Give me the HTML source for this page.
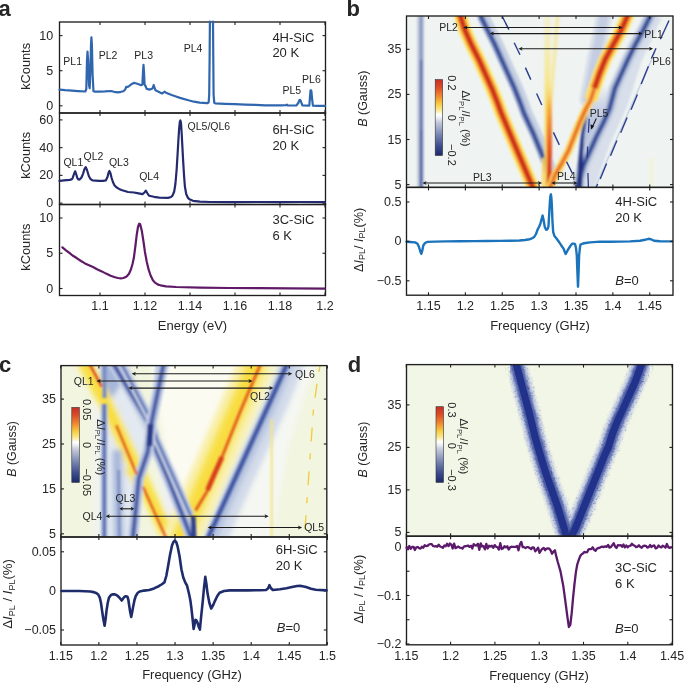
<!DOCTYPE html>
<html><head><meta charset="utf-8"><style>
html,body{margin:0;padding:0;background:#fff;width:685px;height:683px;overflow:hidden}
svg{display:block;will-change:transform}
text{font-family:"Liberation Sans", sans-serif}
</style></head><body>
<svg width="685" height="683" viewBox="0 0 685 683" shape-rendering="auto">
<rect width="685" height="683" fill="#fff"/>
<g id="pa">
<rect x="59.50" y="22.00" width="266.00" height="91.00" fill="none" stroke="#1f1f1f" stroke-width="1.35" />
<line x1="100.00" y1="22.00" x2="100.00" y2="25.00" stroke="#1f1f1f" stroke-width="1.1" />
<line x1="100.00" y1="113.00" x2="100.00" y2="110.00" stroke="#1f1f1f" stroke-width="1.1" />
<line x1="145.00" y1="22.00" x2="145.00" y2="25.00" stroke="#1f1f1f" stroke-width="1.1" />
<line x1="145.00" y1="113.00" x2="145.00" y2="110.00" stroke="#1f1f1f" stroke-width="1.1" />
<line x1="190.00" y1="22.00" x2="190.00" y2="25.00" stroke="#1f1f1f" stroke-width="1.1" />
<line x1="190.00" y1="113.00" x2="190.00" y2="110.00" stroke="#1f1f1f" stroke-width="1.1" />
<line x1="235.00" y1="22.00" x2="235.00" y2="25.00" stroke="#1f1f1f" stroke-width="1.1" />
<line x1="235.00" y1="113.00" x2="235.00" y2="110.00" stroke="#1f1f1f" stroke-width="1.1" />
<line x1="280.00" y1="22.00" x2="280.00" y2="25.00" stroke="#1f1f1f" stroke-width="1.1" />
<line x1="280.00" y1="113.00" x2="280.00" y2="110.00" stroke="#1f1f1f" stroke-width="1.1" />
<line x1="325.00" y1="22.00" x2="325.00" y2="25.00" stroke="#1f1f1f" stroke-width="1.1" />
<line x1="325.00" y1="113.00" x2="325.00" y2="110.00" stroke="#1f1f1f" stroke-width="1.1" />
<line x1="59.50" y1="105.80" x2="62.50" y2="105.80" stroke="#1f1f1f" stroke-width="1.1" />
<line x1="325.50" y1="105.80" x2="322.50" y2="105.80" stroke="#1f1f1f" stroke-width="1.1" />
<line x1="59.50" y1="70.70" x2="62.50" y2="70.70" stroke="#1f1f1f" stroke-width="1.1" />
<line x1="325.50" y1="70.70" x2="322.50" y2="70.70" stroke="#1f1f1f" stroke-width="1.1" />
<line x1="59.50" y1="35.60" x2="62.50" y2="35.60" stroke="#1f1f1f" stroke-width="1.1" />
<line x1="325.50" y1="35.60" x2="322.50" y2="35.60" stroke="#1f1f1f" stroke-width="1.1" />
<text x="53.20" y="109.80" font-size="12.5" text-anchor="end" fill="#262626" >0</text>
<text x="53.20" y="74.70" font-size="12.5" text-anchor="end" fill="#262626" >5</text>
<text x="53.20" y="39.60" font-size="12.5" text-anchor="end" fill="#262626" >10</text>
<text x="0.00" y="0.00" font-size="12.8" text-anchor="middle" fill="#262626" transform="translate(30.4,66.4) rotate(-90)">kCounts</text>
<rect x="59.50" y="113.00" width="266.00" height="91.50" fill="none" stroke="#1f1f1f" stroke-width="1.35" />
<line x1="100.00" y1="113.00" x2="100.00" y2="116.00" stroke="#1f1f1f" stroke-width="1.1" />
<line x1="100.00" y1="204.50" x2="100.00" y2="201.50" stroke="#1f1f1f" stroke-width="1.1" />
<line x1="145.00" y1="113.00" x2="145.00" y2="116.00" stroke="#1f1f1f" stroke-width="1.1" />
<line x1="145.00" y1="204.50" x2="145.00" y2="201.50" stroke="#1f1f1f" stroke-width="1.1" />
<line x1="190.00" y1="113.00" x2="190.00" y2="116.00" stroke="#1f1f1f" stroke-width="1.1" />
<line x1="190.00" y1="204.50" x2="190.00" y2="201.50" stroke="#1f1f1f" stroke-width="1.1" />
<line x1="235.00" y1="113.00" x2="235.00" y2="116.00" stroke="#1f1f1f" stroke-width="1.1" />
<line x1="235.00" y1="204.50" x2="235.00" y2="201.50" stroke="#1f1f1f" stroke-width="1.1" />
<line x1="280.00" y1="113.00" x2="280.00" y2="116.00" stroke="#1f1f1f" stroke-width="1.1" />
<line x1="280.00" y1="204.50" x2="280.00" y2="201.50" stroke="#1f1f1f" stroke-width="1.1" />
<line x1="325.00" y1="113.00" x2="325.00" y2="116.00" stroke="#1f1f1f" stroke-width="1.1" />
<line x1="325.00" y1="204.50" x2="325.00" y2="201.50" stroke="#1f1f1f" stroke-width="1.1" />
<line x1="59.50" y1="203.10" x2="62.50" y2="203.10" stroke="#1f1f1f" stroke-width="1.1" />
<line x1="325.50" y1="203.10" x2="322.50" y2="203.10" stroke="#1f1f1f" stroke-width="1.1" />
<line x1="59.50" y1="175.37" x2="62.50" y2="175.37" stroke="#1f1f1f" stroke-width="1.1" />
<line x1="325.50" y1="175.37" x2="322.50" y2="175.37" stroke="#1f1f1f" stroke-width="1.1" />
<line x1="59.50" y1="147.63" x2="62.50" y2="147.63" stroke="#1f1f1f" stroke-width="1.1" />
<line x1="325.50" y1="147.63" x2="322.50" y2="147.63" stroke="#1f1f1f" stroke-width="1.1" />
<line x1="59.50" y1="119.90" x2="62.50" y2="119.90" stroke="#1f1f1f" stroke-width="1.1" />
<line x1="325.50" y1="119.90" x2="322.50" y2="119.90" stroke="#1f1f1f" stroke-width="1.1" />
<text x="53.20" y="207.10" font-size="12.5" text-anchor="end" fill="#262626" >0</text>
<text x="53.20" y="179.37" font-size="12.5" text-anchor="end" fill="#262626" >20</text>
<text x="53.20" y="151.63" font-size="12.5" text-anchor="end" fill="#262626" >40</text>
<text x="53.20" y="123.90" font-size="12.5" text-anchor="end" fill="#262626" >60</text>
<text x="0.00" y="0.00" font-size="12.8" text-anchor="middle" fill="#262626" transform="translate(30.4,155.4) rotate(-90)">kCounts</text>
<rect x="59.50" y="204.50" width="266.00" height="91.00" fill="none" stroke="#1f1f1f" stroke-width="1.35" />
<line x1="100.00" y1="204.50" x2="100.00" y2="207.50" stroke="#1f1f1f" stroke-width="1.1" />
<line x1="100.00" y1="295.50" x2="100.00" y2="292.50" stroke="#1f1f1f" stroke-width="1.1" />
<line x1="145.00" y1="204.50" x2="145.00" y2="207.50" stroke="#1f1f1f" stroke-width="1.1" />
<line x1="145.00" y1="295.50" x2="145.00" y2="292.50" stroke="#1f1f1f" stroke-width="1.1" />
<line x1="190.00" y1="204.50" x2="190.00" y2="207.50" stroke="#1f1f1f" stroke-width="1.1" />
<line x1="190.00" y1="295.50" x2="190.00" y2="292.50" stroke="#1f1f1f" stroke-width="1.1" />
<line x1="235.00" y1="204.50" x2="235.00" y2="207.50" stroke="#1f1f1f" stroke-width="1.1" />
<line x1="235.00" y1="295.50" x2="235.00" y2="292.50" stroke="#1f1f1f" stroke-width="1.1" />
<line x1="280.00" y1="204.50" x2="280.00" y2="207.50" stroke="#1f1f1f" stroke-width="1.1" />
<line x1="280.00" y1="295.50" x2="280.00" y2="292.50" stroke="#1f1f1f" stroke-width="1.1" />
<line x1="325.00" y1="204.50" x2="325.00" y2="207.50" stroke="#1f1f1f" stroke-width="1.1" />
<line x1="325.00" y1="295.50" x2="325.00" y2="292.50" stroke="#1f1f1f" stroke-width="1.1" />
<line x1="59.50" y1="288.50" x2="62.50" y2="288.50" stroke="#1f1f1f" stroke-width="1.1" />
<line x1="325.50" y1="288.50" x2="322.50" y2="288.50" stroke="#1f1f1f" stroke-width="1.1" />
<line x1="59.50" y1="253.25" x2="62.50" y2="253.25" stroke="#1f1f1f" stroke-width="1.1" />
<line x1="325.50" y1="253.25" x2="322.50" y2="253.25" stroke="#1f1f1f" stroke-width="1.1" />
<line x1="59.50" y1="218.00" x2="62.50" y2="218.00" stroke="#1f1f1f" stroke-width="1.1" />
<line x1="325.50" y1="218.00" x2="322.50" y2="218.00" stroke="#1f1f1f" stroke-width="1.1" />
<text x="53.20" y="292.50" font-size="12.5" text-anchor="end" fill="#262626" >0</text>
<text x="53.20" y="257.25" font-size="12.5" text-anchor="end" fill="#262626" >5</text>
<text x="53.20" y="222.00" font-size="12.5" text-anchor="end" fill="#262626" >10</text>
<text x="0.00" y="0.00" font-size="12.8" text-anchor="middle" fill="#262626" transform="translate(30.4,247.2) rotate(-90)">kCounts</text>
<text x="100.00" y="310.20" font-size="12.5" text-anchor="middle" fill="#262626" >1.1</text>
<text x="145.00" y="310.20" font-size="12.5" text-anchor="middle" fill="#262626" >1.12</text>
<text x="190.00" y="310.20" font-size="12.5" text-anchor="middle" fill="#262626" >1.14</text>
<text x="235.00" y="310.20" font-size="12.5" text-anchor="middle" fill="#262626" >1.16</text>
<text x="280.00" y="310.20" font-size="12.5" text-anchor="middle" fill="#262626" >1.18</text>
<text x="325.00" y="310.20" font-size="12.5" text-anchor="middle" fill="#262626" >1.2</text>
<text x="192.50" y="330.20" font-size="13" text-anchor="middle" fill="#262626" >Energy (eV)</text>
<polyline points="59.5,89.6 65.0,90.2 71.9,90.7 78.0,91.1 85.3,91.5 86.3,89.0 87.0,60.0 87.5,51.7 88.1,60.0 89.0,85.0 89.7,88.2 90.4,70.0 91.0,45.0 91.4,37.4 91.9,45.0 92.6,75.0 93.5,91.2 95.0,91.6 99.7,91.6 105.0,91.4 110.9,91.0 114.0,91.8 117.8,92.3 121.0,91.8 123.4,91.2 125.2,89.5 126.2,86.8 127.5,87.0 129.0,86.1 131.0,84.5 133.8,82.9 135.6,83.3 138.0,84.0 141.1,85.2 142.4,84.5 143.0,72.0 143.5,64.8 144.0,72.0 144.6,84.7 145.5,86.0 146.7,88.9 150.0,89.6 152.5,88.5 153.7,85.1 154.5,87.5 155.5,90.3 158.0,91.5 162.0,93.5 164.0,92.2 164.8,91.7 166.0,92.8 171.7,95.0 176.0,96.5 180.0,97.9 188.4,100.3 194.0,101.7 199.6,102.7 207.2,103.2 208.6,102.5 209.2,95.0 209.6,60.0 209.9,21.5" fill="none" stroke="#2f66ae" stroke-width="2.2" stroke-linejoin="round" stroke-linecap="round" />
<polyline points="213.0,21.5 213.3,60.0 213.6,95.0 214.3,102.8 215.3,103.4 225.0,103.9 234.8,104.2 245.0,104.6 255.7,104.9 265.0,105.3 280.0,105.4 286.0,105.1 286.8,104.6 287.6,105.3 296.3,105.5 298.3,103.0 299.3,100.3 299.9,99.8 300.6,100.5 301.6,103.5 302.5,105.5 309.3,105.6 310.0,97.0 310.5,90.6 310.9,90.2 311.4,91.0 312.0,98.0 312.9,105.6 318.0,105.8 325.0,105.9" fill="none" stroke="#2f66ae" stroke-width="2.2" stroke-linejoin="round" stroke-linecap="round" />
<polyline points="59.5,180.9 64.0,180.4 69.7,179.9 71.5,179.4 72.6,178.2 74.0,174.0 75.2,171.3 76.3,174.5 77.3,178.0 78.5,179.5 79.6,179.6 81.5,177.5 83.1,173.6 84.5,169.0 85.7,167.1 87.0,170.0 88.9,176.2 90.5,179.0 92.5,180.3 98.9,180.9 103.0,180.9 105.9,180.3 107.5,177.0 108.6,172.5 109.4,171.0 110.4,173.0 111.5,177.5 112.9,182.0 114.6,185.5 116.4,187.3 119.0,188.9 122.2,190.2 128.1,192.0 134.0,192.5 137.3,193.2 142.5,194.2 144.5,192.5 145.8,190.6 147.2,193.0 149.0,195.7 154.0,196.8 159.3,197.6 168.1,197.9 171.0,197.0 172.5,195.7 174.2,191.5 175.4,184.0 176.6,170.0 177.6,154.0 178.4,140.0 179.1,129.0 179.8,122.0 180.4,120.5 181.0,123.0 181.6,132.0 182.3,145.0 183.0,158.4 184.0,175.0 184.9,186.5 186.2,194.0 187.9,197.8 190.0,199.6 193.0,200.8 200.0,201.6 210.0,202.0 230.0,202.1 260.0,202.0 280.0,202.1 300.0,202.0 325.0,202.2" fill="none" stroke="#232a6e" stroke-width="2.2" stroke-linejoin="round" stroke-linecap="round" />
<polyline points="62.4,247.3 66.0,250.3 69.7,253.2 73.0,255.8 77.0,258.3 81.0,261.0 85.0,263.4 89.0,265.2 93.0,267.0 97.0,269.2 101.8,271.4 106.0,273.6 110.6,275.8 115.0,277.2 118.0,278.0 120.8,278.3 123.5,278.0 126.6,276.5 129.0,273.8 131.0,269.2 132.5,264.0 133.9,257.6 135.4,246.0 136.8,234.2 138.0,227.0 139.2,223.7 140.2,224.3 141.9,231.3 143.4,241.0 144.9,251.7 146.7,261.5 148.5,269.2 150.6,275.5 152.9,280.2 155.0,282.6 158.0,284.6 160.5,285.3 166.0,286.3 176.3,287.0 200.0,287.6 228.8,288.0 260.0,288.2 290.0,288.4 325.0,288.6" fill="none" stroke="#5e1a66" stroke-width="2.2" stroke-linejoin="round" stroke-linecap="round" />
<text x="63.30" y="65.10" font-size="10.5" text-anchor="start" fill="#262626" >PL1</text>
<text x="98.70" y="59.00" font-size="10.5" text-anchor="start" fill="#262626" >PL2</text>
<text x="134.30" y="58.50" font-size="10.5" text-anchor="start" fill="#262626" >PL3</text>
<text x="183.70" y="52.00" font-size="10.5" text-anchor="start" fill="#262626" >PL4</text>
<text x="282.50" y="94.10" font-size="10.5" text-anchor="start" fill="#262626" >PL5</text>
<text x="302.10" y="83.20" font-size="10.5" text-anchor="start" fill="#262626" >PL6</text>
<text x="63.40" y="166.20" font-size="10.5" text-anchor="start" fill="#262626" >QL1</text>
<text x="83.60" y="159.70" font-size="10.5" text-anchor="start" fill="#262626" >QL2</text>
<text x="108.90" y="166.20" font-size="10.5" text-anchor="start" fill="#262626" >QL3</text>
<text x="139.20" y="179.60" font-size="10.5" text-anchor="start" fill="#262626" >QL4</text>
<text x="187.60" y="129.70" font-size="10.5" text-anchor="start" fill="#262626" >QL5/QL6</text>
<text x="272.40" y="41.70" font-size="13" text-anchor="start" fill="#262626" >4H-SiC</text>
<text x="272.40" y="57.00" font-size="13" text-anchor="start" fill="#262626" >20 K</text>
<text x="272.40" y="133.70" font-size="13" text-anchor="start" fill="#262626" >6H-SiC</text>
<text x="272.40" y="149.80" font-size="13" text-anchor="start" fill="#262626" >20 K</text>
<text x="272.50" y="223.90" font-size="13" text-anchor="start" fill="#262626" >3C-SiC</text>
<text x="272.50" y="239.70" font-size="13" text-anchor="start" fill="#262626" >6 K</text>
</g>
<text x="-1.40" y="16.10" font-size="22" text-anchor="start" fill="#262626" font-weight="bold" fill="#000">a</text>
<g id="pb">
<clipPath id="clipb"><rect x="406.5" y="16" width="266.5" height="171.4"/></clipPath><filter id="blb" x="-5%" y="-5%" width="110%" height="110%"><feGaussianBlur stdDeviation="0.9"/></filter><g clip-path="url(#clipb)"><rect x="406.5" y="16" width="266.5" height="171.4" fill="#eff3f2"/><g filter="url(#blb)"><line x1="420.6" y1="16.0" x2="420.6" y2="187.4" stroke="#c6cede" stroke-width="7" stroke-opacity="1" stroke-linecap="butt" /><line x1="421.1" y1="16.0" x2="421.1" y2="187.4" stroke="#8e9cc6" stroke-width="3.6" stroke-opacity="1" stroke-linecap="butt" /><line x1="421.1" y1="60.0" x2="421.1" y2="187.4" stroke="#6474ae" stroke-width="2.6" stroke-opacity="1" stroke-linecap="butt" /><line x1="421.1" y1="130.0" x2="421.1" y2="187.4" stroke="#5263a6" stroke-width="2.4" stroke-opacity="1" stroke-linecap="butt" /><polyline points="605.0,12.0 596.0,55.0 587.5,99.5" fill="none" stroke="#d8dfea" stroke-width="16" stroke-opacity="1" stroke-linejoin="round" stroke-linecap="round"/><polyline points="605.0,12.0 596.0,55.0 587.5,99.5" fill="none" stroke="#c4cde1" stroke-width="9" stroke-opacity="1" stroke-linejoin="round" stroke-linecap="round"/><polyline points="480.0,10.0 481.5,17.9 487.4,29.7 494.7,44.3 501.3,59.0 507.9,73.6 514.5,88.3 520.3,103.0 524.0,113.2 534.0,135.0 546.2,165.0 550.0,178.0" fill="none" stroke="#c6d0e2" stroke-width="12" stroke-opacity="1" stroke-linejoin="round" transform="translate(2.5,0)"/><polyline points="480.0,10.0 481.5,17.9 487.4,29.7 494.7,44.3 501.3,59.0 507.9,73.6 514.5,88.3 520.3,103.0 524.0,113.2 534.0,135.0 546.2,165.0 550.0,178.0" fill="none" stroke="#8d9ec8" stroke-width="7" stroke-opacity="1" stroke-linejoin="round" /><polyline points="480.0,10.0 481.5,17.9 487.4,29.7 494.7,44.3 501.3,59.0 507.9,73.6 514.5,88.3 520.3,103.0 524.0,113.2 534.0,135.0 546.2,165.0 550.0,178.0" fill="none" stroke="#3d559e" stroke-width="3.5" stroke-opacity="1" stroke-linejoin="round" /><polyline points="480.0,10.0 481.5,17.9 487.4,29.7 494.7,44.3 501.3,59.0 507.9,73.6 514.5,88.3 520.3,103.0 524.0,113.2 534.0,135.0 546.2,165.0 550.0,178.0" fill="none" stroke="#2a3f8c" stroke-width="1.8" stroke-opacity="1" stroke-linejoin="round" /><linearGradient id="fbb" x1="0" y1="0" x2="0" y2="1"><stop offset="0" stop-color="#b8c3de" stop-opacity="0"/><stop offset="0.3" stop-color="#c0cae1"/><stop offset="1" stop-color="#aab7d8"/></linearGradient><polygon points="590,85 616,85 603.3,122.8 590.1,150.7 579.6,178.5 578.5,187 577,187 579.6,164.6 582.4,136.8 586.6,108.9" fill="url(#fbb)"/><polyline points="656.0,16.0 636.0,59.0 622.0,103.0 604.0,143.0 588.0,187.4" fill="none" stroke="#d8dfea" stroke-width="12" stroke-opacity="1" stroke-linejoin="round" /><polyline points="652.0,10.0 649.3,17.9 643.5,29.7 635.4,44.3 628.1,59.0 621.5,73.6 614.9,88.3 609.5,108.9 603.3,122.8 596.3,136.8 590.1,150.7 583.8,164.6 579.6,178.5 578.2,190.0" fill="none" stroke="#c6d0e2" stroke-width="12" stroke-opacity="1" stroke-linejoin="round" /><polyline points="652.0,10.0 649.3,17.9 643.5,29.7 635.4,44.3 628.1,59.0 621.5,73.6 614.9,88.3 609.5,108.9 603.3,122.8 596.3,136.8 590.1,150.7 583.8,164.6 579.6,178.5 578.2,190.0" fill="none" stroke="#8d9ec8" stroke-width="7" stroke-opacity="1" stroke-linejoin="round" /><polyline points="652.0,10.0 649.3,17.9 643.5,29.7 635.4,44.3 628.1,59.0 621.5,73.6 614.9,88.3 609.5,108.9 603.3,122.8 596.3,136.8 590.1,150.7 583.8,164.6 579.6,178.5 578.2,190.0" fill="none" stroke="#3d559e" stroke-width="3.5" stroke-opacity="1" stroke-linejoin="round" /><polyline points="652.0,10.0 649.3,17.9 643.5,29.7 635.4,44.3 628.1,59.0 621.5,73.6 614.9,88.3 609.5,108.9 603.3,122.8 596.3,136.8 590.1,150.7 583.8,164.6 579.6,178.5 578.2,190.0" fill="none" stroke="#2a3f8c" stroke-width="1.8" stroke-opacity="1" stroke-linejoin="round" /><polyline points="590.0,90.0 586.6,108.9 584.5,122.8 582.4,136.8 581.0,150.7 579.6,164.6 578.9,178.5 578.6,190.0" fill="none" stroke="#5a6eb0" stroke-width="4" stroke-opacity="1" stroke-linejoin="round" /><polyline points="590.0,90.0 586.6,108.9 584.5,122.8 582.4,136.8 581.0,150.7 579.6,164.6 578.9,178.5 578.6,190.0" fill="none" stroke="#24368a" stroke-width="2.2" stroke-opacity="1" stroke-linejoin="round" /><polygon points="582.6,136 583.8,136 582.2,188 576,188 578.6,165" fill="#22327f"/><linearGradient id="ygb" x1="0" y1="0" x2="0" y2="1"><stop offset="0" stop-color="#f3f0d0"/><stop offset="0.3" stop-color="#f6eaa0"/><stop offset="0.55" stop-color="#f8e070"/><stop offset="1" stop-color="#f8d050"/></linearGradient><rect x="544.5" y="16" width="6" height="171.4" fill="url(#ygb)"/><line x1="557.5" y1="16.0" x2="549.5" y2="120.0" stroke="#f3eec8" stroke-width="4.5" stroke-opacity="1" stroke-linecap="butt" /><line x1="557.5" y1="16.0" x2="549.5" y2="120.0" stroke="#f5e8a0" stroke-width="2.2" stroke-opacity="1" stroke-linecap="butt" /><linearGradient id="ocb" x1="0" y1="0" x2="0" y2="1"><stop offset="0" stop-color="#f8e070" stop-opacity="0"/><stop offset="0.25" stop-color="#f6b040"/><stop offset="0.6" stop-color="#e8602a"/><stop offset="1" stop-color="#d0301a"/></linearGradient><rect x="546.8" y="80" width="5.2" height="107.4" fill="url(#ocb)"/><line x1="543.0" y1="158.0" x2="543.0" y2="187.4" stroke="#f8d860" stroke-width="2" stroke-opacity="1" stroke-linecap="butt" /><polyline points="459.5,10.0 461.0,17.9 464.7,29.7 471.2,44.3 478.6,59.0 485.2,73.6 491.8,88.3 497.6,103.0 501.3,113.2 533.5,189.0" fill="none" stroke="#fde86a" stroke-width="13" stroke-opacity="1" stroke-linejoin="round" /><polyline points="459.5,10.0 461.0,17.9 464.7,29.7 471.2,44.3 478.6,59.0 485.2,73.6 491.8,88.3 497.6,103.0 501.3,113.2 533.5,189.0" fill="none" stroke="#f7a93a" stroke-width="9" stroke-opacity="1" stroke-linejoin="round" /><polyline points="459.5,10.0 461.0,17.9 464.7,29.7 471.2,44.3 478.6,59.0 485.2,73.6 491.8,88.3 497.6,103.0 501.3,113.2 533.5,189.0" fill="none" stroke="#e0501f" stroke-width="5.5" stroke-opacity="1" stroke-linejoin="round" /><polyline points="459.5,10.0 461.0,17.9 464.7,29.7 471.2,44.3 478.6,59.0 485.2,73.6 491.8,88.3 497.6,103.0 501.3,113.2 533.5,189.0" fill="none" stroke="#c8281a" stroke-width="3" stroke-opacity="1" stroke-linejoin="round" /><polyline points="630.0,10.0 626.6,17.9 621.5,29.7 613.4,44.3 605.4,59.0 599.5,73.6 594.4,88.3 590.7,100.0" fill="none" stroke="#fde86a" stroke-width="13" stroke-opacity="1" stroke-linejoin="round" /><polyline points="630.0,10.0 626.6,17.9 621.5,29.7 613.4,44.3 605.4,59.0 599.5,73.6 594.4,88.3 590.7,100.0" fill="none" stroke="#f7a93a" stroke-width="9" stroke-opacity="1" stroke-linejoin="round" /><polyline points="630.0,10.0 626.6,17.9 621.5,29.7 613.4,44.3 605.4,59.0 599.5,73.6 594.4,88.3 590.7,100.0" fill="none" stroke="#e0501f" stroke-width="5.5" stroke-opacity="1" stroke-linejoin="round" /><polyline points="630.0,10.0 626.6,17.9 621.5,29.7 613.4,44.3 605.4,59.0 599.5,73.6 594.4,88.3 590.7,100.0" fill="none" stroke="#c8281a" stroke-width="3" stroke-opacity="1" stroke-linejoin="round" /><polyline points="594.4,88.3 590.7,100.0 585.9,108.9 579.6,122.8 574.0,136.8 568.5,150.7 562.0,163.0 555.5,174.0 549.5,189.4" fill="none" stroke="#fbe070" stroke-width="8" stroke-opacity="1" stroke-linejoin="round" /><polyline points="594.4,88.3 590.7,100.0 585.9,108.9 579.6,122.8 574.0,136.8 568.5,150.7 562.0,163.0 555.5,174.0 549.5,189.4" fill="none" stroke="#f6a83a" stroke-width="5" stroke-opacity="1" stroke-linejoin="round" /><polyline points="594.4,88.3 590.7,100.0 585.9,108.9 579.6,122.8 574.0,136.8 568.5,150.7 562.0,163.0 555.5,174.0 549.5,189.4" fill="none" stroke="#e8682a" stroke-width="2.6" stroke-opacity="1" stroke-linejoin="round" /></g><line x1="655" y1="52" x2="594" y2="190" stroke="#c9d3e4" stroke-width="1.6"/><line x1="502.3" y1="16.5" x2="508.9" y2="29.6" stroke="#2b3c8c" stroke-width="1.4"/><line x1="514.2" y1="42.7" x2="520" y2="54.7" stroke="#2b3c8c" stroke-width="1.4"/><line x1="525.4" y1="67.6" x2="530.8" y2="79.6" stroke="#2b3c8c" stroke-width="1.4"/><line x1="536.6" y1="93.5" x2="541.8" y2="105" stroke="#2b3c8c" stroke-width="1.4"/><line x1="553.4" y1="132.4" x2="559.3" y2="144.9" stroke="#2b3c8c" stroke-width="1.4"/><line x1="566.6" y1="161.7" x2="572.4" y2="173.4" stroke="#2b3c8c" stroke-width="1.4"/><line x1="577.5" y1="183" x2="579" y2="187" stroke="#2b3c8c" stroke-width="1.4"/><line x1="669" y1="20.5" x2="660.4" y2="39.3" stroke="#2b3c8c" stroke-width="1.4"/><line x1="656" y1="48.3" x2="651.4" y2="58.5" stroke="#2b3c8c" stroke-width="1.4"/><line x1="648.4" y1="66.2" x2="641.2" y2="84.1" stroke="#2b3c8c" stroke-width="1.4"/><line x1="637.4" y1="94.4" x2="631" y2="109.7" stroke="#2b3c8c" stroke-width="1.4"/><line x1="627.1" y1="117.4" x2="620.7" y2="132.8" stroke="#2b3c8c" stroke-width="1.4"/><line x1="616.9" y1="140.4" x2="610.5" y2="155.8" stroke="#2b3c8c" stroke-width="1.4"/><line x1="606.6" y1="163.5" x2="600.2" y2="178.9" stroke="#2b3c8c" stroke-width="1.4"/><line x1="597.7" y1="184" x2="596.3" y2="187" stroke="#2b3c8c" stroke-width="1.4"/><line x1="589.2" y1="118.7" x2="588.4" y2="132.6" stroke="#2b3c8c" stroke-width="1.3"/><line x1="587.6" y1="146.5" x2="587.4" y2="157.6" stroke="#2b3c8c" stroke-width="1.3"/><line x1="587.9" y1="173" x2="588.4" y2="187" stroke="#2b3c8c" stroke-width="1.3"/><line x1="651.5" y1="158.0" x2="651.5" y2="187.4" stroke="#f2f3de" stroke-width="4" stroke-opacity="1" stroke-linecap="butt" /></g>
<linearGradient id="cbb" x1="0" y1="0" x2="0" y2="1"><stop offset="0" stop-color="#c3302a"/><stop offset="0.1" stop-color="#dc4a26"/><stop offset="0.22" stop-color="#f08a30"/><stop offset="0.32" stop-color="#f8cc40"/><stop offset="0.4" stop-color="#fbe890"/><stop offset="0.465" stop-color="#ffffff"/><stop offset="0.5" stop-color="#eef0f4"/><stop offset="0.56" stop-color="#c6cadc"/><stop offset="0.72" stop-color="#7a88b4"/><stop offset="0.88" stop-color="#3a4a8c"/><stop offset="1" stop-color="#1c2a6a"/></linearGradient><rect x="435.2" y="79.6" width="7.4" height="75.9" fill="url(#cbb)" stroke="#333" stroke-width="0.6"/>
<text x="0" y="0" font-size="11" text-anchor="middle" fill="#262626" transform="translate(447.60,82.90) rotate(90)">0.2</text>
<text x="0" y="0" font-size="11" text-anchor="middle" fill="#262626" transform="translate(447.60,117.90) rotate(90)">0</text>
<text x="0" y="0" font-size="11" text-anchor="middle" fill="#262626" transform="translate(447.60,154.90) rotate(90)">&#8722;0.2</text>
<text x="0" y="0" font-size="11.2" text-anchor="start" fill="#262626" transform="translate(461.60,90.50) rotate(90)">Δ<tspan font-style="italic">I</tspan><tspan font-size="7.6" dy="2.2">PL</tspan><tspan dy="-2.2">/</tspan><tspan font-style="italic">I</tspan><tspan font-size="7.6" dy="2.2">PL</tspan><tspan dy="-2.2"> (%)</tspan></text>
<text x="644.20" y="37.80" font-size="10.5" text-anchor="start" fill="#262626" >PL1</text>
<text x="439.20" y="31.30" font-size="10.5" text-anchor="start" fill="#262626" >PL2</text>
<text x="473.00" y="180.70" font-size="10.5" text-anchor="start" fill="#262626" >PL3</text>
<text x="557.00" y="180.10" font-size="10.5" text-anchor="start" fill="#262626" >PL4</text>
<text x="589.70" y="116.80" font-size="10.5" text-anchor="start" fill="#262626" >PL5</text>
<text x="652.20" y="64.80" font-size="10.5" text-anchor="start" fill="#262626" >PL6</text>
<polyline points="406.5,241.8 410.0,242.0 415.2,242.4 417.5,243.8 419.0,247.0 420.5,252.0 421.3,253.8 422.2,251.0 423.3,245.5 425.0,243.0 427.5,241.9 435.0,241.6 445.9,241.4 460.0,241.3 475.0,241.1 486.7,241.0 500.0,240.9 510.0,240.7 519.4,240.5 525.0,240.0 529.7,239.2 532.0,238.3 534.2,237.0 536.0,234.0 537.6,229.6 539.2,226.5 540.4,223.7 541.6,219.0 542.6,215.6 543.6,220.0 544.8,227.1 546.0,229.6 546.8,229.8 547.8,228.5 548.5,226.2 549.3,212.0 549.9,201.8 550.4,196.0 550.9,194.3 551.4,198.0 551.9,206.9 552.5,222.0 553.2,232.1 554.5,236.0 556.1,238.0 558.0,240.5 560.3,243.9 562.0,246.5 563.7,248.9 564.8,252.0 565.7,254.0 566.8,252.0 567.9,249.8 570.0,246.5 572.1,243.6 574.0,243.6 575.1,244.2 576.0,248.0 576.8,255.7 577.4,272.0 578.0,286.8 578.6,272.0 579.1,255.7 580.0,247.0 580.5,244.7 583.0,243.5 585.5,243.0 590.0,242.4 600.0,241.6 610.0,241.8 620.0,241.6 630.0,241.4 640.0,240.8 645.0,239.8 648.4,238.8 651.0,239.2 654.0,240.8 660.0,241.3 672.0,241.4" fill="none" stroke="#1b74bb" stroke-width="2.4" stroke-linejoin="round" stroke-linecap="round" />
<text x="615.30" y="205.80" font-size="13" text-anchor="start" fill="#262626" >4H-SiC</text>
<text x="615.30" y="221.50" font-size="13" text-anchor="start" fill="#262626" >20 K</text>
<text x="615.30" y="284.90" font-size="13" text-anchor="start" fill="#262626" ><tspan font-style="italic">B</tspan>=0</text>
<line x1="465.7" y1="27.5" x2="620.1" y2="27.5" stroke="#1a1a1a" stroke-width="1.1"/><path d="M463.2,27.5 L467.4,25.5 L466.3,27.5 L467.4,29.5 Z" fill="#1a1a1a"/><path d="M622.6,27.5 L618.4,25.5 L619.5,27.5 L618.4,29.5 Z" fill="#1a1a1a"/>
<line x1="492.3" y1="33.6" x2="640.1" y2="33.6" stroke="#1a1a1a" stroke-width="1.1"/><path d="M489.8,33.6 L494.0,31.6 L492.9,33.6 L494.0,35.6 Z" fill="#1a1a1a"/><path d="M642.6,33.6 L638.4,31.6 L639.5,33.6 L638.4,35.6 Z" fill="#1a1a1a"/>
<line x1="520.9" y1="48.7" x2="650.6" y2="48.7" stroke="#1a1a1a" stroke-width="1.1"/><path d="M518.4,48.7 L522.6,46.7 L521.5,48.7 L522.6,50.7 Z" fill="#1a1a1a"/><path d="M653.1,48.7 L648.9,46.7 L650.0,48.7 L648.9,50.7 Z" fill="#1a1a1a"/>
<line x1="424.9" y1="183.0" x2="539.6" y2="183.0" stroke="#1a1a1a" stroke-width="1.1"/><path d="M422.4,183.0 L426.6,181.0 L425.5,183.0 L426.6,185.0 Z" fill="#1a1a1a"/><path d="M542.1,183.0 L537.9,181.0 L539.0,183.0 L537.9,185.0 Z" fill="#1a1a1a"/>
<line x1="553.8" y1="183.0" x2="575.1" y2="183.0" stroke="#1a1a1a" stroke-width="1.1"/><path d="M551.3,183.0 L555.5,181.0 L554.4,183.0 L555.5,185.0 Z" fill="#1a1a1a"/><path d="M577.6,183.0 L573.4,181.0 L574.5,183.0 L573.4,185.0 Z" fill="#1a1a1a"/>
<path d="M596.3,118.4 L591.6,128.4" stroke="#1a1a1a" stroke-width="1.1"/><path d="M590.9,129.8 L590.5,124.2 L594.3,126.0 Z" fill="#1a1a1a"/>
<rect x="406.50" y="16.00" width="266.50" height="171.40" fill="none" stroke="#1f1f1f" stroke-width="1.35" />
<line x1="428.50" y1="16.00" x2="428.50" y2="19.00" stroke="#1f1f1f" stroke-width="1.1" />
<line x1="428.50" y1="187.40" x2="428.50" y2="184.40" stroke="#1f1f1f" stroke-width="1.1" />
<line x1="465.38" y1="16.00" x2="465.38" y2="19.00" stroke="#1f1f1f" stroke-width="1.1" />
<line x1="465.38" y1="187.40" x2="465.38" y2="184.40" stroke="#1f1f1f" stroke-width="1.1" />
<line x1="502.25" y1="16.00" x2="502.25" y2="19.00" stroke="#1f1f1f" stroke-width="1.1" />
<line x1="502.25" y1="187.40" x2="502.25" y2="184.40" stroke="#1f1f1f" stroke-width="1.1" />
<line x1="539.12" y1="16.00" x2="539.12" y2="19.00" stroke="#1f1f1f" stroke-width="1.1" />
<line x1="539.12" y1="187.40" x2="539.12" y2="184.40" stroke="#1f1f1f" stroke-width="1.1" />
<line x1="576.00" y1="16.00" x2="576.00" y2="19.00" stroke="#1f1f1f" stroke-width="1.1" />
<line x1="576.00" y1="187.40" x2="576.00" y2="184.40" stroke="#1f1f1f" stroke-width="1.1" />
<line x1="612.88" y1="16.00" x2="612.88" y2="19.00" stroke="#1f1f1f" stroke-width="1.1" />
<line x1="612.88" y1="187.40" x2="612.88" y2="184.40" stroke="#1f1f1f" stroke-width="1.1" />
<line x1="649.75" y1="16.00" x2="649.75" y2="19.00" stroke="#1f1f1f" stroke-width="1.1" />
<line x1="649.75" y1="187.40" x2="649.75" y2="184.40" stroke="#1f1f1f" stroke-width="1.1" />
<line x1="406.50" y1="184.60" x2="409.50" y2="184.60" stroke="#1f1f1f" stroke-width="1.1" />
<line x1="673.00" y1="184.60" x2="670.00" y2="184.60" stroke="#1f1f1f" stroke-width="1.1" />
<line x1="406.50" y1="139.50" x2="409.50" y2="139.50" stroke="#1f1f1f" stroke-width="1.1" />
<line x1="673.00" y1="139.50" x2="670.00" y2="139.50" stroke="#1f1f1f" stroke-width="1.1" />
<line x1="406.50" y1="94.40" x2="409.50" y2="94.40" stroke="#1f1f1f" stroke-width="1.1" />
<line x1="673.00" y1="94.40" x2="670.00" y2="94.40" stroke="#1f1f1f" stroke-width="1.1" />
<line x1="406.50" y1="49.30" x2="409.50" y2="49.30" stroke="#1f1f1f" stroke-width="1.1" />
<line x1="673.00" y1="49.30" x2="670.00" y2="49.30" stroke="#1f1f1f" stroke-width="1.1" />
<rect x="406.50" y="187.40" width="266.50" height="107.80" fill="none" stroke="#1f1f1f" stroke-width="1.35" />
<line x1="428.50" y1="187.40" x2="428.50" y2="190.40" stroke="#1f1f1f" stroke-width="1.1" />
<line x1="428.50" y1="295.20" x2="428.50" y2="292.20" stroke="#1f1f1f" stroke-width="1.1" />
<line x1="465.38" y1="187.40" x2="465.38" y2="190.40" stroke="#1f1f1f" stroke-width="1.1" />
<line x1="465.38" y1="295.20" x2="465.38" y2="292.20" stroke="#1f1f1f" stroke-width="1.1" />
<line x1="502.25" y1="187.40" x2="502.25" y2="190.40" stroke="#1f1f1f" stroke-width="1.1" />
<line x1="502.25" y1="295.20" x2="502.25" y2="292.20" stroke="#1f1f1f" stroke-width="1.1" />
<line x1="539.12" y1="187.40" x2="539.12" y2="190.40" stroke="#1f1f1f" stroke-width="1.1" />
<line x1="539.12" y1="295.20" x2="539.12" y2="292.20" stroke="#1f1f1f" stroke-width="1.1" />
<line x1="576.00" y1="187.40" x2="576.00" y2="190.40" stroke="#1f1f1f" stroke-width="1.1" />
<line x1="576.00" y1="295.20" x2="576.00" y2="292.20" stroke="#1f1f1f" stroke-width="1.1" />
<line x1="612.88" y1="187.40" x2="612.88" y2="190.40" stroke="#1f1f1f" stroke-width="1.1" />
<line x1="612.88" y1="295.20" x2="612.88" y2="292.20" stroke="#1f1f1f" stroke-width="1.1" />
<line x1="649.75" y1="187.40" x2="649.75" y2="190.40" stroke="#1f1f1f" stroke-width="1.1" />
<line x1="649.75" y1="295.20" x2="649.75" y2="292.20" stroke="#1f1f1f" stroke-width="1.1" />
<line x1="406.50" y1="280.80" x2="409.50" y2="280.80" stroke="#1f1f1f" stroke-width="1.1" />
<line x1="673.00" y1="280.80" x2="670.00" y2="280.80" stroke="#1f1f1f" stroke-width="1.1" />
<line x1="406.50" y1="241.40" x2="409.50" y2="241.40" stroke="#1f1f1f" stroke-width="1.1" />
<line x1="673.00" y1="241.40" x2="670.00" y2="241.40" stroke="#1f1f1f" stroke-width="1.1" />
<line x1="406.50" y1="202.00" x2="409.50" y2="202.00" stroke="#1f1f1f" stroke-width="1.1" />
<line x1="673.00" y1="202.00" x2="670.00" y2="202.00" stroke="#1f1f1f" stroke-width="1.1" />
<text x="401.50" y="188.60" font-size="12.5" text-anchor="end" fill="#262626" >5</text>
<text x="401.50" y="143.50" font-size="12.5" text-anchor="end" fill="#262626" >15</text>
<text x="401.50" y="98.40" font-size="12.5" text-anchor="end" fill="#262626" >25</text>
<text x="401.50" y="53.30" font-size="12.5" text-anchor="end" fill="#262626" >35</text>
<text x="401.50" y="206.00" font-size="12.5" text-anchor="end" fill="#262626" >0.5</text>
<text x="401.50" y="245.40" font-size="12.5" text-anchor="end" fill="#262626" >0</text>
<text x="401.50" y="284.80" font-size="12.5" text-anchor="end" fill="#262626" >&#8722;0.5</text>
<text x="428.50" y="310.20" font-size="12.5" text-anchor="middle" fill="#262626" >1.15</text>
<text x="465.38" y="310.20" font-size="12.5" text-anchor="middle" fill="#262626" >1.2</text>
<text x="502.25" y="310.20" font-size="12.5" text-anchor="middle" fill="#262626" >1.25</text>
<text x="539.12" y="310.20" font-size="12.5" text-anchor="middle" fill="#262626" >1.3</text>
<text x="576.00" y="310.20" font-size="12.5" text-anchor="middle" fill="#262626" >1.35</text>
<text x="612.88" y="310.20" font-size="12.5" text-anchor="middle" fill="#262626" >1.4</text>
<text x="649.75" y="310.20" font-size="12.5" text-anchor="middle" fill="#262626" >1.45</text>
<text x="540.00" y="330.20" font-size="13" text-anchor="middle" fill="#262626" >Frequency (GHz)</text>
</g>
<text x="346.60" y="15.60" font-size="22" text-anchor="start" fill="#262626" font-weight="bold" fill="#000">b</text>
<text x="0.00" y="0.00" font-size="12.5" text-anchor="middle" fill="#262626" transform="translate(367.4,98.7) rotate(-90)"><tspan font-style="italic">B</tspan> (Gauss)</text>
<g id="pc">
<clipPath id="clipc"><rect x="61.0" y="365.6" width="265.8" height="171.39999999999998"/></clipPath><filter id="blc" x="-20%" y="-20%" width="140%" height="140%"><feGaussianBlur stdDeviation="2.5"/></filter><filter id="blc2" x="-20%" y="-20%" width="140%" height="140%"><feGaussianBlur stdDeviation="1.0"/></filter><g clip-path="url(#clipc)"><rect x="61.0" y="365.6" width="265.8" height="171.39999999999998" fill="#f2f5df"/><g filter="url(#blc)"><polygon points="150.0,362.0 245.0,362.0 205.0,470.0 190.0,515.0 178.0,515.0" fill="#fbfbf2"/><polygon points="100.0,362.0 112.0,362.0 152.0,438.0 140.0,478.0 132.0,540.0 100.0,540.0" fill="#e2e9f0"/><polyline points="97.0,405.0 97.0,540.0" fill="none" stroke="#f1f4ee" stroke-width="9" stroke-opacity="1" stroke-linejoin="round" stroke-linecap="butt"/><polygon points="295.0,362.0 316.0,362.0 288.0,450.0 272.0,540.0 222.0,540.0 252.0,450.0" fill="#f5f7f2"/><polygon points="113.0,362.0 126.0,362.0 153.0,425.0 150.0,440.0" fill="#c3cee5"/><polygon points="101.0,362.0 116.0,362.0 124.0,380.0 112.0,398.0 101.0,398.0" fill="#a6b6da"/><polygon points="155.0,445.0 175.0,470.0 190.0,520.0 185.0,540.0 170.0,540.0" fill="#eef0f2"/><polyline points="294.0,362.0 278.0,402.0 242.0,480.0 216.0,540.0" fill="none" stroke="#d3dbea" stroke-width="22" stroke-opacity="1" stroke-linejoin="round" stroke-linecap="butt"/><polyline points="288.0,362.0 272.0,402.0 236.0,480.0 210.0,540.0" fill="none" stroke="#b3c1de" stroke-width="12" stroke-opacity="1" stroke-linejoin="round" stroke-linecap="butt"/><polyline points="84.0,362.0 106.0,404.0 140.0,476.0 170.0,540.0" fill="none" stroke="#f9e864" stroke-width="15" stroke-opacity="1" stroke-linejoin="round" stroke-linecap="butt"/><polyline points="84.0,362.0 106.0,404.0 140.0,476.0 170.0,540.0" fill="none" stroke="#f8dc40" stroke-width="8" stroke-opacity="1" stroke-linejoin="round" stroke-linecap="butt"/><polyline points="178.0,545.0 206.0,480.0 257.0,362.0" fill="none" stroke="#f9f0aa" stroke-width="36" stroke-opacity="1" stroke-linejoin="round" stroke-linecap="butt"/><polyline points="178.0,545.0 206.0,480.0 257.0,362.0" fill="none" stroke="#f8e458" stroke-width="20" stroke-opacity="1" stroke-linejoin="round" stroke-linecap="butt"/><polyline points="178.0,545.0 206.0,480.0 257.0,362.0" fill="none" stroke="#f8dc40" stroke-width="10" stroke-opacity="1" stroke-linejoin="round" stroke-linecap="butt"/><polyline points="134.0,478.0 146.0,484.0" fill="none" stroke="#f8e050" stroke-width="12" stroke-opacity="1" stroke-linejoin="round" stroke-linecap="butt"/><polyline points="117.0,450.0 119.0,540.0" fill="none" stroke="#c0cce4" stroke-width="11" stroke-opacity="1" stroke-linejoin="round" stroke-linecap="butt"/><polyline points="117.0,450.0 119.0,540.0" fill="none" stroke="#a4b4d8" stroke-width="6" stroke-opacity="1" stroke-linejoin="round" stroke-linecap="butt"/><polyline points="128.0,468.0 144.0,486.0" fill="none" stroke="#f8e258" stroke-width="10" stroke-opacity="1" stroke-linejoin="round" stroke-linecap="butt"/></g><g filter="url(#blc2)"><polyline points="104.3,404.0 104.3,540.0" fill="none" stroke="#b6c3df" stroke-width="7" stroke-opacity="1" stroke-linejoin="round" stroke-linecap="butt"/><polyline points="104.3,404.0 104.3,540.0" fill="none" stroke="#5a70b0" stroke-width="3.4" stroke-opacity="1" stroke-linejoin="round" stroke-linecap="butt"/><polyline points="104.5,362.0 104.5,398.0" fill="none" stroke="#7a8ec4" stroke-width="4" stroke-opacity="1" stroke-linejoin="round" stroke-linecap="butt"/><polyline points="118.5,470.0 119.5,540.0" fill="none" stroke="#7a8cc0" stroke-width="2.2" stroke-opacity="1" stroke-linejoin="round" stroke-linecap="butt"/><polyline points="112.5,362.0 114.8,366.0 136.0,401.5 149.5,424.0 152.0,440.0 168.0,478.0 185.8,523.5 192.0,540.0" fill="none" stroke="#c8d2e6" stroke-width="11" stroke-opacity="1" stroke-linejoin="round" stroke-linecap="butt"/><polyline points="112.5,362.0 114.8,366.0 136.0,401.5 149.5,424.0 152.0,440.0 168.0,478.0 185.8,523.5 192.0,540.0" fill="none" stroke="#8c9ccb" stroke-width="6.5" stroke-opacity="1" stroke-linejoin="round" stroke-linecap="butt"/><polyline points="112.5,362.0 114.8,366.0 136.0,401.5 149.5,424.0 152.0,440.0 168.0,478.0 185.8,523.5 192.0,540.0" fill="none" stroke="#3a4d9c" stroke-width="2.6" stroke-opacity="1" stroke-linejoin="round" stroke-linecap="butt"/><polyline points="120.5,362.0 122.7,366.0 151.7,421.3 157.0,440.0 190.7,515.5" fill="none" stroke="#ccd5e8" stroke-width="8" stroke-opacity="1" stroke-linejoin="round" stroke-linecap="butt"/><polyline points="120.5,362.0 122.7,366.0 151.7,421.3 157.0,440.0 190.7,515.5" fill="none" stroke="#9fb0d6" stroke-width="4.5" stroke-opacity="1" stroke-linejoin="round" stroke-linecap="butt"/><polyline points="120.5,362.0 122.7,366.0 151.7,421.3 157.0,440.0 190.7,515.5" fill="none" stroke="#6275b4" stroke-width="2.2" stroke-opacity="1" stroke-linejoin="round" stroke-linecap="butt"/><polyline points="158.8,362.0 153.0,414.7" fill="none" stroke="#c3cee5" stroke-width="6" stroke-opacity="1" stroke-linejoin="round" stroke-linecap="butt"/><polyline points="164.0,362.0 151.7,421.3 147.7,452.0 138.8,478.6 132.7,540.0" fill="none" stroke="#c8d2e6" stroke-width="11" stroke-opacity="1" stroke-linejoin="round" stroke-linecap="butt"/><polyline points="164.0,362.0 151.7,421.3 147.7,452.0 138.8,478.6 132.7,540.0" fill="none" stroke="#8c9ccb" stroke-width="6.5" stroke-opacity="1" stroke-linejoin="round" stroke-linecap="butt"/><polyline points="164.0,362.0 151.7,421.3 147.7,452.0 138.8,478.6 132.7,540.0" fill="none" stroke="#3a4d9c" stroke-width="2.6" stroke-opacity="1" stroke-linejoin="round" stroke-linecap="butt"/><polyline points="150.5,424.0 149.5,446.0" fill="none" stroke="#2a3c8c" stroke-width="6" stroke-opacity="1" stroke-linejoin="round" stroke-linecap="butt"/><polyline points="288.0,362.0 270.0,402.0 234.5,480.0 208.5,537.0 207.0,541.0" fill="none" stroke="#7c90c4" stroke-width="6" stroke-opacity="1" stroke-linejoin="round" stroke-linecap="butt"/><polyline points="288.0,362.0 270.0,402.0 234.5,480.0 208.5,537.0 207.0,541.0" fill="none" stroke="#3a50a0" stroke-width="3.2" stroke-opacity="1" stroke-linejoin="round" stroke-linecap="butt"/><polyline points="193.0,516.0 194.0,540.0" fill="none" stroke="#2d3f8f" stroke-width="5" stroke-opacity="1" stroke-linejoin="round" stroke-linecap="butt"/><polyline points="88.5,362.0 101.7,386.8" fill="none" stroke="#d9401c" stroke-width="2.4" stroke-opacity="1" stroke-linejoin="round" stroke-linecap="butt"/><polyline points="116.3,425.4 136.8,474.5" fill="none" stroke="#e0541e" stroke-width="2.2" stroke-opacity="1" stroke-linejoin="round" stroke-linecap="butt"/><polyline points="142.9,486.7 167.0,540.0" fill="none" stroke="#e0541e" stroke-width="2.2" stroke-opacity="1" stroke-linejoin="round" stroke-linecap="butt"/><polyline points="195.5,510.5 206.7,492.0 222.0,457.0 240.0,412.0 261.5,362.0" fill="none" stroke="#e2561e" stroke-width="2.8" stroke-opacity="1" stroke-linejoin="round" stroke-linecap="butt"/><polyline points="207.5,490.0 214.0,475.0 222.0,457.0" fill="none" stroke="#d83c1a" stroke-width="4.8" stroke-opacity="1" stroke-linejoin="round" stroke-linecap="butt"/><polyline points="271.7,419.0 271.7,540.0" fill="none" stroke="#f2e48a" stroke-width="2.2" stroke-opacity="1" stroke-linejoin="round" stroke-linecap="butt"/></g><polyline points="320,366 316.7,385.5 313.3,411.2 304.5,536" fill="none" stroke="#f2cc40" stroke-width="1.35" stroke-dasharray="6,12,14,12"/></g>
<rect x="61.00" y="365.60" width="265.80" height="171.40" fill="none" stroke="#1f1f1f" stroke-width="1.35" />
<line x1="60.80" y1="365.60" x2="60.80" y2="368.60" stroke="#1f1f1f" stroke-width="1.1" />
<line x1="60.80" y1="537.00" x2="60.80" y2="534.00" stroke="#1f1f1f" stroke-width="1.1" />
<line x1="98.88" y1="365.60" x2="98.88" y2="368.60" stroke="#1f1f1f" stroke-width="1.1" />
<line x1="98.88" y1="537.00" x2="98.88" y2="534.00" stroke="#1f1f1f" stroke-width="1.1" />
<line x1="136.96" y1="365.60" x2="136.96" y2="368.60" stroke="#1f1f1f" stroke-width="1.1" />
<line x1="136.96" y1="537.00" x2="136.96" y2="534.00" stroke="#1f1f1f" stroke-width="1.1" />
<line x1="175.04" y1="365.60" x2="175.04" y2="368.60" stroke="#1f1f1f" stroke-width="1.1" />
<line x1="175.04" y1="537.00" x2="175.04" y2="534.00" stroke="#1f1f1f" stroke-width="1.1" />
<line x1="213.12" y1="365.60" x2="213.12" y2="368.60" stroke="#1f1f1f" stroke-width="1.1" />
<line x1="213.12" y1="537.00" x2="213.12" y2="534.00" stroke="#1f1f1f" stroke-width="1.1" />
<line x1="251.20" y1="365.60" x2="251.20" y2="368.60" stroke="#1f1f1f" stroke-width="1.1" />
<line x1="251.20" y1="537.00" x2="251.20" y2="534.00" stroke="#1f1f1f" stroke-width="1.1" />
<line x1="289.28" y1="365.60" x2="289.28" y2="368.60" stroke="#1f1f1f" stroke-width="1.1" />
<line x1="289.28" y1="537.00" x2="289.28" y2="534.00" stroke="#1f1f1f" stroke-width="1.1" />
<line x1="327.36" y1="365.60" x2="327.36" y2="368.60" stroke="#1f1f1f" stroke-width="1.1" />
<line x1="327.36" y1="537.00" x2="327.36" y2="534.00" stroke="#1f1f1f" stroke-width="1.1" />
<line x1="61.00" y1="533.80" x2="64.00" y2="533.80" stroke="#1f1f1f" stroke-width="1.1" />
<line x1="326.80" y1="533.80" x2="323.80" y2="533.80" stroke="#1f1f1f" stroke-width="1.1" />
<line x1="61.00" y1="488.90" x2="64.00" y2="488.90" stroke="#1f1f1f" stroke-width="1.1" />
<line x1="326.80" y1="488.90" x2="323.80" y2="488.90" stroke="#1f1f1f" stroke-width="1.1" />
<line x1="61.00" y1="444.00" x2="64.00" y2="444.00" stroke="#1f1f1f" stroke-width="1.1" />
<line x1="326.80" y1="444.00" x2="323.80" y2="444.00" stroke="#1f1f1f" stroke-width="1.1" />
<line x1="61.00" y1="399.10" x2="64.00" y2="399.10" stroke="#1f1f1f" stroke-width="1.1" />
<line x1="326.80" y1="399.10" x2="323.80" y2="399.10" stroke="#1f1f1f" stroke-width="1.1" />
<rect x="61.00" y="537.00" width="265.80" height="108.00" fill="none" stroke="#1f1f1f" stroke-width="1.35" />
<line x1="60.80" y1="537.00" x2="60.80" y2="540.00" stroke="#1f1f1f" stroke-width="1.1" />
<line x1="60.80" y1="645.00" x2="60.80" y2="642.00" stroke="#1f1f1f" stroke-width="1.1" />
<line x1="98.88" y1="537.00" x2="98.88" y2="540.00" stroke="#1f1f1f" stroke-width="1.1" />
<line x1="98.88" y1="645.00" x2="98.88" y2="642.00" stroke="#1f1f1f" stroke-width="1.1" />
<line x1="136.96" y1="537.00" x2="136.96" y2="540.00" stroke="#1f1f1f" stroke-width="1.1" />
<line x1="136.96" y1="645.00" x2="136.96" y2="642.00" stroke="#1f1f1f" stroke-width="1.1" />
<line x1="175.04" y1="537.00" x2="175.04" y2="540.00" stroke="#1f1f1f" stroke-width="1.1" />
<line x1="175.04" y1="645.00" x2="175.04" y2="642.00" stroke="#1f1f1f" stroke-width="1.1" />
<line x1="213.12" y1="537.00" x2="213.12" y2="540.00" stroke="#1f1f1f" stroke-width="1.1" />
<line x1="213.12" y1="645.00" x2="213.12" y2="642.00" stroke="#1f1f1f" stroke-width="1.1" />
<line x1="251.20" y1="537.00" x2="251.20" y2="540.00" stroke="#1f1f1f" stroke-width="1.1" />
<line x1="251.20" y1="645.00" x2="251.20" y2="642.00" stroke="#1f1f1f" stroke-width="1.1" />
<line x1="289.28" y1="537.00" x2="289.28" y2="540.00" stroke="#1f1f1f" stroke-width="1.1" />
<line x1="289.28" y1="645.00" x2="289.28" y2="642.00" stroke="#1f1f1f" stroke-width="1.1" />
<line x1="327.36" y1="537.00" x2="327.36" y2="540.00" stroke="#1f1f1f" stroke-width="1.1" />
<line x1="327.36" y1="645.00" x2="327.36" y2="642.00" stroke="#1f1f1f" stroke-width="1.1" />
<line x1="61.00" y1="630.00" x2="64.00" y2="630.00" stroke="#1f1f1f" stroke-width="1.1" />
<line x1="326.80" y1="630.00" x2="323.80" y2="630.00" stroke="#1f1f1f" stroke-width="1.1" />
<line x1="61.00" y1="590.90" x2="64.00" y2="590.90" stroke="#1f1f1f" stroke-width="1.1" />
<line x1="326.80" y1="590.90" x2="323.80" y2="590.90" stroke="#1f1f1f" stroke-width="1.1" />
<line x1="61.00" y1="551.80" x2="64.00" y2="551.80" stroke="#1f1f1f" stroke-width="1.1" />
<line x1="326.80" y1="551.80" x2="323.80" y2="551.80" stroke="#1f1f1f" stroke-width="1.1" />
<text x="56.00" y="537.80" font-size="12.5" text-anchor="end" fill="#262626" >5</text>
<text x="56.00" y="492.90" font-size="12.5" text-anchor="end" fill="#262626" >15</text>
<text x="56.00" y="448.00" font-size="12.5" text-anchor="end" fill="#262626" >25</text>
<text x="56.00" y="403.10" font-size="12.5" text-anchor="end" fill="#262626" >35</text>
<text x="56.00" y="555.80" font-size="12.5" text-anchor="end" fill="#262626" >0.05</text>
<text x="56.00" y="594.90" font-size="12.5" text-anchor="end" fill="#262626" >0</text>
<text x="56.00" y="634.00" font-size="12.5" text-anchor="end" fill="#262626" >&#8722;0.05</text>
<text x="60.80" y="660.00" font-size="12.5" text-anchor="middle" fill="#262626" >1.15</text>
<text x="98.88" y="660.00" font-size="12.5" text-anchor="middle" fill="#262626" >1.2</text>
<text x="136.96" y="660.00" font-size="12.5" text-anchor="middle" fill="#262626" >1.25</text>
<text x="175.04" y="660.00" font-size="12.5" text-anchor="middle" fill="#262626" >1.3</text>
<text x="213.12" y="660.00" font-size="12.5" text-anchor="middle" fill="#262626" >1.35</text>
<text x="251.20" y="660.00" font-size="12.5" text-anchor="middle" fill="#262626" >1.4</text>
<text x="289.28" y="660.00" font-size="12.5" text-anchor="middle" fill="#262626" >1.45</text>
<text x="327.36" y="660.00" font-size="12.5" text-anchor="middle" fill="#262626" >1.5</text>
<text x="192.00" y="679.00" font-size="13" text-anchor="middle" fill="#262626" >Frequency (GHz)</text>
<polyline points="61.5,591.0 70.0,591.0 79.0,591.0 85.0,591.2 90.4,591.5 93.5,592.1 96.0,592.9 98.2,594.5 99.8,597.6 101.0,603.0 102.1,610.9 103.3,619.0 104.6,625.7 105.6,619.0 106.5,610.9 107.7,603.0 109.0,597.6 111.0,595.0 113.1,594.2 115.0,594.4 116.9,595.3 119.3,597.5 121.7,600.5 123.1,598.5 124.5,596.7 126.0,596.2 127.4,596.7 128.4,600.0 129.3,606.2 130.2,612.0 131.2,617.0 132.2,612.0 133.1,607.1 134.5,600.0 135.9,595.7 137.8,592.8 139.7,591.5 144.0,590.6 149.2,590.0 154.0,588.4 158.7,586.2 161.5,584.5 164.4,582.4 166.3,576.0 168.2,565.4 170.0,555.0 172.0,545.4 173.4,542.0 174.8,540.7 176.2,542.0 177.6,546.4 179.5,556.0 181.4,569.2 183.3,577.5 185.2,582.4 187.0,585.5 189.0,593.8 190.3,600.0 191.3,607.4 192.5,618.0 193.6,628.9 194.5,625.0 195.4,619.9 196.5,620.5 197.7,623.3 198.8,627.0 199.9,629.6 201.2,616.0 202.6,602.9 204.0,588.0 205.3,576.9 206.4,584.0 207.6,593.8 209.4,603.0 211.2,608.5 213.2,605.0 215.1,600.6 217.3,596.0 219.6,592.7 224.0,591.0 229.8,590.4 247.9,590.4 260.0,590.2 266.0,590.0 268.0,588.5 269.4,585.2 270.8,588.0 272.8,590.0 280.0,589.2 286.4,588.2 292.0,587.0 297.0,586.0 301.1,585.9 306.0,587.0 311.0,588.8 315.8,589.8 326.5,590.4" fill="none" stroke="#1f2c6c" stroke-width="2.6" stroke-linejoin="round" stroke-linecap="round" />
<text x="275.70" y="554.20" font-size="13" text-anchor="start" fill="#262626" >6H-SiC</text>
<text x="275.70" y="570.10" font-size="13" text-anchor="start" fill="#262626" >20 K</text>
<text x="276.80" y="632.30" font-size="13" text-anchor="start" fill="#262626" ><tspan font-style="italic">B</tspan>=0</text>
<linearGradient id="cbc" x1="0" y1="0" x2="0" y2="1"><stop offset="0" stop-color="#c3302a"/><stop offset="0.1" stop-color="#dc4a26"/><stop offset="0.22" stop-color="#f08a30"/><stop offset="0.32" stop-color="#f8cc40"/><stop offset="0.4" stop-color="#fbe890"/><stop offset="0.465" stop-color="#ffffff"/><stop offset="0.5" stop-color="#eef0f4"/><stop offset="0.56" stop-color="#c6cadc"/><stop offset="0.72" stop-color="#7a88b4"/><stop offset="0.88" stop-color="#3a4a8c"/><stop offset="1" stop-color="#1c2a6a"/></linearGradient><rect x="71.8" y="407.4" width="7.5" height="75.0" fill="url(#cbc)" stroke="#333" stroke-width="0.6"/>
<text x="0" y="0" font-size="11" text-anchor="middle" fill="#262626" transform="translate(82.60,409.60) rotate(90)">0.05</text>
<text x="0" y="0" font-size="11" text-anchor="middle" fill="#262626" transform="translate(82.60,445.10) rotate(90)">0</text>
<text x="0" y="0" font-size="11" text-anchor="middle" fill="#262626" transform="translate(82.60,482.30) rotate(90)">&#8722;0.05</text>
<text x="0" y="0" font-size="11.2" text-anchor="start" fill="#262626" transform="translate(97.00,419.20) rotate(90)">Δ<tspan font-style="italic">I</tspan><tspan font-size="7.6" dy="2.2">PL</tspan><tspan dy="-2.2">/</tspan><tspan font-style="italic">I</tspan><tspan font-size="7.6" dy="2.2">PL</tspan><tspan dy="-2.2"> (%)</tspan></text>
<text x="73.80" y="385.00" font-size="10.5" text-anchor="start" fill="#262626" >QL1</text>
<text x="250.00" y="399.80" font-size="10.5" text-anchor="start" fill="#262626" >QL2</text>
<text x="115.50" y="502.00" font-size="10.5" text-anchor="start" fill="#262626" >QL3</text>
<text x="82.50" y="520.40" font-size="10.5" text-anchor="start" fill="#262626" >QL4</text>
<text x="304.20" y="531.40" font-size="10.5" text-anchor="start" fill="#262626" >QL5</text>
<text x="295.10" y="377.60" font-size="10.5" text-anchor="start" fill="#262626" >QL6</text>
<line x1="99.0" y1="381.0" x2="250.1" y2="381.0" stroke="#1a1a1a" stroke-width="1.1"/><path d="M96.5,381.0 L100.7,379.0 L99.7,381.0 L100.7,383.0 Z" fill="#1a1a1a"/><path d="M252.6,381.0 L248.4,379.0 L249.4,381.0 L248.4,383.0 Z" fill="#1a1a1a"/>
<line x1="130.8" y1="388.1" x2="270.9" y2="388.1" stroke="#1a1a1a" stroke-width="1.1"/><path d="M128.3,388.1 L132.5,386.1 L131.5,388.1 L132.5,390.1 Z" fill="#1a1a1a"/><path d="M273.4,388.1 L269.2,386.1 L270.2,388.1 L269.2,390.1 Z" fill="#1a1a1a"/>
<line x1="134.2" y1="373.7" x2="289.7" y2="373.7" stroke="#1a1a1a" stroke-width="1.1"/><path d="M131.7,373.7 L135.9,371.7 L134.8,373.7 L135.9,375.7 Z" fill="#1a1a1a"/><path d="M292.2,373.7 L288.0,371.7 L289.1,373.7 L288.0,375.7 Z" fill="#1a1a1a"/>
<line x1="121.5" y1="508.8" x2="132.2" y2="508.8" stroke="#1a1a1a" stroke-width="1.1"/><path d="M119.4,508.8 L122.9,506.8 L122.0,508.8 L122.9,510.8 Z" fill="#1a1a1a"/><path d="M134.3,508.8 L130.8,506.8 L131.7,508.8 L130.8,510.8 Z" fill="#1a1a1a"/>
<line x1="108.1" y1="516.3" x2="266.2" y2="516.3" stroke="#1a1a1a" stroke-width="1.1"/><path d="M105.6,516.3 L109.8,514.3 L108.8,516.3 L109.8,518.3 Z" fill="#1a1a1a"/><path d="M268.7,516.3 L264.5,514.3 L265.6,516.3 L264.5,518.3 Z" fill="#1a1a1a"/>
<line x1="210.2" y1="527.5" x2="299.6" y2="527.5" stroke="#1a1a1a" stroke-width="1.1"/><path d="M207.7,527.5 L211.9,525.5 L210.8,527.5 L211.9,529.5 Z" fill="#1a1a1a"/><path d="M302.1,527.5 L297.9,525.5 L299.0,527.5 L297.9,529.5 Z" fill="#1a1a1a"/>
</g>
<text x="-1.00" y="371.60" font-size="22" text-anchor="start" fill="#262626" font-weight="bold" fill="#000">c</text>
<g id="pd">
<clipPath id="clipd"><rect x="406.5" y="364.6" width="266.0" height="171.60000000000002"/></clipPath><filter id="bld" x="-10%" y="-10%" width="120%" height="120%"><feGaussianBlur stdDeviation="1.2"/></filter><filter id="bld2" x="-10%" y="-10%" width="120%" height="120%"><feGaussianBlur stdDeviation="0.6"/></filter><g clip-path="url(#clipd)"><rect x="406.5" y="364.6" width="266.0" height="171.60000000000002" fill="#f1f6e6"/><polyline points="515.7,362.0 517.0,367.3 522.7,388.4 529.7,414.7 535.2,437.6 540.4,455.2 545.7,472.7 551.9,490.3 558.0,507.9 563.3,525.5 566.0,534.3 568.0,540.0" fill="none" stroke="#ccd3e6" stroke-width="20" filter="url(#bld)"/><polyline points="642.5,362.0 640.5,367.3 635.2,381.8 629.3,394.9 623.4,408.1 617.4,421.3 612.2,434.5 608.2,447.6 604.8,454.7 599.0,469.3 593.1,484.0 587.2,498.6 581.4,513.3 575.5,527.9 571.8,535.2 570.0,540.0" fill="none" stroke="#ccd3e6" stroke-width="20" filter="url(#bld)"/><polyline points="515.7,362.0 517.0,367.3 522.7,388.4 529.7,414.7 535.2,437.6 540.4,455.2 545.7,472.7 551.9,490.3 558.0,507.9 563.3,525.5 566.0,534.3 568.0,540.0" fill="none" stroke="#5063a8" stroke-width="12.5" filter="url(#bld)"/><polyline points="642.5,362.0 640.5,367.3 635.2,381.8 629.3,394.9 623.4,408.1 617.4,421.3 612.2,434.5 608.2,447.6 604.8,454.7 599.0,469.3 593.1,484.0 587.2,498.6 581.4,513.3 575.5,527.9 571.8,535.2 570.0,540.0" fill="none" stroke="#5063a8" stroke-width="12.5" filter="url(#bld)"/><polyline points="515.7,362.0 517.0,367.3 522.7,388.4 529.7,414.7 535.2,437.6 540.4,455.2 545.7,472.7 551.9,490.3 558.0,507.9 563.3,525.5 566.0,534.3 568.0,540.0" fill="none" stroke="#23338b" stroke-width="7.2" filter="url(#bld2)"/><polyline points="642.5,362.0 640.5,367.3 635.2,381.8 629.3,394.9 623.4,408.1 617.4,421.3 612.2,434.5 608.2,447.6 604.8,454.7 599.0,469.3 593.1,484.0 587.2,498.6 581.4,513.3 575.5,527.9 571.8,535.2 570.0,540.0" fill="none" stroke="#23338b" stroke-width="7.2" filter="url(#bld2)"/><rect x="510.8" y="365.0" width="1" height="1" fill="#3a4a98" fill-opacity="0.40"/><rect x="508.4" y="364.2" width="1" height="1" fill="#3a4a98" fill-opacity="0.29"/><rect x="508.7" y="367.2" width="1" height="1" fill="#3a4a98" fill-opacity="0.27"/><rect x="505.0" y="370.1" width="1" height="1" fill="#3a4a98" fill-opacity="0.06"/><rect x="523.8" y="361.0" width="1" height="1" fill="#3a4a98" fill-opacity="0.27"/><rect x="520.6" y="362.9" width="1" height="1" fill="#3a4a98" fill-opacity="0.45"/><rect x="521.5" y="364.4" width="1" height="1" fill="#3a4a98" fill-opacity="0.42"/><rect x="505.9" y="368.3" width="1" height="1" fill="#3a4a98" fill-opacity="0.12"/><rect x="522.9" y="361.6" width="1" height="1" fill="#3a4a98" fill-opacity="0.32"/><rect x="498.7" y="366.8" width="1" height="1" fill="#3a4a98" fill-opacity="0.00"/><rect x="521.0" y="360.9" width="1" height="1" fill="#3a4a98" fill-opacity="0.40"/><rect x="525.8" y="362.7" width="1" height="1" fill="#3a4a98" fill-opacity="0.19"/><rect x="507.5" y="367.3" width="1" height="1" fill="#3a4a98" fill-opacity="0.21"/><rect x="528.1" y="362.2" width="1" height="1" fill="#3a4a98" fill-opacity="0.08"/><rect x="504.8" y="368.3" width="1" height="1" fill="#3a4a98" fill-opacity="0.07"/><rect x="510.5" y="368.2" width="1" height="1" fill="#3a4a98" fill-opacity="0.35"/><rect x="523.4" y="360.6" width="1" height="1" fill="#3a4a98" fill-opacity="0.29"/><rect x="504.3" y="366.8" width="1" height="1" fill="#3a4a98" fill-opacity="0.06"/><rect x="528.4" y="367.6" width="1" height="1" fill="#3a4a98" fill-opacity="0.13"/><rect x="515.2" y="378.8" width="1" height="1" fill="#3a4a98" fill-opacity="0.44"/><rect x="533.3" y="371.3" width="1" height="1" fill="#3a4a98" fill-opacity="0.00"/><rect x="527.2" y="380.2" width="1" height="1" fill="#3a4a98" fill-opacity="0.35"/><rect x="526.9" y="376.3" width="1" height="1" fill="#3a4a98" fill-opacity="0.31"/><rect x="523.7" y="366.7" width="1" height="1" fill="#3a4a98" fill-opacity="0.35"/><rect x="534.1" y="380.7" width="1" height="1" fill="#3a4a98" fill-opacity="0.02"/><rect x="510.3" y="377.3" width="1" height="1" fill="#3a4a98" fill-opacity="0.22"/><rect x="514.2" y="390.6" width="1" height="1" fill="#3a4a98" fill-opacity="0.23"/><rect x="506.2" y="373.9" width="1" height="1" fill="#3a4a98" fill-opacity="0.07"/><rect x="509.8" y="369.8" width="1" height="1" fill="#3a4a98" fill-opacity="0.30"/><rect x="512.5" y="380.8" width="1" height="1" fill="#3a4a98" fill-opacity="0.28"/><rect x="523.7" y="373.8" width="1" height="1" fill="#3a4a98" fill-opacity="0.44"/><rect x="529.1" y="381.7" width="1" height="1" fill="#3a4a98" fill-opacity="0.28"/><rect x="511.3" y="391.1" width="1" height="1" fill="#3a4a98" fill-opacity="0.09"/><rect x="532.1" y="380.0" width="1" height="1" fill="#3a4a98" fill-opacity="0.11"/><rect x="524.1" y="370.5" width="1" height="1" fill="#3a4a98" fill-opacity="0.37"/><rect x="516.2" y="383.2" width="1" height="1" fill="#3a4a98" fill-opacity="0.43"/><rect x="536.4" y="383.7" width="1" height="1" fill="#3a4a98" fill-opacity="0.00"/><rect x="517.8" y="389.4" width="1" height="1" fill="#3a4a98" fill-opacity="0.43"/><rect x="513.7" y="388.6" width="1" height="1" fill="#3a4a98" fill-opacity="0.24"/><rect x="530.8" y="382.6" width="1" height="1" fill="#3a4a98" fill-opacity="0.21"/><rect x="524.8" y="367.1" width="1" height="1" fill="#3a4a98" fill-opacity="0.30"/><rect x="533.1" y="380.7" width="1" height="1" fill="#3a4a98" fill-opacity="0.07"/><rect x="513.6" y="375.7" width="1" height="1" fill="#3a4a98" fill-opacity="0.40"/><rect x="535.2" y="371.4" width="1" height="1" fill="#3a4a98" fill-opacity="0.00"/><rect x="509.8" y="378.3" width="1" height="1" fill="#3a4a98" fill-opacity="0.18"/><rect x="509.8" y="372.1" width="1" height="1" fill="#3a4a98" fill-opacity="0.26"/><rect x="510.5" y="387.3" width="1" height="1" fill="#3a4a98" fill-opacity="0.10"/><rect x="509.7" y="372.6" width="1" height="1" fill="#3a4a98" fill-opacity="0.25"/><rect x="536.3" y="377.0" width="1" height="1" fill="#3a4a98" fill-opacity="0.00"/><rect x="527.1" y="386.6" width="1" height="1" fill="#3a4a98" fill-opacity="0.44"/><rect x="528.5" y="385.3" width="1" height="1" fill="#3a4a98" fill-opacity="0.35"/><rect x="511.3" y="378.6" width="1" height="1" fill="#3a4a98" fill-opacity="0.25"/><rect x="526.7" y="369.5" width="1" height="1" fill="#3a4a98" fill-opacity="0.24"/><rect x="515.9" y="380.9" width="1" height="1" fill="#3a4a98" fill-opacity="0.44"/><rect x="527.0" y="372.6" width="1" height="1" fill="#3a4a98" fill-opacity="0.26"/><rect x="513.0" y="377.9" width="1" height="1" fill="#3a4a98" fill-opacity="0.34"/><rect x="513.3" y="380.2" width="1" height="1" fill="#3a4a98" fill-opacity="0.33"/><rect x="526.4" y="381.2" width="1" height="1" fill="#3a4a98" fill-opacity="0.40"/><rect x="509.3" y="380.9" width="1" height="1" fill="#3a4a98" fill-opacity="0.12"/><rect x="533.3" y="372.9" width="1" height="1" fill="#3a4a98" fill-opacity="0.00"/><rect x="528.0" y="378.2" width="1" height="1" fill="#3a4a98" fill-opacity="0.29"/><rect x="526.6" y="375.0" width="1" height="1" fill="#3a4a98" fill-opacity="0.31"/><rect x="510.3" y="384.9" width="1" height="1" fill="#3a4a98" fill-opacity="0.12"/><rect x="529.0" y="369.9" width="1" height="1" fill="#3a4a98" fill-opacity="0.13"/><rect x="508.9" y="382.1" width="1" height="1" fill="#3a4a98" fill-opacity="0.09"/><rect x="522.7" y="367.4" width="1" height="1" fill="#3a4a98" fill-opacity="0.40"/><rect x="531.7" y="383.6" width="1" height="1" fill="#3a4a98" fill-opacity="0.18"/><rect x="526.8" y="367.9" width="1" height="1" fill="#3a4a98" fill-opacity="0.21"/><rect x="538.2" y="370.6" width="1" height="1" fill="#3a4a98" fill-opacity="0.00"/><rect x="524.8" y="368.9" width="1" height="1" fill="#3a4a98" fill-opacity="0.32"/><rect x="508.0" y="370.2" width="1" height="1" fill="#3a4a98" fill-opacity="0.20"/><rect x="522.6" y="368.7" width="1" height="1" fill="#3a4a98" fill-opacity="0.42"/><rect x="509.6" y="378.9" width="1" height="1" fill="#3a4a98" fill-opacity="0.16"/><rect x="524.6" y="371.1" width="1" height="1" fill="#3a4a98" fill-opacity="0.36"/><rect x="510.7" y="372.4" width="1" height="1" fill="#3a4a98" fill-opacity="0.31"/><rect x="508.5" y="371.6" width="1" height="1" fill="#3a4a98" fill-opacity="0.21"/><rect x="509.2" y="371.1" width="1" height="1" fill="#3a4a98" fill-opacity="0.25"/><rect x="515.5" y="388.7" width="1" height="1" fill="#3a4a98" fill-opacity="0.33"/><rect x="513.2" y="374.4" width="1" height="1" fill="#3a4a98" fill-opacity="0.40"/><rect x="512.8" y="373.8" width="1" height="1" fill="#3a4a98" fill-opacity="0.39"/><rect x="508.7" y="376.1" width="1" height="1" fill="#3a4a98" fill-opacity="0.16"/><rect x="511.9" y="369.1" width="1" height="1" fill="#3a4a98" fill-opacity="0.41"/><rect x="508.3" y="375.3" width="1" height="1" fill="#3a4a98" fill-opacity="0.15"/><rect x="532.6" y="367.4" width="1" height="1" fill="#3a4a98" fill-opacity="0.00"/><rect x="528.3" y="382.8" width="1" height="1" fill="#3a4a98" fill-opacity="0.33"/><rect x="528.8" y="373.0" width="1" height="1" fill="#3a4a98" fill-opacity="0.18"/><rect x="514.1" y="375.8" width="1" height="1" fill="#3a4a98" fill-opacity="0.42"/><rect x="529.2" y="378.4" width="1" height="1" fill="#3a4a98" fill-opacity="0.23"/><rect x="522.7" y="369.4" width="1" height="1" fill="#3a4a98" fill-opacity="0.43"/><rect x="510.6" y="370.9" width="1" height="1" fill="#3a4a98" fill-opacity="0.32"/><rect x="531.5" y="378.6" width="1" height="1" fill="#3a4a98" fill-opacity="0.12"/><rect x="514.4" y="378.4" width="1" height="1" fill="#3a4a98" fill-opacity="0.40"/><rect x="522.5" y="369.4" width="1" height="1" fill="#3a4a98" fill-opacity="0.44"/><rect x="527.0" y="386.6" width="1" height="1" fill="#3a4a98" fill-opacity="0.44"/><rect x="511.9" y="369.6" width="1" height="1" fill="#3a4a98" fill-opacity="0.40"/><rect x="530.6" y="376.9" width="1" height="1" fill="#3a4a98" fill-opacity="0.14"/><rect x="516.6" y="383.6" width="1" height="1" fill="#3a4a98" fill-opacity="0.44"/><rect x="516.7" y="389.7" width="1" height="1" fill="#3a4a98" fill-opacity="0.37"/><rect x="512.5" y="383.1" width="1" height="1" fill="#3a4a98" fill-opacity="0.25"/><rect x="510.5" y="370.0" width="1" height="1" fill="#3a4a98" fill-opacity="0.32"/><rect x="532.0" y="377.5" width="1" height="1" fill="#3a4a98" fill-opacity="0.09"/><rect x="514.1" y="379.5" width="1" height="1" fill="#3a4a98" fill-opacity="0.38"/><rect x="531.5" y="382.1" width="1" height="1" fill="#3a4a98" fill-opacity="0.17"/><rect x="512.9" y="381.6" width="1" height="1" fill="#3a4a98" fill-opacity="0.29"/><rect x="526.9" y="380.3" width="1" height="1" fill="#3a4a98" fill-opacity="0.37"/><rect x="527.5" y="378.7" width="1" height="1" fill="#3a4a98" fill-opacity="0.32"/><rect x="523.6" y="365.6" width="1" height="1" fill="#3a4a98" fill-opacity="0.33"/><rect x="527.5" y="376.6" width="1" height="1" fill="#3a4a98" fill-opacity="0.29"/><rect x="511.4" y="383.7" width="1" height="1" fill="#3a4a98" fill-opacity="0.19"/><rect x="508.1" y="374.4" width="1" height="1" fill="#3a4a98" fill-opacity="0.15"/><rect x="514.0" y="384.9" width="1" height="1" fill="#3a4a98" fill-opacity="0.30"/><rect x="536.8" y="402.0" width="1" height="1" fill="#3a4a98" fill-opacity="0.17"/><rect x="515.1" y="390.8" width="1" height="1" fill="#3a4a98" fill-opacity="0.28"/><rect x="518.2" y="409.1" width="1" height="1" fill="#3a4a98" fill-opacity="0.19"/><rect x="518.6" y="402.6" width="1" height="1" fill="#3a4a98" fill-opacity="0.30"/><rect x="516.2" y="403.3" width="1" height="1" fill="#3a4a98" fill-opacity="0.17"/><rect x="515.1" y="396.0" width="1" height="1" fill="#3a4a98" fill-opacity="0.21"/><rect x="521.7" y="411.8" width="1" height="1" fill="#3a4a98" fill-opacity="0.33"/><rect x="539.0" y="388.0" width="1" height="1" fill="#3a4a98" fill-opacity="0.00"/><rect x="541.5" y="406.5" width="1" height="1" fill="#3a4a98" fill-opacity="0.00"/><rect x="518.5" y="396.0" width="1" height="1" fill="#3a4a98" fill-opacity="0.37"/><rect x="529.6" y="386.7" width="1" height="1" fill="#3a4a98" fill-opacity="0.32"/><rect x="524.0" y="411.7" width="1" height="1" fill="#3a4a98" fill-opacity="0.44"/><rect x="535.5" y="388.4" width="1" height="1" fill="#3a4a98" fill-opacity="0.05"/><rect x="537.9" y="392.5" width="1" height="1" fill="#3a4a98" fill-opacity="0.00"/><rect x="543.3" y="393.4" width="1" height="1" fill="#3a4a98" fill-opacity="0.00"/><rect x="512.5" y="407.7" width="1" height="1" fill="#3a4a98" fill-opacity="0.00"/><rect x="529.8" y="396.7" width="1" height="1" fill="#3a4a98" fill-opacity="0.44"/><rect x="533.7" y="411.8" width="1" height="1" fill="#3a4a98" fill-opacity="0.45"/><rect x="516.6" y="395.4" width="1" height="1" fill="#3a4a98" fill-opacity="0.29"/><rect x="512.8" y="401.6" width="1" height="1" fill="#3a4a98" fill-opacity="0.03"/><rect x="514.3" y="408.4" width="1" height="1" fill="#3a4a98" fill-opacity="0.01"/><rect x="534.3" y="400.8" width="1" height="1" fill="#3a4a98" fill-opacity="0.28"/><rect x="518.0" y="409.9" width="1" height="1" fill="#3a4a98" fill-opacity="0.17"/><rect x="524.2" y="414.1" width="1" height="1" fill="#3a4a98" fill-opacity="0.42"/><rect x="520.0" y="398.8" width="1" height="1" fill="#3a4a98" fill-opacity="0.41"/><rect x="541.7" y="390.7" width="1" height="1" fill="#3a4a98" fill-opacity="0.00"/><rect x="517.8" y="400.8" width="1" height="1" fill="#3a4a98" fill-opacity="0.28"/><rect x="516.2" y="418.2" width="1" height="1" fill="#3a4a98" fill-opacity="0.00"/><rect x="518.7" y="405.5" width="1" height="1" fill="#3a4a98" fill-opacity="0.26"/><rect x="532.4" y="397.4" width="1" height="1" fill="#3a4a98" fill-opacity="0.32"/><rect x="531.6" y="397.7" width="1" height="1" fill="#3a4a98" fill-opacity="0.36"/><rect x="507.4" y="396.0" width="1" height="1" fill="#3a4a98" fill-opacity="0.00"/><rect x="534.8" y="399.4" width="1" height="1" fill="#3a4a98" fill-opacity="0.23"/><rect x="533.3" y="391.7" width="1" height="1" fill="#3a4a98" fill-opacity="0.20"/><rect x="519.5" y="401.8" width="1" height="1" fill="#3a4a98" fill-opacity="0.35"/><rect x="522.0" y="415.5" width="1" height="1" fill="#3a4a98" fill-opacity="0.29"/><rect x="533.2" y="386.2" width="1" height="1" fill="#3a4a98" fill-opacity="0.14"/><rect x="538.9" y="397.4" width="1" height="1" fill="#3a4a98" fill-opacity="0.01"/><rect x="520.5" y="405.5" width="1" height="1" fill="#3a4a98" fill-opacity="0.35"/><rect x="518.1" y="412.9" width="1" height="1" fill="#3a4a98" fill-opacity="0.14"/><rect x="537.7" y="391.4" width="1" height="1" fill="#3a4a98" fill-opacity="0.00"/><rect x="521.2" y="408.0" width="1" height="1" fill="#3a4a98" fill-opacity="0.35"/><rect x="537.0" y="406.1" width="1" height="1" fill="#3a4a98" fill-opacity="0.21"/><rect x="516.4" y="396.6" width="1" height="1" fill="#3a4a98" fill-opacity="0.26"/><rect x="529.2" y="395.2" width="1" height="1" fill="#3a4a98" fill-opacity="0.45"/><rect x="518.7" y="409.2" width="1" height="1" fill="#3a4a98" fill-opacity="0.21"/><rect x="516.6" y="393.2" width="1" height="1" fill="#3a4a98" fill-opacity="0.32"/><rect x="514.4" y="390.9" width="1" height="1" fill="#3a4a98" fill-opacity="0.24"/><rect x="540.2" y="392.2" width="1" height="1" fill="#3a4a98" fill-opacity="0.00"/><rect x="533.4" y="410.4" width="1" height="1" fill="#3a4a98" fill-opacity="0.44"/><rect x="528.0" y="387.6" width="1" height="1" fill="#3a4a98" fill-opacity="0.41"/><rect x="530.3" y="393.6" width="1" height="1" fill="#3a4a98" fill-opacity="0.37"/><rect x="533.4" y="395.1" width="1" height="1" fill="#3a4a98" fill-opacity="0.24"/><rect x="519.5" y="394.8" width="1" height="1" fill="#3a4a98" fill-opacity="0.44"/><rect x="531.6" y="391.8" width="1" height="1" fill="#3a4a98" fill-opacity="0.29"/><rect x="533.9" y="412.7" width="1" height="1" fill="#3a4a98" fill-opacity="0.45"/><rect x="513.5" y="397.3" width="1" height="1" fill="#3a4a98" fill-opacity="0.12"/><rect x="534.6" y="412.0" width="1" height="1" fill="#3a4a98" fill-opacity="0.40"/><rect x="533.6" y="387.2" width="1" height="1" fill="#3a4a98" fill-opacity="0.13"/><rect x="520.5" y="413.9" width="1" height="1" fill="#3a4a98" fill-opacity="0.24"/><rect x="513.3" y="411.5" width="1" height="1" fill="#3a4a98" fill-opacity="0.00"/><rect x="514.4" y="395.8" width="1" height="1" fill="#3a4a98" fill-opacity="0.18"/><rect x="531.7" y="404.7" width="1" height="1" fill="#3a4a98" fill-opacity="0.45"/><rect x="518.8" y="394.2" width="1" height="1" fill="#3a4a98" fill-opacity="0.41"/><rect x="517.8" y="416.6" width="1" height="1" fill="#3a4a98" fill-opacity="0.08"/><rect x="512.8" y="396.9" width="1" height="1" fill="#3a4a98" fill-opacity="0.09"/><rect x="520.1" y="399.1" width="1" height="1" fill="#3a4a98" fill-opacity="0.41"/><rect x="536.2" y="397.0" width="1" height="1" fill="#3a4a98" fill-opacity="0.13"/><rect x="529.0" y="388.1" width="1" height="1" fill="#3a4a98" fill-opacity="0.37"/><rect x="532.9" y="391.1" width="1" height="1" fill="#3a4a98" fill-opacity="0.22"/><rect x="512.8" y="391.9" width="1" height="1" fill="#3a4a98" fill-opacity="0.15"/><rect x="532.9" y="386.8" width="1" height="1" fill="#3a4a98" fill-opacity="0.16"/><rect x="509.9" y="392.8" width="1" height="1" fill="#3a4a98" fill-opacity="0.00"/><rect x="519.1" y="396.6" width="1" height="1" fill="#3a4a98" fill-opacity="0.40"/><rect x="523.3" y="409.3" width="1" height="1" fill="#3a4a98" fill-opacity="0.44"/><rect x="539.1" y="409.8" width="1" height="1" fill="#3a4a98" fill-opacity="0.16"/><rect x="534.1" y="386.1" width="1" height="1" fill="#3a4a98" fill-opacity="0.09"/><rect x="539.9" y="390.4" width="1" height="1" fill="#3a4a98" fill-opacity="0.00"/><rect x="519.5" y="403.2" width="1" height="1" fill="#3a4a98" fill-opacity="0.33"/><rect x="524.6" y="414.0" width="1" height="1" fill="#3a4a98" fill-opacity="0.44"/><rect x="517.5" y="410.6" width="1" height="1" fill="#3a4a98" fill-opacity="0.14"/><rect x="533.5" y="394.8" width="1" height="1" fill="#3a4a98" fill-opacity="0.24"/><rect x="532.0" y="394.9" width="1" height="1" fill="#3a4a98" fill-opacity="0.31"/><rect x="514.9" y="392.7" width="1" height="1" fill="#3a4a98" fill-opacity="0.24"/><rect x="527.9" y="388.8" width="1" height="1" fill="#3a4a98" fill-opacity="0.43"/><rect x="528.2" y="387.9" width="1" height="1" fill="#3a4a98" fill-opacity="0.40"/><rect x="524.0" y="412.9" width="1" height="1" fill="#3a4a98" fill-opacity="0.42"/><rect x="533.3" y="388.3" width="1" height="1" fill="#3a4a98" fill-opacity="0.16"/><rect x="531.9" y="392.5" width="1" height="1" fill="#3a4a98" fill-opacity="0.28"/><rect x="523.1" y="407.3" width="1" height="1" fill="#3a4a98" fill-opacity="0.45"/><rect x="522.6" y="409.5" width="1" height="1" fill="#3a4a98" fill-opacity="0.40"/><rect x="531.2" y="389.6" width="1" height="1" fill="#3a4a98" fill-opacity="0.28"/><rect x="517.5" y="400.3" width="1" height="1" fill="#3a4a98" fill-opacity="0.27"/><rect x="519.9" y="396.0" width="1" height="1" fill="#3a4a98" fill-opacity="0.44"/><rect x="517.6" y="394.1" width="1" height="1" fill="#3a4a98" fill-opacity="0.36"/><rect x="530.5" y="395.5" width="1" height="1" fill="#3a4a98" fill-opacity="0.39"/><rect x="518.0" y="400.8" width="1" height="1" fill="#3a4a98" fill-opacity="0.29"/><rect x="539.4" y="406.7" width="1" height="1" fill="#3a4a98" fill-opacity="0.11"/><rect x="539.2" y="386.9" width="1" height="1" fill="#3a4a98" fill-opacity="0.00"/><rect x="521.0" y="402.2" width="1" height="1" fill="#3a4a98" fill-opacity="0.41"/><rect x="540.0" y="409.5" width="1" height="1" fill="#3a4a98" fill-opacity="0.11"/><rect x="542.1" y="410.6" width="1" height="1" fill="#3a4a98" fill-opacity="0.03"/><rect x="532.5" y="396.3" width="1" height="1" fill="#3a4a98" fill-opacity="0.30"/><rect x="533.4" y="409.9" width="1" height="1" fill="#3a4a98" fill-opacity="0.44"/><rect x="522.7" y="415.0" width="1" height="1" fill="#3a4a98" fill-opacity="0.33"/><rect x="521.8" y="406.1" width="1" height="1" fill="#3a4a98" fill-opacity="0.41"/><rect x="531.9" y="393.1" width="1" height="1" fill="#3a4a98" fill-opacity="0.29"/><rect x="529.5" y="392.3" width="1" height="1" fill="#3a4a98" fill-opacity="0.40"/><rect x="527.2" y="387.5" width="1" height="1" fill="#3a4a98" fill-opacity="0.45"/><rect x="515.6" y="395.5" width="1" height="1" fill="#3a4a98" fill-opacity="0.24"/><rect x="515.8" y="405.7" width="1" height="1" fill="#3a4a98" fill-opacity="0.12"/><rect x="518.1" y="391.4" width="1" height="1" fill="#3a4a98" fill-opacity="0.41"/><rect x="524.1" y="414.9" width="1" height="1" fill="#3a4a98" fill-opacity="0.40"/><rect x="530.3" y="395.2" width="1" height="1" fill="#3a4a98" fill-opacity="0.40"/><rect x="522.8" y="412.7" width="1" height="1" fill="#3a4a98" fill-opacity="0.37"/><rect x="534.7" y="410.1" width="1" height="1" fill="#3a4a98" fill-opacity="0.38"/><rect x="522.2" y="415.1" width="1" height="1" fill="#3a4a98" fill-opacity="0.31"/><rect x="539.6" y="410.0" width="1" height="1" fill="#3a4a98" fill-opacity="0.14"/><rect x="518.2" y="407.1" width="1" height="1" fill="#3a4a98" fill-opacity="0.22"/><rect x="522.6" y="411.7" width="1" height="1" fill="#3a4a98" fill-opacity="0.37"/><rect x="514.9" y="396.7" width="1" height="1" fill="#3a4a98" fill-opacity="0.19"/><rect x="518.8" y="400.8" width="1" height="1" fill="#3a4a98" fill-opacity="0.33"/><rect x="533.7" y="390.6" width="1" height="1" fill="#3a4a98" fill-opacity="0.17"/><rect x="530.4" y="392.5" width="1" height="1" fill="#3a4a98" fill-opacity="0.36"/><rect x="520.9" y="399.7" width="1" height="1" fill="#3a4a98" fill-opacity="0.44"/><rect x="518.9" y="414.7" width="1" height="1" fill="#3a4a98" fill-opacity="0.15"/><rect x="532.8" y="386.9" width="1" height="1" fill="#3a4a98" fill-opacity="0.17"/><rect x="522.3" y="412.1" width="1" height="1" fill="#3a4a98" fill-opacity="0.35"/><rect x="520.8" y="404.4" width="1" height="1" fill="#3a4a98" fill-opacity="0.38"/><rect x="520.6" y="405.4" width="1" height="1" fill="#3a4a98" fill-opacity="0.36"/><rect x="531.5" y="398.4" width="1" height="1" fill="#3a4a98" fill-opacity="0.38"/><rect x="528.2" y="387.6" width="1" height="1" fill="#3a4a98" fill-opacity="0.40"/><rect x="536.0" y="418.9" width="1" height="1" fill="#3a4a98" fill-opacity="0.42"/><rect x="537.6" y="417.2" width="1" height="1" fill="#3a4a98" fill-opacity="0.32"/><rect x="537.3" y="415.1" width="1" height="1" fill="#3a4a98" fill-opacity="0.31"/><rect x="524.3" y="431.4" width="1" height="1" fill="#3a4a98" fill-opacity="0.22"/><rect x="528.9" y="433.7" width="1" height="1" fill="#3a4a98" fill-opacity="0.41"/><rect x="525.5" y="428.1" width="1" height="1" fill="#3a4a98" fill-opacity="0.31"/><rect x="526.8" y="438.4" width="1" height="1" fill="#3a4a98" fill-opacity="0.25"/><rect x="525.8" y="439.8" width="1" height="1" fill="#3a4a98" fill-opacity="0.19"/><rect x="518.9" y="429.2" width="1" height="1" fill="#3a4a98" fill-opacity="0.00"/><rect x="526.6" y="433.8" width="1" height="1" fill="#3a4a98" fill-opacity="0.30"/><rect x="519.9" y="423.7" width="1" height="1" fill="#3a4a98" fill-opacity="0.09"/><rect x="529.6" y="434.5" width="1" height="1" fill="#3a4a98" fill-opacity="0.44"/><rect x="528.9" y="437.2" width="1" height="1" fill="#3a4a98" fill-opacity="0.37"/><rect x="524.0" y="423.8" width="1" height="1" fill="#3a4a98" fill-opacity="0.29"/><rect x="539.2" y="415.2" width="1" height="1" fill="#3a4a98" fill-opacity="0.22"/><rect x="542.3" y="432.8" width="1" height="1" fill="#3a4a98" fill-opacity="0.27"/><rect x="521.4" y="419.2" width="1" height="1" fill="#3a4a98" fill-opacity="0.22"/><rect x="513.7" y="432.5" width="1" height="1" fill="#3a4a98" fill-opacity="0.00"/><rect x="537.5" y="417.1" width="1" height="1" fill="#3a4a98" fill-opacity="0.33"/><rect x="522.6" y="434.4" width="1" height="1" fill="#3a4a98" fill-opacity="0.10"/><rect x="524.9" y="431.3" width="1" height="1" fill="#3a4a98" fill-opacity="0.25"/><rect x="540.0" y="427.2" width="1" height="1" fill="#3a4a98" fill-opacity="0.32"/><rect x="520.7" y="417.4" width="1" height="1" fill="#3a4a98" fill-opacity="0.21"/><rect x="538.2" y="418.1" width="1" height="1" fill="#3a4a98" fill-opacity="0.30"/><rect x="537.4" y="419.2" width="1" height="1" fill="#3a4a98" fill-opacity="0.35"/><rect x="534.7" y="413.8" width="1" height="1" fill="#3a4a98" fill-opacity="0.42"/><rect x="538.0" y="421.2" width="1" height="1" fill="#3a4a98" fill-opacity="0.34"/><rect x="547.2" y="426.1" width="1" height="1" fill="#3a4a98" fill-opacity="0.00"/><rect x="528.6" y="432.7" width="1" height="1" fill="#3a4a98" fill-opacity="0.41"/><rect x="544.0" y="411.6" width="1" height="1" fill="#3a4a98" fill-opacity="0.00"/><rect x="535.2" y="416.8" width="1" height="1" fill="#3a4a98" fill-opacity="0.43"/><rect x="536.6" y="417.9" width="1" height="1" fill="#3a4a98" fill-opacity="0.37"/><rect x="537.9" y="428.3" width="1" height="1" fill="#3a4a98" fill-opacity="0.43"/><rect x="526.5" y="422.7" width="1" height="1" fill="#3a4a98" fill-opacity="0.43"/><rect x="521.5" y="417.8" width="1" height="1" fill="#3a4a98" fill-opacity="0.24"/><rect x="540.7" y="429.4" width="1" height="1" fill="#3a4a98" fill-opacity="0.31"/><rect x="523.9" y="416.2" width="1" height="1" fill="#3a4a98" fill-opacity="0.37"/><rect x="540.9" y="423.3" width="1" height="1" fill="#3a4a98" fill-opacity="0.23"/><rect x="525.4" y="421.4" width="1" height="1" fill="#3a4a98" fill-opacity="0.39"/><rect x="527.9" y="432.0" width="1" height="1" fill="#3a4a98" fill-opacity="0.39"/><rect x="539.4" y="418.8" width="1" height="1" fill="#3a4a98" fill-opacity="0.25"/><rect x="543.0" y="424.9" width="1" height="1" fill="#3a4a98" fill-opacity="0.15"/><rect x="541.4" y="418.3" width="1" height="1" fill="#3a4a98" fill-opacity="0.15"/><rect x="543.6" y="416.6" width="1" height="1" fill="#3a4a98" fill-opacity="0.02"/><rect x="529.7" y="436.0" width="1" height="1" fill="#3a4a98" fill-opacity="0.42"/><rect x="524.0" y="434.1" width="1" height="1" fill="#3a4a98" fill-opacity="0.17"/><rect x="543.8" y="435.0" width="1" height="1" fill="#3a4a98" fill-opacity="0.22"/><rect x="527.1" y="426.7" width="1" height="1" fill="#3a4a98" fill-opacity="0.41"/><rect x="542.7" y="432.4" width="1" height="1" fill="#3a4a98" fill-opacity="0.25"/><rect x="539.5" y="419.8" width="1" height="1" fill="#3a4a98" fill-opacity="0.26"/><rect x="540.0" y="429.0" width="1" height="1" fill="#3a4a98" fill-opacity="0.34"/><rect x="541.0" y="429.8" width="1" height="1" fill="#3a4a98" fill-opacity="0.30"/><rect x="535.1" y="415.0" width="1" height="1" fill="#3a4a98" fill-opacity="0.41"/><rect x="518.3" y="420.1" width="1" height="1" fill="#3a4a98" fill-opacity="0.06"/><rect x="539.2" y="419.4" width="1" height="1" fill="#3a4a98" fill-opacity="0.27"/><rect x="521.6" y="419.1" width="1" height="1" fill="#3a4a98" fill-opacity="0.23"/><rect x="524.7" y="420.9" width="1" height="1" fill="#3a4a98" fill-opacity="0.36"/><rect x="537.4" y="420.6" width="1" height="1" fill="#3a4a98" fill-opacity="0.37"/><rect x="547.3" y="433.8" width="1" height="1" fill="#3a4a98" fill-opacity="0.04"/><rect x="535.7" y="414.0" width="1" height="1" fill="#3a4a98" fill-opacity="0.38"/><rect x="538.4" y="417.8" width="1" height="1" fill="#3a4a98" fill-opacity="0.29"/><rect x="524.6" y="436.8" width="1" height="1" fill="#3a4a98" fill-opacity="0.17"/><rect x="524.3" y="420.1" width="1" height="1" fill="#3a4a98" fill-opacity="0.35"/><rect x="524.8" y="439.5" width="1" height="1" fill="#3a4a98" fill-opacity="0.15"/><rect x="537.1" y="413.0" width="1" height="1" fill="#3a4a98" fill-opacity="0.30"/><rect x="536.5" y="417.5" width="1" height="1" fill="#3a4a98" fill-opacity="0.38"/><rect x="526.3" y="421.8" width="1" height="1" fill="#3a4a98" fill-opacity="0.43"/><rect x="543.5" y="430.4" width="1" height="1" fill="#3a4a98" fill-opacity="0.19"/><rect x="526.8" y="424.9" width="1" height="1" fill="#3a4a98" fill-opacity="0.42"/><rect x="523.3" y="437.8" width="1" height="1" fill="#3a4a98" fill-opacity="0.09"/><rect x="523.0" y="416.9" width="1" height="1" fill="#3a4a98" fill-opacity="0.32"/><rect x="518.9" y="429.4" width="1" height="1" fill="#3a4a98" fill-opacity="0.00"/><rect x="543.8" y="427.0" width="1" height="1" fill="#3a4a98" fill-opacity="0.13"/><rect x="523.8" y="420.0" width="1" height="1" fill="#3a4a98" fill-opacity="0.32"/><rect x="525.1" y="423.7" width="1" height="1" fill="#3a4a98" fill-opacity="0.35"/><rect x="517.8" y="435.2" width="1" height="1" fill="#3a4a98" fill-opacity="0.00"/><rect x="542.0" y="422.3" width="1" height="1" fill="#3a4a98" fill-opacity="0.17"/><rect x="525.6" y="425.1" width="1" height="1" fill="#3a4a98" fill-opacity="0.35"/><rect x="542.5" y="428.4" width="1" height="1" fill="#3a4a98" fill-opacity="0.22"/><rect x="535.6" y="416.7" width="1" height="1" fill="#3a4a98" fill-opacity="0.41"/><rect x="542.2" y="433.7" width="1" height="1" fill="#3a4a98" fill-opacity="0.29"/><rect x="524.5" y="437.3" width="1" height="1" fill="#3a4a98" fill-opacity="0.16"/><rect x="545.2" y="427.4" width="1" height="1" fill="#3a4a98" fill-opacity="0.07"/><rect x="538.5" y="428.1" width="1" height="1" fill="#3a4a98" fill-opacity="0.41"/><rect x="539.9" y="414.6" width="1" height="1" fill="#3a4a98" fill-opacity="0.18"/><rect x="528.3" y="432.3" width="1" height="1" fill="#3a4a98" fill-opacity="0.40"/><rect x="525.6" y="426.7" width="1" height="1" fill="#3a4a98" fill-opacity="0.33"/><rect x="541.1" y="427.0" width="1" height="1" fill="#3a4a98" fill-opacity="0.26"/><rect x="529.7" y="437.2" width="1" height="1" fill="#3a4a98" fill-opacity="0.41"/><rect x="536.9" y="417.4" width="1" height="1" fill="#3a4a98" fill-opacity="0.36"/><rect x="540.9" y="421.4" width="1" height="1" fill="#3a4a98" fill-opacity="0.21"/><rect x="547.3" y="423.1" width="1" height="1" fill="#3a4a98" fill-opacity="0.00"/><rect x="537.3" y="415.3" width="1" height="1" fill="#3a4a98" fill-opacity="0.31"/><rect x="540.1" y="424.6" width="1" height="1" fill="#3a4a98" fill-opacity="0.28"/><rect x="541.7" y="424.5" width="1" height="1" fill="#3a4a98" fill-opacity="0.21"/><rect x="526.9" y="424.0" width="1" height="1" fill="#3a4a98" fill-opacity="0.43"/><rect x="535.5" y="413.6" width="1" height="1" fill="#3a4a98" fill-opacity="0.38"/><rect x="534.6" y="452.0" width="1" height="1" fill="#3a4a98" fill-opacity="0.44"/><rect x="544.4" y="452.9" width="1" height="1" fill="#3a4a98" fill-opacity="0.45"/><rect x="544.1" y="450.5" width="1" height="1" fill="#3a4a98" fill-opacity="0.43"/><rect x="543.4" y="445.9" width="1" height="1" fill="#3a4a98" fill-opacity="0.40"/><rect x="530.7" y="443.3" width="1" height="1" fill="#3a4a98" fill-opacity="0.38"/><rect x="543.1" y="440.9" width="1" height="1" fill="#3a4a98" fill-opacity="0.34"/><rect x="529.7" y="449.7" width="1" height="1" fill="#3a4a98" fill-opacity="0.24"/><rect x="528.7" y="446.3" width="1" height="1" fill="#3a4a98" fill-opacity="0.24"/><rect x="530.5" y="443.8" width="1" height="1" fill="#3a4a98" fill-opacity="0.36"/><rect x="532.4" y="447.6" width="1" height="1" fill="#3a4a98" fill-opacity="0.40"/><rect x="543.4" y="443.4" width="1" height="1" fill="#3a4a98" fill-opacity="0.36"/><rect x="544.0" y="441.9" width="1" height="1" fill="#3a4a98" fill-opacity="0.31"/><rect x="541.7" y="438.6" width="1" height="1" fill="#3a4a98" fill-opacity="0.38"/><rect x="548.9" y="450.6" width="1" height="1" fill="#3a4a98" fill-opacity="0.20"/><rect x="546.5" y="451.2" width="1" height="1" fill="#3a4a98" fill-opacity="0.33"/><rect x="531.4" y="441.4" width="1" height="1" fill="#3a4a98" fill-opacity="0.44"/><rect x="531.2" y="448.2" width="1" height="1" fill="#3a4a98" fill-opacity="0.33"/><rect x="545.5" y="444.0" width="1" height="1" fill="#3a4a98" fill-opacity="0.27"/><rect x="544.0" y="445.8" width="1" height="1" fill="#3a4a98" fill-opacity="0.37"/><rect x="542.5" y="443.5" width="1" height="1" fill="#3a4a98" fill-opacity="0.41"/><rect x="532.3" y="456.8" width="1" height="1" fill="#3a4a98" fill-opacity="0.26"/><rect x="542.6" y="435.9" width="1" height="1" fill="#3a4a98" fill-opacity="0.29"/><rect x="546.0" y="452.2" width="1" height="1" fill="#3a4a98" fill-opacity="0.36"/><rect x="529.5" y="445.6" width="1" height="1" fill="#3a4a98" fill-opacity="0.29"/><rect x="530.2" y="456.3" width="1" height="1" fill="#3a4a98" fill-opacity="0.17"/><rect x="542.2" y="444.6" width="1" height="1" fill="#3a4a98" fill-opacity="0.44"/><rect x="548.4" y="441.8" width="1" height="1" fill="#3a4a98" fill-opacity="0.10"/><rect x="545.6" y="450.4" width="1" height="1" fill="#3a4a98" fill-opacity="0.36"/><rect x="528.9" y="449.2" width="1" height="1" fill="#3a4a98" fill-opacity="0.21"/><rect x="533.5" y="449.3" width="1" height="1" fill="#3a4a98" fill-opacity="0.42"/><rect x="530.1" y="439.2" width="1" height="1" fill="#3a4a98" fill-opacity="0.40"/><rect x="525.3" y="452.2" width="1" height="1" fill="#3a4a98" fill-opacity="0.00"/><rect x="551.6" y="444.4" width="1" height="1" fill="#3a4a98" fill-opacity="0.00"/><rect x="545.1" y="446.5" width="1" height="1" fill="#3a4a98" fill-opacity="0.32"/><rect x="545.2" y="446.1" width="1" height="1" fill="#3a4a98" fill-opacity="0.32"/><rect x="528.6" y="448.3" width="1" height="1" fill="#3a4a98" fill-opacity="0.21"/><rect x="531.4" y="453.5" width="1" height="1" fill="#3a4a98" fill-opacity="0.27"/><rect x="541.8" y="442.7" width="1" height="1" fill="#3a4a98" fill-opacity="0.43"/><rect x="544.3" y="439.8" width="1" height="1" fill="#3a4a98" fill-opacity="0.27"/><rect x="541.6" y="441.5" width="1" height="1" fill="#3a4a98" fill-opacity="0.42"/><rect x="527.1" y="440.8" width="1" height="1" fill="#3a4a98" fill-opacity="0.24"/><rect x="530.5" y="450.0" width="1" height="1" fill="#3a4a98" fill-opacity="0.27"/><rect x="522.1" y="452.8" width="1" height="1" fill="#3a4a98" fill-opacity="0.00"/><rect x="544.4" y="444.0" width="1" height="1" fill="#3a4a98" fill-opacity="0.33"/><rect x="530.2" y="447.0" width="1" height="1" fill="#3a4a98" fill-opacity="0.30"/><rect x="530.9" y="442.9" width="1" height="1" fill="#3a4a98" fill-opacity="0.40"/><rect x="526.0" y="442.8" width="1" height="1" fill="#3a4a98" fill-opacity="0.16"/><rect x="532.7" y="452.0" width="1" height="1" fill="#3a4a98" fill-opacity="0.35"/><rect x="543.6" y="436.7" width="1" height="1" fill="#3a4a98" fill-opacity="0.26"/><rect x="546.7" y="452.0" width="1" height="1" fill="#3a4a98" fill-opacity="0.33"/><rect x="526.9" y="444.9" width="1" height="1" fill="#3a4a98" fill-opacity="0.17"/><rect x="542.0" y="435.9" width="1" height="1" fill="#3a4a98" fill-opacity="0.32"/><rect x="544.9" y="436.2" width="1" height="1" fill="#3a4a98" fill-opacity="0.19"/><rect x="532.2" y="447.8" width="1" height="1" fill="#3a4a98" fill-opacity="0.39"/><rect x="542.5" y="442.4" width="1" height="1" fill="#3a4a98" fill-opacity="0.39"/><rect x="544.3" y="442.9" width="1" height="1" fill="#3a4a98" fill-opacity="0.31"/><rect x="553.9" y="447.1" width="1" height="1" fill="#3a4a98" fill-opacity="0.00"/><rect x="543.3" y="446.8" width="1" height="1" fill="#3a4a98" fill-opacity="0.42"/><rect x="544.2" y="440.9" width="1" height="1" fill="#3a4a98" fill-opacity="0.29"/><rect x="532.8" y="446.5" width="1" height="1" fill="#3a4a98" fill-opacity="0.43"/><rect x="529.3" y="450.8" width="1" height="1" fill="#3a4a98" fill-opacity="0.21"/><rect x="543.5" y="440.6" width="1" height="1" fill="#3a4a98" fill-opacity="0.32"/><rect x="531.7" y="449.8" width="1" height="1" fill="#3a4a98" fill-opacity="0.34"/><rect x="534.0" y="453.5" width="1" height="1" fill="#3a4a98" fill-opacity="0.39"/><rect x="542.6" y="440.6" width="1" height="1" fill="#3a4a98" fill-opacity="0.36"/><rect x="548.8" y="451.1" width="1" height="1" fill="#3a4a98" fill-opacity="0.21"/><rect x="530.2" y="445.7" width="1" height="1" fill="#3a4a98" fill-opacity="0.32"/><rect x="550.9" y="437.5" width="1" height="1" fill="#3a4a98" fill-opacity="0.00"/><rect x="542.5" y="439.4" width="1" height="1" fill="#3a4a98" fill-opacity="0.35"/><rect x="548.6" y="442.4" width="1" height="1" fill="#3a4a98" fill-opacity="0.10"/><rect x="546.5" y="438.7" width="1" height="1" fill="#3a4a98" fill-opacity="0.15"/><rect x="527.9" y="450.9" width="1" height="1" fill="#3a4a98" fill-opacity="0.14"/><rect x="545.7" y="444.5" width="1" height="1" fill="#3a4a98" fill-opacity="0.27"/><rect x="543.8" y="445.9" width="1" height="1" fill="#3a4a98" fill-opacity="0.38"/><rect x="534.6" y="452.8" width="1" height="1" fill="#3a4a98" fill-opacity="0.43"/><rect x="535.3" y="463.3" width="1" height="1" fill="#3a4a98" fill-opacity="0.31"/><rect x="553.0" y="467.9" width="1" height="1" fill="#3a4a98" fill-opacity="0.26"/><rect x="558.0" y="464.8" width="1" height="1" fill="#3a4a98" fill-opacity="0.00"/><rect x="537.7" y="470.7" width="1" height="1" fill="#3a4a98" fill-opacity="0.32"/><rect x="540.1" y="470.9" width="1" height="1" fill="#3a4a98" fill-opacity="0.43"/><rect x="538.6" y="466.4" width="1" height="1" fill="#3a4a98" fill-opacity="0.43"/><rect x="550.4" y="470.3" width="1" height="1" fill="#3a4a98" fill-opacity="0.41"/><rect x="537.5" y="473.5" width="1" height="1" fill="#3a4a98" fill-opacity="0.27"/><rect x="536.4" y="458.7" width="1" height="1" fill="#3a4a98" fill-opacity="0.43"/><rect x="534.9" y="469.1" width="1" height="1" fill="#3a4a98" fill-opacity="0.21"/><rect x="534.1" y="465.7" width="1" height="1" fill="#3a4a98" fill-opacity="0.22"/><rect x="532.0" y="476.7" width="1" height="1" fill="#3a4a98" fill-opacity="0.00"/><rect x="536.9" y="460.5" width="1" height="1" fill="#3a4a98" fill-opacity="0.43"/><rect x="535.4" y="474.0" width="1" height="1" fill="#3a4a98" fill-opacity="0.16"/><rect x="547.3" y="454.0" width="1" height="1" fill="#3a4a98" fill-opacity="0.33"/><rect x="554.3" y="469.8" width="1" height="1" fill="#3a4a98" fill-opacity="0.22"/><rect x="534.3" y="458.1" width="1" height="1" fill="#3a4a98" fill-opacity="0.34"/><rect x="537.1" y="474.1" width="1" height="1" fill="#3a4a98" fill-opacity="0.24"/><rect x="536.5" y="470.9" width="1" height="1" fill="#3a4a98" fill-opacity="0.26"/><rect x="534.1" y="470.0" width="1" height="1" fill="#3a4a98" fill-opacity="0.16"/><rect x="530.1" y="460.2" width="1" height="1" fill="#3a4a98" fill-opacity="0.11"/><rect x="548.9" y="464.6" width="1" height="1" fill="#3a4a98" fill-opacity="0.40"/><rect x="549.0" y="461.2" width="1" height="1" fill="#3a4a98" fill-opacity="0.35"/><rect x="533.1" y="466.5" width="1" height="1" fill="#3a4a98" fill-opacity="0.16"/><rect x="533.4" y="458.4" width="1" height="1" fill="#3a4a98" fill-opacity="0.29"/><rect x="547.2" y="457.2" width="1" height="1" fill="#3a4a98" fill-opacity="0.38"/><rect x="536.8" y="460.1" width="1" height="1" fill="#3a4a98" fill-opacity="0.43"/><rect x="520.4" y="468.2" width="1" height="1" fill="#3a4a98" fill-opacity="0.00"/><rect x="527.9" y="460.1" width="1" height="1" fill="#3a4a98" fill-opacity="0.00"/><rect x="548.9" y="466.5" width="1" height="1" fill="#3a4a98" fill-opacity="0.43"/><rect x="523.9" y="460.5" width="1" height="1" fill="#3a4a98" fill-opacity="0.00"/><rect x="533.2" y="460.0" width="1" height="1" fill="#3a4a98" fill-opacity="0.26"/><rect x="551.2" y="455.7" width="1" height="1" fill="#3a4a98" fill-opacity="0.17"/><rect x="533.6" y="458.8" width="1" height="1" fill="#3a4a98" fill-opacity="0.30"/><rect x="538.6" y="465.2" width="1" height="1" fill="#3a4a98" fill-opacity="0.44"/><rect x="535.9" y="470.1" width="1" height="1" fill="#3a4a98" fill-opacity="0.24"/><rect x="552.6" y="465.5" width="1" height="1" fill="#3a4a98" fill-opacity="0.24"/><rect x="535.3" y="457.8" width="1" height="1" fill="#3a4a98" fill-opacity="0.39"/><rect x="550.8" y="467.5" width="1" height="1" fill="#3a4a98" fill-opacity="0.36"/><rect x="534.7" y="473.4" width="1" height="1" fill="#3a4a98" fill-opacity="0.14"/><rect x="529.4" y="467.9" width="1" height="1" fill="#3a4a98" fill-opacity="0.00"/><rect x="538.4" y="467.2" width="1" height="1" fill="#3a4a98" fill-opacity="0.41"/><rect x="547.1" y="453.3" width="1" height="1" fill="#3a4a98" fill-opacity="0.32"/><rect x="556.2" y="467.0" width="1" height="1" fill="#3a4a98" fill-opacity="0.09"/><rect x="550.3" y="466.6" width="1" height="1" fill="#3a4a98" fill-opacity="0.37"/><rect x="530.0" y="459.5" width="1" height="1" fill="#3a4a98" fill-opacity="0.11"/><rect x="554.1" y="460.5" width="1" height="1" fill="#3a4a98" fill-opacity="0.10"/><rect x="550.7" y="461.9" width="1" height="1" fill="#3a4a98" fill-opacity="0.28"/><rect x="553.0" y="462.4" width="1" height="1" fill="#3a4a98" fill-opacity="0.17"/><rect x="548.1" y="462.3" width="1" height="1" fill="#3a4a98" fill-opacity="0.41"/><rect x="537.1" y="463.9" width="1" height="1" fill="#3a4a98" fill-opacity="0.39"/><rect x="538.6" y="472.2" width="1" height="1" fill="#3a4a98" fill-opacity="0.35"/><rect x="550.4" y="455.0" width="1" height="1" fill="#3a4a98" fill-opacity="0.19"/><rect x="545.8" y="456.7" width="1" height="1" fill="#3a4a98" fill-opacity="0.44"/><rect x="539.1" y="471.4" width="1" height="1" fill="#3a4a98" fill-opacity="0.38"/><rect x="551.0" y="468.0" width="1" height="1" fill="#3a4a98" fill-opacity="0.35"/><rect x="531.5" y="466.2" width="1" height="1" fill="#3a4a98" fill-opacity="0.09"/><rect x="541.2" y="473.3" width="1" height="1" fill="#3a4a98" fill-opacity="0.45"/><rect x="548.8" y="464.7" width="1" height="1" fill="#3a4a98" fill-opacity="0.41"/><rect x="535.0" y="458.2" width="1" height="1" fill="#3a4a98" fill-opacity="0.37"/><rect x="558.2" y="461.9" width="1" height="1" fill="#3a4a98" fill-opacity="0.00"/><rect x="535.0" y="472.3" width="1" height="1" fill="#3a4a98" fill-opacity="0.17"/><rect x="549.2" y="453.2" width="1" height="1" fill="#3a4a98" fill-opacity="0.23"/><rect x="532.5" y="462.8" width="1" height="1" fill="#3a4a98" fill-opacity="0.19"/><rect x="535.6" y="467.0" width="1" height="1" fill="#3a4a98" fill-opacity="0.27"/><rect x="557.1" y="460.1" width="1" height="1" fill="#3a4a98" fill-opacity="0.00"/><rect x="535.7" y="462.1" width="1" height="1" fill="#3a4a98" fill-opacity="0.35"/><rect x="550.4" y="470.4" width="1" height="1" fill="#3a4a98" fill-opacity="0.42"/><rect x="552.3" y="453.3" width="1" height="1" fill="#3a4a98" fill-opacity="0.08"/><rect x="551.0" y="460.8" width="1" height="1" fill="#3a4a98" fill-opacity="0.25"/><rect x="538.7" y="465.5" width="1" height="1" fill="#3a4a98" fill-opacity="0.45"/><rect x="535.1" y="466.2" width="1" height="1" fill="#3a4a98" fill-opacity="0.26"/><rect x="536.7" y="461.8" width="1" height="1" fill="#3a4a98" fill-opacity="0.40"/><rect x="529.7" y="461.5" width="1" height="1" fill="#3a4a98" fill-opacity="0.07"/><rect x="543.4" y="482.2" width="1" height="1" fill="#3a4a98" fill-opacity="0.41"/><rect x="551.1" y="472.0" width="1" height="1" fill="#3a4a98" fill-opacity="0.41"/><rect x="546.0" y="487.1" width="1" height="1" fill="#3a4a98" fill-opacity="0.45"/><rect x="535.0" y="491.1" width="1" height="1" fill="#3a4a98" fill-opacity="0.00"/><rect x="545.0" y="486.3" width="1" height="1" fill="#3a4a98" fill-opacity="0.42"/><rect x="542.8" y="485.9" width="1" height="1" fill="#3a4a98" fill-opacity="0.32"/><rect x="558.1" y="478.6" width="1" height="1" fill="#3a4a98" fill-opacity="0.19"/><rect x="559.0" y="477.4" width="1" height="1" fill="#3a4a98" fill-opacity="0.13"/><rect x="559.6" y="470.3" width="1" height="1" fill="#3a4a98" fill-opacity="0.00"/><rect x="540.7" y="491.7" width="1" height="1" fill="#3a4a98" fill-opacity="0.12"/><rect x="541.0" y="484.2" width="1" height="1" fill="#3a4a98" fill-opacity="0.26"/><rect x="544.7" y="488.6" width="1" height="1" fill="#3a4a98" fill-opacity="0.37"/><rect x="554.1" y="477.3" width="1" height="1" fill="#3a4a98" fill-opacity="0.36"/><rect x="558.0" y="477.3" width="1" height="1" fill="#3a4a98" fill-opacity="0.17"/><rect x="553.8" y="477.6" width="1" height="1" fill="#3a4a98" fill-opacity="0.37"/><rect x="554.3" y="478.5" width="1" height="1" fill="#3a4a98" fill-opacity="0.37"/><rect x="537.6" y="487.1" width="1" height="1" fill="#3a4a98" fill-opacity="0.05"/><rect x="540.5" y="480.9" width="1" height="1" fill="#3a4a98" fill-opacity="0.29"/><rect x="542.8" y="490.4" width="1" height="1" fill="#3a4a98" fill-opacity="0.24"/><rect x="560.1" y="471.7" width="1" height="1" fill="#3a4a98" fill-opacity="0.00"/><rect x="563.0" y="477.8" width="1" height="1" fill="#3a4a98" fill-opacity="0.00"/><rect x="541.6" y="484.8" width="1" height="1" fill="#3a4a98" fill-opacity="0.28"/><rect x="554.4" y="483.2" width="1" height="1" fill="#3a4a98" fill-opacity="0.44"/><rect x="539.2" y="482.0" width="1" height="1" fill="#3a4a98" fill-opacity="0.21"/><rect x="550.7" y="472.9" width="1" height="1" fill="#3a4a98" fill-opacity="0.44"/><rect x="544.8" y="484.1" width="1" height="1" fill="#3a4a98" fill-opacity="0.44"/><rect x="537.7" y="486.9" width="1" height="1" fill="#3a4a98" fill-opacity="0.06"/><rect x="559.6" y="477.4" width="1" height="1" fill="#3a4a98" fill-opacity="0.10"/><rect x="562.9" y="475.3" width="1" height="1" fill="#3a4a98" fill-opacity="0.00"/><rect x="562.2" y="473.7" width="1" height="1" fill="#3a4a98" fill-opacity="0.00"/><rect x="552.9" y="472.3" width="1" height="1" fill="#3a4a98" fill-opacity="0.33"/><rect x="562.4" y="486.4" width="1" height="1" fill="#3a4a98" fill-opacity="0.12"/><rect x="554.2" y="482.2" width="1" height="1" fill="#3a4a98" fill-opacity="0.43"/><rect x="543.6" y="486.0" width="1" height="1" fill="#3a4a98" fill-opacity="0.35"/><rect x="558.7" y="484.8" width="1" height="1" fill="#3a4a98" fill-opacity="0.26"/><rect x="551.6" y="474.5" width="1" height="1" fill="#3a4a98" fill-opacity="0.43"/><rect x="553.3" y="479.9" width="1" height="1" fill="#3a4a98" fill-opacity="0.43"/><rect x="541.0" y="484.9" width="1" height="1" fill="#3a4a98" fill-opacity="0.25"/><rect x="540.7" y="476.9" width="1" height="1" fill="#3a4a98" fill-opacity="0.37"/><rect x="537.7" y="477.6" width="1" height="1" fill="#3a4a98" fill-opacity="0.22"/><rect x="544.3" y="489.5" width="1" height="1" fill="#3a4a98" fill-opacity="0.33"/><rect x="554.8" y="484.7" width="1" height="1" fill="#3a4a98" fill-opacity="0.45"/><rect x="539.2" y="482.0" width="1" height="1" fill="#3a4a98" fill-opacity="0.21"/><rect x="542.6" y="481.4" width="1" height="1" fill="#3a4a98" fill-opacity="0.39"/><rect x="539.8" y="475.9" width="1" height="1" fill="#3a4a98" fill-opacity="0.34"/><rect x="556.8" y="487.8" width="1" height="1" fill="#3a4a98" fill-opacity="0.40"/><rect x="543.8" y="492.4" width="1" height="1" fill="#3a4a98" fill-opacity="0.26"/><rect x="544.4" y="483.0" width="1" height="1" fill="#3a4a98" fill-opacity="0.44"/><rect x="545.9" y="489.9" width="1" height="1" fill="#3a4a98" fill-opacity="0.40"/><rect x="551.2" y="474.2" width="1" height="1" fill="#3a4a98" fill-opacity="0.44"/><rect x="541.6" y="481.2" width="1" height="1" fill="#3a4a98" fill-opacity="0.34"/><rect x="532.4" y="483.1" width="1" height="1" fill="#3a4a98" fill-opacity="0.00"/><rect x="543.5" y="484.6" width="1" height="1" fill="#3a4a98" fill-opacity="0.37"/><rect x="543.1" y="481.2" width="1" height="1" fill="#3a4a98" fill-opacity="0.41"/><rect x="538.3" y="480.0" width="1" height="1" fill="#3a4a98" fill-opacity="0.21"/><rect x="546.3" y="489.0" width="1" height="1" fill="#3a4a98" fill-opacity="0.43"/><rect x="546.1" y="489.1" width="1" height="1" fill="#3a4a98" fill-opacity="0.42"/><rect x="545.4" y="487.1" width="1" height="1" fill="#3a4a98" fill-opacity="0.42"/><rect x="539.8" y="477.4" width="1" height="1" fill="#3a4a98" fill-opacity="0.32"/><rect x="536.2" y="487.7" width="1" height="1" fill="#3a4a98" fill-opacity="0.00"/><rect x="538.6" y="479.4" width="1" height="1" fill="#3a4a98" fill-opacity="0.23"/><rect x="545.8" y="489.9" width="1" height="1" fill="#3a4a98" fill-opacity="0.40"/><rect x="543.9" y="484.1" width="1" height="1" fill="#3a4a98" fill-opacity="0.40"/><rect x="555.8" y="482.2" width="1" height="1" fill="#3a4a98" fill-opacity="0.36"/><rect x="540.6" y="476.2" width="1" height="1" fill="#3a4a98" fill-opacity="0.38"/><rect x="554.2" y="482.8" width="1" height="1" fill="#3a4a98" fill-opacity="0.44"/><rect x="551.7" y="472.7" width="1" height="1" fill="#3a4a98" fill-opacity="0.39"/><rect x="542.7" y="479.6" width="1" height="1" fill="#3a4a98" fill-opacity="0.42"/><rect x="553.1" y="478.1" width="1" height="1" fill="#3a4a98" fill-opacity="0.42"/><rect x="563.6" y="483.4" width="1" height="1" fill="#3a4a98" fill-opacity="0.01"/><rect x="544.7" y="486.1" width="1" height="1" fill="#3a4a98" fill-opacity="0.41"/><rect x="536.0" y="483.1" width="1" height="1" fill="#3a4a98" fill-opacity="0.05"/><rect x="543.1" y="481.1" width="1" height="1" fill="#3a4a98" fill-opacity="0.41"/><rect x="538.7" y="478.7" width="1" height="1" fill="#3a4a98" fill-opacity="0.25"/><rect x="559.7" y="484.4" width="1" height="1" fill="#3a4a98" fill-opacity="0.21"/><rect x="550.9" y="470.9" width="1" height="1" fill="#3a4a98" fill-opacity="0.40"/><rect x="550.9" y="471.7" width="1" height="1" fill="#3a4a98" fill-opacity="0.41"/><rect x="542.3" y="488.7" width="1" height="1" fill="#3a4a98" fill-opacity="0.25"/><rect x="543.3" y="481.3" width="1" height="1" fill="#3a4a98" fill-opacity="0.42"/><rect x="550.6" y="472.7" width="1" height="1" fill="#3a4a98" fill-opacity="0.44"/><rect x="564.1" y="484.9" width="1" height="1" fill="#3a4a98" fill-opacity="0.01"/><rect x="543.5" y="487.2" width="1" height="1" fill="#3a4a98" fill-opacity="0.33"/><rect x="556.1" y="478.0" width="1" height="1" fill="#3a4a98" fill-opacity="0.27"/><rect x="561.2" y="497.2" width="1" height="1" fill="#3a4a98" fill-opacity="0.35"/><rect x="550.3" y="509.1" width="1" height="1" fill="#3a4a98" fill-opacity="0.29"/><rect x="544.7" y="493.7" width="1" height="1" fill="#3a4a98" fill-opacity="0.28"/><rect x="559.7" y="498.4" width="1" height="1" fill="#3a4a98" fill-opacity="0.44"/><rect x="562.8" y="505.6" width="1" height="1" fill="#3a4a98" fill-opacity="0.41"/><rect x="559.3" y="492.7" width="1" height="1" fill="#3a4a98" fill-opacity="0.37"/><rect x="548.2" y="495.6" width="1" height="1" fill="#3a4a98" fill-opacity="0.41"/><rect x="547.5" y="497.9" width="1" height="1" fill="#3a4a98" fill-opacity="0.34"/><rect x="548.7" y="504.6" width="1" height="1" fill="#3a4a98" fill-opacity="0.29"/><rect x="547.2" y="500.7" width="1" height="1" fill="#3a4a98" fill-opacity="0.28"/><rect x="557.9" y="491.0" width="1" height="1" fill="#3a4a98" fill-opacity="0.41"/><rect x="565.7" y="497.3" width="1" height="1" fill="#3a4a98" fill-opacity="0.14"/><rect x="547.5" y="495.9" width="1" height="1" fill="#3a4a98" fill-opacity="0.38"/><rect x="544.8" y="492.9" width="1" height="1" fill="#3a4a98" fill-opacity="0.30"/><rect x="562.8" y="504.6" width="1" height="1" fill="#3a4a98" fill-opacity="0.39"/><rect x="564.4" y="504.4" width="1" height="1" fill="#3a4a98" fill-opacity="0.31"/><rect x="548.1" y="494.3" width="1" height="1" fill="#3a4a98" fill-opacity="0.43"/><rect x="565.3" y="491.5" width="1" height="1" fill="#3a4a98" fill-opacity="0.06"/><rect x="560.7" y="490.9" width="1" height="1" fill="#3a4a98" fill-opacity="0.27"/><rect x="566.6" y="503.5" width="1" height="1" fill="#3a4a98" fill-opacity="0.20"/><rect x="567.7" y="499.4" width="1" height="1" fill="#3a4a98" fill-opacity="0.08"/><rect x="549.3" y="497.6" width="1" height="1" fill="#3a4a98" fill-opacity="0.43"/><rect x="543.3" y="499.6" width="1" height="1" fill="#3a4a98" fill-opacity="0.12"/><rect x="559.7" y="494.8" width="1" height="1" fill="#3a4a98" fill-opacity="0.38"/><rect x="545.7" y="497.2" width="1" height="1" fill="#3a4a98" fill-opacity="0.27"/><rect x="570.5" y="502.5" width="1" height="1" fill="#3a4a98" fill-opacity="0.00"/><rect x="547.2" y="503.4" width="1" height="1" fill="#3a4a98" fill-opacity="0.24"/><rect x="548.4" y="494.7" width="1" height="1" fill="#3a4a98" fill-opacity="0.44"/><rect x="542.7" y="493.5" width="1" height="1" fill="#3a4a98" fill-opacity="0.19"/><rect x="550.4" y="507.4" width="1" height="1" fill="#3a4a98" fill-opacity="0.32"/><rect x="563.0" y="494.8" width="1" height="1" fill="#3a4a98" fill-opacity="0.22"/><rect x="560.7" y="495.5" width="1" height="1" fill="#3a4a98" fill-opacity="0.34"/><rect x="562.4" y="493.3" width="1" height="1" fill="#3a4a98" fill-opacity="0.23"/><rect x="550.2" y="499.6" width="1" height="1" fill="#3a4a98" fill-opacity="0.44"/><rect x="569.7" y="490.5" width="1" height="1" fill="#3a4a98" fill-opacity="0.00"/><rect x="541.7" y="510.9" width="1" height="1" fill="#3a4a98" fill-opacity="0.00"/><rect x="548.3" y="507.5" width="1" height="1" fill="#3a4a98" fill-opacity="0.22"/><rect x="567.4" y="490.8" width="1" height="1" fill="#3a4a98" fill-opacity="0.00"/><rect x="561.4" y="496.5" width="1" height="1" fill="#3a4a98" fill-opacity="0.33"/><rect x="551.9" y="507.7" width="1" height="1" fill="#3a4a98" fill-opacity="0.39"/><rect x="546.0" y="501.1" width="1" height="1" fill="#3a4a98" fill-opacity="0.22"/><rect x="560.5" y="498.8" width="1" height="1" fill="#3a4a98" fill-opacity="0.41"/><rect x="562.2" y="494.9" width="1" height="1" fill="#3a4a98" fill-opacity="0.26"/><rect x="547.1" y="494.2" width="1" height="1" fill="#3a4a98" fill-opacity="0.39"/><rect x="543.6" y="504.0" width="1" height="1" fill="#3a4a98" fill-opacity="0.06"/><rect x="548.2" y="502.5" width="1" height="1" fill="#3a4a98" fill-opacity="0.30"/><rect x="550.0" y="502.6" width="1" height="1" fill="#3a4a98" fill-opacity="0.38"/><rect x="549.5" y="499.8" width="1" height="1" fill="#3a4a98" fill-opacity="0.41"/><rect x="562.1" y="500.8" width="1" height="1" fill="#3a4a98" fill-opacity="0.36"/><rect x="542.4" y="508.5" width="1" height="1" fill="#3a4a98" fill-opacity="0.00"/><rect x="543.9" y="507.3" width="1" height="1" fill="#3a4a98" fill-opacity="0.02"/><rect x="558.3" y="491.5" width="1" height="1" fill="#3a4a98" fill-opacity="0.39"/><rect x="567.5" y="503.8" width="1" height="1" fill="#3a4a98" fill-opacity="0.16"/><rect x="567.7" y="498.8" width="1" height="1" fill="#3a4a98" fill-opacity="0.07"/><rect x="549.9" y="503.2" width="1" height="1" fill="#3a4a98" fill-opacity="0.37"/><rect x="569.9" y="501.3" width="1" height="1" fill="#3a4a98" fill-opacity="0.01"/><rect x="562.5" y="503.8" width="1" height="1" fill="#3a4a98" fill-opacity="0.40"/><rect x="562.2" y="501.8" width="1" height="1" fill="#3a4a98" fill-opacity="0.38"/><rect x="547.1" y="506.5" width="1" height="1" fill="#3a4a98" fill-opacity="0.18"/><rect x="549.3" y="503.1" width="1" height="1" fill="#3a4a98" fill-opacity="0.34"/><rect x="552.3" y="506.0" width="1" height="1" fill="#3a4a98" fill-opacity="0.43"/><rect x="544.4" y="495.1" width="1" height="1" fill="#3a4a98" fill-opacity="0.24"/><rect x="564.1" y="489.9" width="1" height="1" fill="#3a4a98" fill-opacity="0.09"/><rect x="557.8" y="491.9" width="1" height="1" fill="#3a4a98" fill-opacity="0.42"/><rect x="546.5" y="499.7" width="1" height="1" fill="#3a4a98" fill-opacity="0.27"/><rect x="545.3" y="503.2" width="1" height="1" fill="#3a4a98" fill-opacity="0.15"/><rect x="550.8" y="504.3" width="1" height="1" fill="#3a4a98" fill-opacity="0.39"/><rect x="566.0" y="485.7" width="1" height="1" fill="#3a4a98" fill-opacity="0.00"/><rect x="551.3" y="507.7" width="1" height="1" fill="#3a4a98" fill-opacity="0.36"/><rect x="561.5" y="500.4" width="1" height="1" fill="#3a4a98" fill-opacity="0.39"/><rect x="548.5" y="494.6" width="1" height="1" fill="#3a4a98" fill-opacity="0.44"/><rect x="566.8" y="501.8" width="1" height="1" fill="#3a4a98" fill-opacity="0.16"/><rect x="547.9" y="503.7" width="1" height="1" fill="#3a4a98" fill-opacity="0.27"/><rect x="560.1" y="496.7" width="1" height="1" fill="#3a4a98" fill-opacity="0.39"/><rect x="556.8" y="488.7" width="1" height="1" fill="#3a4a98" fill-opacity="0.42"/><rect x="550.1" y="500.8" width="1" height="1" fill="#3a4a98" fill-opacity="0.42"/><rect x="560.3" y="492.5" width="1" height="1" fill="#3a4a98" fill-opacity="0.31"/><rect x="550.3" y="510.4" width="1" height="1" fill="#3a4a98" fill-opacity="0.27"/><rect x="564.4" y="498.5" width="1" height="1" fill="#3a4a98" fill-opacity="0.22"/><rect x="546.5" y="509.4" width="1" height="1" fill="#3a4a98" fill-opacity="0.11"/><rect x="561.3" y="502.1" width="1" height="1" fill="#3a4a98" fill-opacity="0.42"/><rect x="565.1" y="500.3" width="1" height="1" fill="#3a4a98" fill-opacity="0.21"/><rect x="552.6" y="515.7" width="1" height="1" fill="#3a4a98" fill-opacity="0.30"/><rect x="553.0" y="512.0" width="1" height="1" fill="#3a4a98" fill-opacity="0.38"/><rect x="553.3" y="509.4" width="1" height="1" fill="#3a4a98" fill-opacity="0.43"/><rect x="565.3" y="514.2" width="1" height="1" fill="#3a4a98" fill-opacity="0.42"/><rect x="551.6" y="520.4" width="1" height="1" fill="#3a4a98" fill-opacity="0.19"/><rect x="570.5" y="522.1" width="1" height="1" fill="#3a4a98" fill-opacity="0.28"/><rect x="549.3" y="521.7" width="1" height="1" fill="#3a4a98" fill-opacity="0.06"/><rect x="555.8" y="527.5" width="1" height="1" fill="#3a4a98" fill-opacity="0.29"/><rect x="569.1" y="521.2" width="1" height="1" fill="#3a4a98" fill-opacity="0.34"/><rect x="571.6" y="505.1" width="1" height="1" fill="#3a4a98" fill-opacity="0.00"/><rect x="552.9" y="513.3" width="1" height="1" fill="#3a4a98" fill-opacity="0.35"/><rect x="555.3" y="520.3" width="1" height="1" fill="#3a4a98" fill-opacity="0.37"/><rect x="565.8" y="509.3" width="1" height="1" fill="#3a4a98" fill-opacity="0.32"/><rect x="553.7" y="523.3" width="1" height="1" fill="#3a4a98" fill-opacity="0.25"/><rect x="571.4" y="507.5" width="1" height="1" fill="#3a4a98" fill-opacity="0.03"/><rect x="556.6" y="522.7" width="1" height="1" fill="#3a4a98" fill-opacity="0.39"/><rect x="569.2" y="517.0" width="1" height="1" fill="#3a4a98" fill-opacity="0.27"/><rect x="554.5" y="515.4" width="1" height="1" fill="#3a4a98" fill-opacity="0.40"/><rect x="568.2" y="511.3" width="1" height="1" fill="#3a4a98" fill-opacity="0.24"/><rect x="546.3" y="520.3" width="1" height="1" fill="#3a4a98" fill-opacity="0.00"/><rect x="555.2" y="527.7" width="1" height="1" fill="#3a4a98" fill-opacity="0.25"/><rect x="552.4" y="524.3" width="1" height="1" fill="#3a4a98" fill-opacity="0.17"/><rect x="554.1" y="517.2" width="1" height="1" fill="#3a4a98" fill-opacity="0.36"/><rect x="567.6" y="515.4" width="1" height="1" fill="#3a4a98" fill-opacity="0.32"/><rect x="566.2" y="517.0" width="1" height="1" fill="#3a4a98" fill-opacity="0.42"/><rect x="550.4" y="515.1" width="1" height="1" fill="#3a4a98" fill-opacity="0.21"/><rect x="570.4" y="510.1" width="1" height="1" fill="#3a4a98" fill-opacity="0.11"/><rect x="555.3" y="523.5" width="1" height="1" fill="#3a4a98" fill-opacity="0.32"/><rect x="566.5" y="514.5" width="1" height="1" fill="#3a4a98" fill-opacity="0.36"/><rect x="568.8" y="511.6" width="1" height="1" fill="#3a4a98" fill-opacity="0.21"/><rect x="548.1" y="512.6" width="1" height="1" fill="#3a4a98" fill-opacity="0.13"/><rect x="554.8" y="519.5" width="1" height="1" fill="#3a4a98" fill-opacity="0.35"/><rect x="546.5" y="518.4" width="1" height="1" fill="#3a4a98" fill-opacity="0.00"/><rect x="554.3" y="511.9" width="1" height="1" fill="#3a4a98" fill-opacity="0.44"/><rect x="553.7" y="526.9" width="1" height="1" fill="#3a4a98" fill-opacity="0.20"/><rect x="548.2" y="514.0" width="1" height="1" fill="#3a4a98" fill-opacity="0.12"/><rect x="572.1" y="522.5" width="1" height="1" fill="#3a4a98" fill-opacity="0.21"/><rect x="567.6" y="520.4" width="1" height="1" fill="#3a4a98" fill-opacity="0.40"/><rect x="547.1" y="519.1" width="1" height="1" fill="#3a4a98" fill-opacity="0.00"/><rect x="568.6" y="516.7" width="1" height="1" fill="#3a4a98" fill-opacity="0.29"/><rect x="555.4" y="517.0" width="1" height="1" fill="#3a4a98" fill-opacity="0.42"/><rect x="551.4" y="522.2" width="1" height="1" fill="#3a4a98" fill-opacity="0.15"/><rect x="555.2" y="514.5" width="1" height="1" fill="#3a4a98" fill-opacity="0.45"/><rect x="550.6" y="513.1" width="1" height="1" fill="#3a4a98" fill-opacity="0.25"/><rect x="568.9" y="509.7" width="1" height="1" fill="#3a4a98" fill-opacity="0.18"/><rect x="564.3" y="512.4" width="1" height="1" fill="#3a4a98" fill-opacity="0.44"/><rect x="569.0" y="516.1" width="1" height="1" fill="#3a4a98" fill-opacity="0.27"/><rect x="554.7" y="512.9" width="1" height="1" fill="#3a4a98" fill-opacity="0.45"/><rect x="557.4" y="524.6" width="1" height="1" fill="#3a4a98" fill-opacity="0.41"/><rect x="551.9" y="528.8" width="1" height="1" fill="#3a4a98" fill-opacity="0.08"/><rect x="553.9" y="511.0" width="1" height="1" fill="#3a4a98" fill-opacity="0.43"/><rect x="550.2" y="512.0" width="1" height="1" fill="#3a4a98" fill-opacity="0.25"/><rect x="551.2" y="516.5" width="1" height="1" fill="#3a4a98" fill-opacity="0.23"/><rect x="567.5" y="522.0" width="1" height="1" fill="#3a4a98" fill-opacity="0.42"/><rect x="558.7" y="526.5" width="1" height="1" fill="#3a4a98" fill-opacity="0.44"/><rect x="554.5" y="522.2" width="1" height="1" fill="#3a4a98" fill-opacity="0.30"/><rect x="565.9" y="507.7" width="1" height="1" fill="#3a4a98" fill-opacity="0.29"/><rect x="573.8" y="509.9" width="1" height="1" fill="#3a4a98" fill-opacity="0.00"/><rect x="546.5" y="515.5" width="1" height="1" fill="#3a4a98" fill-opacity="0.02"/><rect x="554.0" y="510.4" width="1" height="1" fill="#3a4a98" fill-opacity="0.45"/><rect x="564.6" y="506.7" width="1" height="1" fill="#3a4a98" fill-opacity="0.34"/><rect x="550.4" y="517.1" width="1" height="1" fill="#3a4a98" fill-opacity="0.18"/><rect x="570.0" y="514.7" width="1" height="1" fill="#3a4a98" fill-opacity="0.20"/><rect x="565.8" y="511.6" width="1" height="1" fill="#3a4a98" fill-opacity="0.35"/><rect x="554.2" y="517.1" width="1" height="1" fill="#3a4a98" fill-opacity="0.36"/><rect x="546.3" y="519.3" width="1" height="1" fill="#3a4a98" fill-opacity="0.00"/><rect x="540.6" y="513.2" width="1" height="1" fill="#3a4a98" fill-opacity="0.00"/><rect x="571.6" y="504.8" width="1" height="1" fill="#3a4a98" fill-opacity="0.00"/><rect x="552.9" y="520.0" width="1" height="1" fill="#3a4a98" fill-opacity="0.26"/><rect x="570.8" y="520.4" width="1" height="1" fill="#3a4a98" fill-opacity="0.24"/><rect x="566.3" y="509.9" width="1" height="1" fill="#3a4a98" fill-opacity="0.31"/><rect x="567.5" y="512.3" width="1" height="1" fill="#3a4a98" fill-opacity="0.29"/><rect x="567.7" y="518.6" width="1" height="1" fill="#3a4a98" fill-opacity="0.36"/><rect x="556.5" y="520.1" width="1" height="1" fill="#3a4a98" fill-opacity="0.43"/><rect x="553.0" y="519.8" width="1" height="1" fill="#3a4a98" fill-opacity="0.26"/><rect x="568.0" y="514.0" width="1" height="1" fill="#3a4a98" fill-opacity="0.29"/><rect x="550.2" y="514.5" width="1" height="1" fill="#3a4a98" fill-opacity="0.21"/><rect x="549.7" y="520.5" width="1" height="1" fill="#3a4a98" fill-opacity="0.10"/><rect x="572.0" y="513.7" width="1" height="1" fill="#3a4a98" fill-opacity="0.09"/><rect x="567.6" y="517.3" width="1" height="1" fill="#3a4a98" fill-opacity="0.35"/><rect x="552.5" y="525.4" width="1" height="1" fill="#3a4a98" fill-opacity="0.16"/><rect x="566.0" y="506.3" width="1" height="1" fill="#3a4a98" fill-opacity="0.27"/><rect x="558.7" y="530.6" width="1" height="1" fill="#3a4a98" fill-opacity="0.38"/><rect x="573.6" y="523.5" width="1" height="1" fill="#3a4a98" fill-opacity="0.15"/><rect x="572.2" y="530.5" width="1" height="1" fill="#3a4a98" fill-opacity="0.32"/><rect x="554.8" y="531.9" width="1" height="1" fill="#3a4a98" fill-opacity="0.17"/><rect x="573.7" y="523.8" width="1" height="1" fill="#3a4a98" fill-opacity="0.15"/><rect x="570.2" y="529.9" width="1" height="1" fill="#3a4a98" fill-opacity="0.41"/><rect x="558.3" y="529.3" width="1" height="1" fill="#3a4a98" fill-opacity="0.38"/><rect x="558.2" y="527.2" width="1" height="1" fill="#3a4a98" fill-opacity="0.41"/><rect x="558.5" y="529.3" width="1" height="1" fill="#3a4a98" fill-opacity="0.39"/><rect x="558.1" y="535.1" width="1" height="1" fill="#3a4a98" fill-opacity="0.29"/><rect x="560.8" y="534.5" width="1" height="1" fill="#3a4a98" fill-opacity="0.42"/><rect x="573.6" y="524.3" width="1" height="1" fill="#3a4a98" fill-opacity="0.16"/><rect x="559.9" y="532.5" width="1" height="1" fill="#3a4a98" fill-opacity="0.41"/><rect x="557.8" y="530.8" width="1" height="1" fill="#3a4a98" fill-opacity="0.34"/><rect x="558.9" y="533.1" width="1" height="1" fill="#3a4a98" fill-opacity="0.36"/><rect x="560.0" y="532.1" width="1" height="1" fill="#3a4a98" fill-opacity="0.42"/><rect x="559.9" y="535.5" width="1" height="1" fill="#3a4a98" fill-opacity="0.36"/><rect x="549.8" y="536.5" width="1" height="1" fill="#3a4a98" fill-opacity="0.00"/><rect x="568.3" y="524.7" width="1" height="1" fill="#3a4a98" fill-opacity="0.42"/><rect x="570.9" y="530.5" width="1" height="1" fill="#3a4a98" fill-opacity="0.39"/><rect x="559.4" y="531.5" width="1" height="1" fill="#3a4a98" fill-opacity="0.40"/><rect x="576.1" y="526.0" width="1" height="1" fill="#3a4a98" fill-opacity="0.07"/><rect x="559.4" y="531.3" width="1" height="1" fill="#3a4a98" fill-opacity="0.40"/><rect x="573.6" y="529.5" width="1" height="1" fill="#3a4a98" fill-opacity="0.24"/><rect x="555.3" y="531.8" width="1" height="1" fill="#3a4a98" fill-opacity="0.20"/><rect x="583.4" y="523.3" width="1" height="1" fill="#3a4a98" fill-opacity="0.00"/><rect x="576.6" y="529.3" width="1" height="1" fill="#3a4a98" fill-opacity="0.10"/><rect x="560.3" y="531.4" width="1" height="1" fill="#3a4a98" fill-opacity="0.44"/><rect x="558.3" y="527.1" width="1" height="1" fill="#3a4a98" fill-opacity="0.42"/><rect x="552.5" y="534.2" width="1" height="1" fill="#3a4a98" fill-opacity="0.03"/><rect x="575.6" y="524.2" width="1" height="1" fill="#3a4a98" fill-opacity="0.07"/><rect x="556.5" y="529.5" width="1" height="1" fill="#3a4a98" fill-opacity="0.29"/><rect x="572.8" y="527.1" width="1" height="1" fill="#3a4a98" fill-opacity="0.25"/><rect x="551.5" y="534.5" width="1" height="1" fill="#3a4a98" fill-opacity="0.00"/><rect x="557.4" y="531.3" width="1" height="1" fill="#3a4a98" fill-opacity="0.31"/><rect x="561.0" y="533.9" width="1" height="1" fill="#3a4a98" fill-opacity="0.44"/><rect x="575.7" y="527.4" width="1" height="1" fill="#3a4a98" fill-opacity="0.11"/><rect x="558.3" y="531.4" width="1" height="1" fill="#3a4a98" fill-opacity="0.35"/><rect x="571.6" y="523.5" width="1" height="1" fill="#3a4a98" fill-opacity="0.25"/><rect x="558.1" y="535.4" width="1" height="1" fill="#3a4a98" fill-opacity="0.28"/><rect x="578.1" y="536.0" width="1" height="1" fill="#3a4a98" fill-opacity="0.13"/><rect x="571.0" y="533.9" width="1" height="1" fill="#3a4a98" fill-opacity="0.43"/><rect x="559.3" y="542.0" width="1" height="1" fill="#3a4a98" fill-opacity="0.23"/><rect x="555.5" y="539.3" width="1" height="1" fill="#3a4a98" fill-opacity="0.10"/><rect x="557.3" y="538.0" width="1" height="1" fill="#3a4a98" fill-opacity="0.20"/><rect x="561.9" y="541.8" width="1" height="1" fill="#3a4a98" fill-opacity="0.35"/><rect x="570.8" y="534.1" width="1" height="1" fill="#3a4a98" fill-opacity="0.44"/><rect x="559.2" y="537.7" width="1" height="1" fill="#3a4a98" fill-opacity="0.30"/><rect x="573.1" y="537.6" width="1" height="1" fill="#3a4a98" fill-opacity="0.39"/><rect x="555.8" y="538.9" width="1" height="1" fill="#3a4a98" fill-opacity="0.12"/><rect x="561.5" y="541.0" width="1" height="1" fill="#3a4a98" fill-opacity="0.35"/><rect x="575.8" y="531.4" width="1" height="1" fill="#3a4a98" fill-opacity="0.16"/><rect x="558.7" y="541.2" width="1" height="1" fill="#3a4a98" fill-opacity="0.22"/><rect x="558.7" y="537.7" width="1" height="1" fill="#3a4a98" fill-opacity="0.27"/><rect x="553.3" y="544.7" width="1" height="1" fill="#3a4a98" fill-opacity="0.00"/><rect x="572.5" y="533.9" width="1" height="1" fill="#3a4a98" fill-opacity="0.36"/><rect x="558.6" y="540.1" width="1" height="1" fill="#3a4a98" fill-opacity="0.23"/><rect x="562.0" y="541.7" width="1" height="1" fill="#3a4a98" fill-opacity="0.36"/><rect x="557.3" y="539.1" width="1" height="1" fill="#3a4a98" fill-opacity="0.18"/><rect x="573.8" y="533.0" width="1" height="1" fill="#3a4a98" fill-opacity="0.28"/><rect x="559.7" y="542.4" width="1" height="1" fill="#3a4a98" fill-opacity="0.24"/><rect x="558.3" y="539.2" width="1" height="1" fill="#3a4a98" fill-opacity="0.23"/><rect x="571.1" y="534.7" width="1" height="1" fill="#3a4a98" fill-opacity="0.44"/><rect x="571.2" y="532.9" width="1" height="1" fill="#3a4a98" fill-opacity="0.41"/><rect x="560.7" y="539.7" width="1" height="1" fill="#3a4a98" fill-opacity="0.34"/><rect x="563.2" y="540.3" width="1" height="1" fill="#3a4a98" fill-opacity="0.44"/><rect x="573.1" y="534.1" width="1" height="1" fill="#3a4a98" fill-opacity="0.34"/><rect x="559.9" y="537.5" width="1" height="1" fill="#3a4a98" fill-opacity="0.34"/><rect x="561.2" y="537.1" width="1" height="1" fill="#3a4a98" fill-opacity="0.40"/><rect x="635.5" y="364.7" width="1" height="1" fill="#3a4a98" fill-opacity="0.39"/><rect x="636.7" y="363.0" width="1" height="1" fill="#3a4a98" fill-opacity="0.42"/><rect x="648.8" y="368.5" width="1" height="1" fill="#3a4a98" fill-opacity="0.27"/><rect x="648.2" y="364.3" width="1" height="1" fill="#3a4a98" fill-opacity="0.37"/><rect x="637.3" y="361.8" width="1" height="1" fill="#3a4a98" fill-opacity="0.43"/><rect x="633.8" y="364.1" width="1" height="1" fill="#3a4a98" fill-opacity="0.31"/><rect x="651.7" y="365.9" width="1" height="1" fill="#3a4a98" fill-opacity="0.17"/><rect x="656.1" y="368.6" width="1" height="1" fill="#3a4a98" fill-opacity="0.00"/><rect x="652.5" y="366.0" width="1" height="1" fill="#3a4a98" fill-opacity="0.13"/><rect x="652.2" y="367.7" width="1" height="1" fill="#3a4a98" fill-opacity="0.12"/><rect x="654.2" y="371.3" width="1" height="1" fill="#3a4a98" fill-opacity="0.00"/><rect x="645.9" y="369.0" width="1" height="1" fill="#3a4a98" fill-opacity="0.39"/><rect x="651.3" y="366.2" width="1" height="1" fill="#3a4a98" fill-opacity="0.19"/><rect x="621.2" y="356.0" width="1" height="1" fill="#3a4a98" fill-opacity="0.00"/><rect x="652.1" y="368.5" width="1" height="1" fill="#3a4a98" fill-opacity="0.11"/><rect x="633.5" y="360.7" width="1" height="1" fill="#3a4a98" fill-opacity="0.23"/><rect x="627.7" y="360.5" width="1" height="1" fill="#3a4a98" fill-opacity="0.00"/><rect x="633.5" y="363.1" width="1" height="1" fill="#3a4a98" fill-opacity="0.27"/><rect x="632.1" y="363.7" width="1" height="1" fill="#3a4a98" fill-opacity="0.22"/><rect x="652.4" y="370.6" width="1" height="1" fill="#3a4a98" fill-opacity="0.06"/><rect x="651.8" y="369.1" width="1" height="1" fill="#3a4a98" fill-opacity="0.12"/><rect x="636.4" y="364.5" width="1" height="1" fill="#3a4a98" fill-opacity="0.44"/><rect x="640.6" y="381.6" width="1" height="1" fill="#3a4a98" fill-opacity="0.42"/><rect x="622.9" y="369.6" width="1" height="1" fill="#3a4a98" fill-opacity="0.00"/><rect x="623.5" y="376.6" width="1" height="1" fill="#3a4a98" fill-opacity="0.04"/><rect x="625.6" y="374.8" width="1" height="1" fill="#3a4a98" fill-opacity="0.11"/><rect x="628.6" y="377.9" width="1" height="1" fill="#3a4a98" fill-opacity="0.30"/><rect x="642.2" y="380.8" width="1" height="1" fill="#3a4a98" fill-opacity="0.36"/><rect x="642.3" y="381.0" width="1" height="1" fill="#3a4a98" fill-opacity="0.36"/><rect x="649.4" y="384.1" width="1" height="1" fill="#3a4a98" fill-opacity="0.00"/><rect x="630.8" y="370.4" width="1" height="1" fill="#3a4a98" fill-opacity="0.27"/><rect x="631.4" y="377.7" width="1" height="1" fill="#3a4a98" fill-opacity="0.43"/><rect x="648.3" y="375.7" width="1" height="1" fill="#3a4a98" fill-opacity="0.16"/><rect x="642.8" y="381.2" width="1" height="1" fill="#3a4a98" fill-opacity="0.33"/><rect x="643.4" y="381.7" width="1" height="1" fill="#3a4a98" fill-opacity="0.29"/><rect x="630.5" y="377.5" width="1" height="1" fill="#3a4a98" fill-opacity="0.38"/><rect x="645.2" y="380.5" width="1" height="1" fill="#3a4a98" fill-opacity="0.23"/><rect x="623.4" y="367.0" width="1" height="1" fill="#3a4a98" fill-opacity="0.00"/><rect x="632.9" y="368.2" width="1" height="1" fill="#3a4a98" fill-opacity="0.33"/><rect x="641.1" y="382.2" width="1" height="1" fill="#3a4a98" fill-opacity="0.39"/><rect x="653.7" y="378.6" width="1" height="1" fill="#3a4a98" fill-opacity="0.00"/><rect x="631.0" y="380.1" width="1" height="1" fill="#3a4a98" fill-opacity="0.45"/><rect x="629.0" y="365.7" width="1" height="1" fill="#3a4a98" fill-opacity="0.11"/><rect x="643.0" y="374.0" width="1" height="1" fill="#3a4a98" fill-opacity="0.45"/><rect x="651.5" y="373.0" width="1" height="1" fill="#3a4a98" fill-opacity="0.06"/><rect x="626.9" y="368.5" width="1" height="1" fill="#3a4a98" fill-opacity="0.05"/><rect x="642.6" y="379.0" width="1" height="1" fill="#3a4a98" fill-opacity="0.38"/><rect x="644.8" y="370.1" width="1" height="1" fill="#3a4a98" fill-opacity="0.42"/><rect x="640.1" y="382.9" width="1" height="1" fill="#3a4a98" fill-opacity="0.43"/><rect x="643.2" y="374.2" width="1" height="1" fill="#3a4a98" fill-opacity="0.43"/><rect x="645.8" y="375.4" width="1" height="1" fill="#3a4a98" fill-opacity="0.29"/><rect x="643.7" y="377.0" width="1" height="1" fill="#3a4a98" fill-opacity="0.36"/><rect x="649.8" y="378.9" width="1" height="1" fill="#3a4a98" fill-opacity="0.04"/><rect x="643.1" y="379.5" width="1" height="1" fill="#3a4a98" fill-opacity="0.34"/><rect x="650.4" y="371.5" width="1" height="1" fill="#3a4a98" fill-opacity="0.14"/><rect x="628.9" y="368.4" width="1" height="1" fill="#3a4a98" fill-opacity="0.15"/><rect x="624.3" y="376.0" width="1" height="1" fill="#3a4a98" fill-opacity="0.07"/><rect x="646.6" y="371.9" width="1" height="1" fill="#3a4a98" fill-opacity="0.31"/><rect x="647.8" y="374.6" width="1" height="1" fill="#3a4a98" fill-opacity="0.21"/><rect x="630.9" y="370.7" width="1" height="1" fill="#3a4a98" fill-opacity="0.28"/><rect x="641.9" y="383.9" width="1" height="1" fill="#3a4a98" fill-opacity="0.33"/><rect x="645.8" y="380.4" width="1" height="1" fill="#3a4a98" fill-opacity="0.20"/><rect x="629.1" y="369.4" width="1" height="1" fill="#3a4a98" fill-opacity="0.18"/><rect x="629.3" y="376.8" width="1" height="1" fill="#3a4a98" fill-opacity="0.31"/><rect x="630.6" y="378.1" width="1" height="1" fill="#3a4a98" fill-opacity="0.40"/><rect x="631.1" y="366.7" width="1" height="1" fill="#3a4a98" fill-opacity="0.22"/><rect x="634.0" y="370.1" width="1" height="1" fill="#3a4a98" fill-opacity="0.42"/><rect x="633.1" y="371.8" width="1" height="1" fill="#3a4a98" fill-opacity="0.40"/><rect x="632.4" y="370.7" width="1" height="1" fill="#3a4a98" fill-opacity="0.35"/><rect x="633.6" y="372.2" width="1" height="1" fill="#3a4a98" fill-opacity="0.43"/><rect x="643.8" y="381.3" width="1" height="1" fill="#3a4a98" fill-opacity="0.28"/><rect x="632.9" y="369.7" width="1" height="1" fill="#3a4a98" fill-opacity="0.36"/><rect x="629.6" y="371.1" width="1" height="1" fill="#3a4a98" fill-opacity="0.23"/><rect x="642.4" y="377.2" width="1" height="1" fill="#3a4a98" fill-opacity="0.42"/><rect x="648.0" y="374.6" width="1" height="1" fill="#3a4a98" fill-opacity="0.20"/><rect x="632.1" y="370.2" width="1" height="1" fill="#3a4a98" fill-opacity="0.33"/><rect x="629.8" y="364.1" width="1" height="1" fill="#3a4a98" fill-opacity="0.12"/><rect x="641.3" y="381.2" width="1" height="1" fill="#3a4a98" fill-opacity="0.40"/><rect x="641.9" y="381.1" width="1" height="1" fill="#3a4a98" fill-opacity="0.37"/><rect x="627.1" y="378.3" width="1" height="1" fill="#3a4a98" fill-opacity="0.24"/><rect x="648.3" y="376.6" width="1" height="1" fill="#3a4a98" fill-opacity="0.15"/><rect x="644.0" y="375.0" width="1" height="1" fill="#3a4a98" fill-opacity="0.38"/><rect x="646.7" y="378.3" width="1" height="1" fill="#3a4a98" fill-opacity="0.20"/><rect x="632.4" y="372.6" width="1" height="1" fill="#3a4a98" fill-opacity="0.39"/><rect x="644.7" y="378.3" width="1" height="1" fill="#3a4a98" fill-opacity="0.29"/><rect x="642.7" y="374.8" width="1" height="1" fill="#3a4a98" fill-opacity="0.44"/><rect x="649.6" y="383.0" width="1" height="1" fill="#3a4a98" fill-opacity="0.00"/><rect x="643.8" y="383.0" width="1" height="1" fill="#3a4a98" fill-opacity="0.25"/><rect x="646.4" y="379.5" width="1" height="1" fill="#3a4a98" fill-opacity="0.19"/><rect x="631.5" y="368.5" width="1" height="1" fill="#3a4a98" fill-opacity="0.27"/><rect x="635.8" y="367.1" width="1" height="1" fill="#3a4a98" fill-opacity="0.45"/><rect x="626.1" y="373.1" width="1" height="1" fill="#3a4a98" fill-opacity="0.10"/><rect x="626.3" y="373.6" width="1" height="1" fill="#3a4a98" fill-opacity="0.12"/><rect x="633.7" y="370.1" width="1" height="1" fill="#3a4a98" fill-opacity="0.40"/><rect x="647.5" y="370.8" width="1" height="1" fill="#3a4a98" fill-opacity="0.29"/><rect x="627.4" y="387.2" width="1" height="1" fill="#3a4a98" fill-opacity="0.43"/><rect x="641.3" y="385.0" width="1" height="1" fill="#3a4a98" fill-opacity="0.33"/><rect x="640.6" y="390.5" width="1" height="1" fill="#3a4a98" fill-opacity="0.25"/><rect x="624.3" y="392.6" width="1" height="1" fill="#3a4a98" fill-opacity="0.40"/><rect x="647.5" y="392.5" width="1" height="1" fill="#3a4a98" fill-opacity="0.00"/><rect x="623.3" y="392.0" width="1" height="1" fill="#3a4a98" fill-opacity="0.34"/><rect x="641.0" y="391.6" width="1" height="1" fill="#3a4a98" fill-opacity="0.21"/><rect x="627.9" y="383.0" width="1" height="1" fill="#3a4a98" fill-opacity="0.37"/><rect x="639.7" y="390.8" width="1" height="1" fill="#3a4a98" fill-opacity="0.28"/><rect x="636.7" y="391.3" width="1" height="1" fill="#3a4a98" fill-opacity="0.41"/><rect x="646.0" y="398.4" width="1" height="1" fill="#3a4a98" fill-opacity="0.00"/><rect x="621.3" y="390.5" width="1" height="1" fill="#3a4a98" fill-opacity="0.22"/><rect x="635.5" y="393.3" width="1" height="1" fill="#3a4a98" fill-opacity="0.42"/><rect x="646.6" y="389.5" width="1" height="1" fill="#3a4a98" fill-opacity="0.00"/><rect x="646.9" y="391.9" width="1" height="1" fill="#3a4a98" fill-opacity="0.00"/><rect x="624.9" y="391.3" width="1" height="1" fill="#3a4a98" fill-opacity="0.40"/><rect x="635.9" y="397.7" width="1" height="1" fill="#3a4a98" fill-opacity="0.31"/><rect x="636.8" y="395.5" width="1" height="1" fill="#3a4a98" fill-opacity="0.32"/><rect x="628.5" y="380.8" width="1" height="1" fill="#3a4a98" fill-opacity="0.35"/><rect x="627.4" y="386.3" width="1" height="1" fill="#3a4a98" fill-opacity="0.41"/><rect x="615.3" y="384.0" width="1" height="1" fill="#3a4a98" fill-opacity="0.00"/><rect x="638.2" y="390.0" width="1" height="1" fill="#3a4a98" fill-opacity="0.37"/><rect x="639.0" y="395.0" width="1" height="1" fill="#3a4a98" fill-opacity="0.23"/><rect x="623.0" y="389.6" width="1" height="1" fill="#3a4a98" fill-opacity="0.28"/><rect x="621.8" y="381.7" width="1" height="1" fill="#3a4a98" fill-opacity="0.06"/><rect x="620.5" y="382.5" width="1" height="1" fill="#3a4a98" fill-opacity="0.02"/><rect x="622.5" y="390.1" width="1" height="1" fill="#3a4a98" fill-opacity="0.27"/><rect x="625.5" y="386.7" width="1" height="1" fill="#3a4a98" fill-opacity="0.33"/><rect x="640.9" y="385.5" width="1" height="1" fill="#3a4a98" fill-opacity="0.34"/><rect x="624.6" y="388.5" width="1" height="1" fill="#3a4a98" fill-opacity="0.33"/><rect x="635.6" y="392.2" width="1" height="1" fill="#3a4a98" fill-opacity="0.44"/><rect x="642.0" y="388.5" width="1" height="1" fill="#3a4a98" fill-opacity="0.23"/><rect x="623.8" y="389.6" width="1" height="1" fill="#3a4a98" fill-opacity="0.32"/><rect x="638.3" y="397.8" width="1" height="1" fill="#3a4a98" fill-opacity="0.21"/><rect x="643.8" y="389.8" width="1" height="1" fill="#3a4a98" fill-opacity="0.12"/><rect x="624.4" y="379.3" width="1" height="1" fill="#3a4a98" fill-opacity="0.13"/><rect x="637.9" y="392.8" width="1" height="1" fill="#3a4a98" fill-opacity="0.33"/><rect x="629.4" y="379.3" width="1" height="1" fill="#3a4a98" fill-opacity="0.36"/><rect x="619.8" y="386.6" width="1" height="1" fill="#3a4a98" fill-opacity="0.07"/><rect x="626.3" y="385.0" width="1" height="1" fill="#3a4a98" fill-opacity="0.34"/><rect x="628.0" y="381.8" width="1" height="1" fill="#3a4a98" fill-opacity="0.35"/><rect x="620.2" y="381.8" width="1" height="1" fill="#3a4a98" fill-opacity="0.00"/><rect x="621.6" y="384.3" width="1" height="1" fill="#3a4a98" fill-opacity="0.11"/><rect x="625.2" y="382.8" width="1" height="1" fill="#3a4a98" fill-opacity="0.24"/><rect x="624.8" y="390.5" width="1" height="1" fill="#3a4a98" fill-opacity="0.38"/><rect x="625.6" y="390.9" width="1" height="1" fill="#3a4a98" fill-opacity="0.42"/><rect x="625.9" y="389.6" width="1" height="1" fill="#3a4a98" fill-opacity="0.41"/><rect x="622.9" y="391.7" width="1" height="1" fill="#3a4a98" fill-opacity="0.32"/><rect x="637.0" y="393.5" width="1" height="1" fill="#3a4a98" fill-opacity="0.35"/><rect x="636.7" y="389.6" width="1" height="1" fill="#3a4a98" fill-opacity="0.45"/><rect x="639.4" y="390.1" width="1" height="1" fill="#3a4a98" fill-opacity="0.31"/><rect x="635.3" y="396.3" width="1" height="1" fill="#3a4a98" fill-opacity="0.37"/><rect x="642.8" y="398.4" width="1" height="1" fill="#3a4a98" fill-opacity="0.00"/><rect x="622.2" y="387.2" width="1" height="1" fill="#3a4a98" fill-opacity="0.19"/><rect x="637.8" y="387.7" width="1" height="1" fill="#3a4a98" fill-opacity="0.44"/><rect x="637.2" y="398.2" width="1" height="1" fill="#3a4a98" fill-opacity="0.25"/><rect x="642.0" y="396.9" width="1" height="1" fill="#3a4a98" fill-opacity="0.05"/><rect x="620.4" y="388.3" width="1" height="1" fill="#3a4a98" fill-opacity="0.13"/><rect x="619.4" y="404.5" width="1" height="1" fill="#3a4a98" fill-opacity="0.42"/><rect x="616.6" y="401.5" width="1" height="1" fill="#3a4a98" fill-opacity="0.23"/><rect x="632.9" y="404.9" width="1" height="1" fill="#3a4a98" fill-opacity="0.31"/><rect x="630.2" y="405.2" width="1" height="1" fill="#3a4a98" fill-opacity="0.42"/><rect x="642.1" y="406.4" width="1" height="1" fill="#3a4a98" fill-opacity="0.00"/><rect x="630.5" y="403.8" width="1" height="1" fill="#3a4a98" fill-opacity="0.44"/><rect x="629.7" y="409.9" width="1" height="1" fill="#3a4a98" fill-opacity="0.35"/><rect x="619.1" y="396.8" width="1" height="1" fill="#3a4a98" fill-opacity="0.25"/><rect x="628.3" y="409.8" width="1" height="1" fill="#3a4a98" fill-opacity="0.42"/><rect x="619.2" y="404.7" width="1" height="1" fill="#3a4a98" fill-opacity="0.41"/><rect x="614.1" y="403.8" width="1" height="1" fill="#3a4a98" fill-opacity="0.16"/><rect x="636.6" y="401.0" width="1" height="1" fill="#3a4a98" fill-opacity="0.22"/><rect x="632.3" y="400.3" width="1" height="1" fill="#3a4a98" fill-opacity="0.43"/><rect x="628.5" y="409.8" width="1" height="1" fill="#3a4a98" fill-opacity="0.40"/><rect x="631.6" y="406.3" width="1" height="1" fill="#3a4a98" fill-opacity="0.33"/><rect x="633.7" y="397.9" width="1" height="1" fill="#3a4a98" fill-opacity="0.41"/><rect x="623.3" y="393.3" width="1" height="1" fill="#3a4a98" fill-opacity="0.37"/><rect x="644.3" y="403.4" width="1" height="1" fill="#3a4a98" fill-opacity="0.00"/><rect x="635.1" y="402.3" width="1" height="1" fill="#3a4a98" fill-opacity="0.26"/><rect x="621.8" y="398.6" width="1" height="1" fill="#3a4a98" fill-opacity="0.41"/><rect x="613.6" y="399.4" width="1" height="1" fill="#3a4a98" fill-opacity="0.05"/><rect x="619.6" y="396.0" width="1" height="1" fill="#3a4a98" fill-opacity="0.25"/><rect x="613.4" y="401.0" width="1" height="1" fill="#3a4a98" fill-opacity="0.08"/><rect x="636.0" y="402.3" width="1" height="1" fill="#3a4a98" fill-opacity="0.22"/><rect x="624.5" y="392.9" width="1" height="1" fill="#3a4a98" fill-opacity="0.42"/><rect x="616.4" y="391.6" width="1" height="1" fill="#3a4a98" fill-opacity="0.02"/><rect x="632.9" y="406.9" width="1" height="1" fill="#3a4a98" fill-opacity="0.27"/><rect x="632.8" y="399.3" width="1" height="1" fill="#3a4a98" fill-opacity="0.43"/><rect x="614.6" y="390.6" width="1" height="1" fill="#3a4a98" fill-opacity="0.00"/><rect x="617.4" y="395.6" width="1" height="1" fill="#3a4a98" fill-opacity="0.14"/><rect x="632.6" y="400.4" width="1" height="1" fill="#3a4a98" fill-opacity="0.41"/><rect x="623.3" y="394.0" width="1" height="1" fill="#3a4a98" fill-opacity="0.38"/><rect x="631.7" y="402.0" width="1" height="1" fill="#3a4a98" fill-opacity="0.42"/><rect x="632.7" y="402.5" width="1" height="1" fill="#3a4a98" fill-opacity="0.37"/><rect x="620.2" y="398.3" width="1" height="1" fill="#3a4a98" fill-opacity="0.33"/><rect x="615.8" y="402.7" width="1" height="1" fill="#3a4a98" fill-opacity="0.22"/><rect x="621.6" y="395.2" width="1" height="1" fill="#3a4a98" fill-opacity="0.33"/><rect x="623.5" y="394.2" width="1" height="1" fill="#3a4a98" fill-opacity="0.39"/><rect x="636.0" y="409.7" width="1" height="1" fill="#3a4a98" fill-opacity="0.07"/><rect x="628.2" y="409.7" width="1" height="1" fill="#3a4a98" fill-opacity="0.42"/><rect x="613.3" y="401.3" width="1" height="1" fill="#3a4a98" fill-opacity="0.07"/><rect x="617.1" y="397.8" width="1" height="1" fill="#3a4a98" fill-opacity="0.18"/><rect x="622.2" y="395.5" width="1" height="1" fill="#3a4a98" fill-opacity="0.36"/><rect x="617.6" y="393.0" width="1" height="1" fill="#3a4a98" fill-opacity="0.10"/><rect x="613.2" y="395.0" width="1" height="1" fill="#3a4a98" fill-opacity="0.00"/><rect x="619.2" y="402.0" width="1" height="1" fill="#3a4a98" fill-opacity="0.36"/><rect x="633.4" y="398.6" width="1" height="1" fill="#3a4a98" fill-opacity="0.41"/><rect x="629.1" y="406.6" width="1" height="1" fill="#3a4a98" fill-opacity="0.44"/><rect x="638.8" y="405.0" width="1" height="1" fill="#3a4a98" fill-opacity="0.03"/><rect x="620.3" y="400.1" width="1" height="1" fill="#3a4a98" fill-opacity="0.37"/><rect x="619.7" y="398.7" width="1" height="1" fill="#3a4a98" fill-opacity="0.32"/><rect x="617.1" y="392.7" width="1" height="1" fill="#3a4a98" fill-opacity="0.07"/><rect x="631.9" y="401.2" width="1" height="1" fill="#3a4a98" fill-opacity="0.43"/><rect x="637.0" y="406.6" width="1" height="1" fill="#3a4a98" fill-opacity="0.08"/><rect x="635.0" y="398.4" width="1" height="1" fill="#3a4a98" fill-opacity="0.34"/><rect x="619.8" y="397.8" width="1" height="1" fill="#3a4a98" fill-opacity="0.30"/><rect x="620.2" y="397.3" width="1" height="1" fill="#3a4a98" fill-opacity="0.31"/><rect x="629.9" y="408.8" width="1" height="1" fill="#3a4a98" fill-opacity="0.37"/><rect x="606.9" y="407.1" width="1" height="1" fill="#3a4a98" fill-opacity="0.00"/><rect x="603.2" y="412.8" width="1" height="1" fill="#3a4a98" fill-opacity="0.00"/><rect x="632.2" y="418.8" width="1" height="1" fill="#3a4a98" fill-opacity="0.05"/><rect x="628.6" y="420.9" width="1" height="1" fill="#3a4a98" fill-opacity="0.17"/><rect x="623.5" y="422.5" width="1" height="1" fill="#3a4a98" fill-opacity="0.37"/><rect x="613.6" y="407.7" width="1" height="1" fill="#3a4a98" fill-opacity="0.22"/><rect x="626.8" y="413.4" width="1" height="1" fill="#3a4a98" fill-opacity="0.41"/><rect x="614.0" y="414.6" width="1" height="1" fill="#3a4a98" fill-opacity="0.38"/><rect x="628.8" y="418.1" width="1" height="1" fill="#3a4a98" fill-opacity="0.22"/><rect x="630.6" y="414.2" width="1" height="1" fill="#3a4a98" fill-opacity="0.22"/><rect x="625.0" y="415.7" width="1" height="1" fill="#3a4a98" fill-opacity="0.44"/><rect x="611.8" y="418.1" width="1" height="1" fill="#3a4a98" fill-opacity="0.35"/><rect x="611.7" y="408.5" width="1" height="1" fill="#3a4a98" fill-opacity="0.15"/><rect x="622.7" y="422.8" width="1" height="1" fill="#3a4a98" fill-opacity="0.41"/><rect x="617.2" y="405.6" width="1" height="1" fill="#3a4a98" fill-opacity="0.34"/><rect x="612.8" y="418.6" width="1" height="1" fill="#3a4a98" fill-opacity="0.41"/><rect x="614.5" y="416.2" width="1" height="1" fill="#3a4a98" fill-opacity="0.44"/><rect x="626.9" y="419.8" width="1" height="1" fill="#3a4a98" fill-opacity="0.27"/><rect x="608.8" y="411.0" width="1" height="1" fill="#3a4a98" fill-opacity="0.07"/><rect x="612.7" y="416.8" width="1" height="1" fill="#3a4a98" fill-opacity="0.37"/><rect x="627.8" y="413.3" width="1" height="1" fill="#3a4a98" fill-opacity="0.37"/><rect x="632.6" y="412.5" width="1" height="1" fill="#3a4a98" fill-opacity="0.16"/><rect x="614.5" y="415.4" width="1" height="1" fill="#3a4a98" fill-opacity="0.42"/><rect x="616.0" y="413.0" width="1" height="1" fill="#3a4a98" fill-opacity="0.44"/><rect x="627.3" y="415.0" width="1" height="1" fill="#3a4a98" fill-opacity="0.35"/><rect x="623.0" y="420.5" width="1" height="1" fill="#3a4a98" fill-opacity="0.44"/><rect x="616.5" y="408.0" width="1" height="1" fill="#3a4a98" fill-opacity="0.36"/><rect x="626.3" y="420.5" width="1" height="1" fill="#3a4a98" fill-opacity="0.29"/><rect x="615.8" y="408.3" width="1" height="1" fill="#3a4a98" fill-opacity="0.33"/><rect x="629.0" y="423.2" width="1" height="1" fill="#3a4a98" fill-opacity="0.11"/><rect x="614.7" y="407.8" width="1" height="1" fill="#3a4a98" fill-opacity="0.28"/><rect x="615.2" y="413.4" width="1" height="1" fill="#3a4a98" fill-opacity="0.41"/><rect x="615.4" y="406.2" width="1" height="1" fill="#3a4a98" fill-opacity="0.27"/><rect x="616.3" y="411.6" width="1" height="1" fill="#3a4a98" fill-opacity="0.42"/><rect x="611.1" y="413.5" width="1" height="1" fill="#3a4a98" fill-opacity="0.23"/><rect x="614.4" y="416.3" width="1" height="1" fill="#3a4a98" fill-opacity="0.44"/><rect x="626.0" y="424.5" width="1" height="1" fill="#3a4a98" fill-opacity="0.22"/><rect x="614.3" y="415.4" width="1" height="1" fill="#3a4a98" fill-opacity="0.41"/><rect x="612.3" y="411.3" width="1" height="1" fill="#3a4a98" fill-opacity="0.24"/><rect x="607.0" y="414.6" width="1" height="1" fill="#3a4a98" fill-opacity="0.06"/><rect x="626.4" y="417.8" width="1" height="1" fill="#3a4a98" fill-opacity="0.34"/><rect x="613.1" y="411.8" width="1" height="1" fill="#3a4a98" fill-opacity="0.28"/><rect x="613.3" y="407.0" width="1" height="1" fill="#3a4a98" fill-opacity="0.19"/><rect x="630.7" y="416.5" width="1" height="1" fill="#3a4a98" fill-opacity="0.17"/><rect x="634.0" y="418.8" width="1" height="1" fill="#3a4a98" fill-opacity="0.00"/><rect x="613.4" y="418.4" width="1" height="1" fill="#3a4a98" fill-opacity="0.43"/><rect x="614.5" y="413.9" width="1" height="1" fill="#3a4a98" fill-opacity="0.39"/><rect x="605.5" y="404.4" width="1" height="1" fill="#3a4a98" fill-opacity="0.00"/><rect x="630.7" y="413.5" width="1" height="1" fill="#3a4a98" fill-opacity="0.23"/><rect x="630.9" y="418.5" width="1" height="1" fill="#3a4a98" fill-opacity="0.12"/><rect x="612.8" y="405.4" width="1" height="1" fill="#3a4a98" fill-opacity="0.14"/><rect x="612.5" y="417.4" width="1" height="1" fill="#3a4a98" fill-opacity="0.37"/><rect x="607.1" y="428.2" width="1" height="1" fill="#3a4a98" fill-opacity="0.32"/><rect x="621.2" y="426.6" width="1" height="1" fill="#3a4a98" fill-opacity="0.40"/><rect x="634.2" y="431.8" width="1" height="1" fill="#3a4a98" fill-opacity="0.00"/><rect x="607.3" y="429.9" width="1" height="1" fill="#3a4a98" fill-opacity="0.36"/><rect x="602.2" y="424.6" width="1" height="1" fill="#3a4a98" fill-opacity="0.03"/><rect x="624.5" y="429.1" width="1" height="1" fill="#3a4a98" fill-opacity="0.20"/><rect x="619.8" y="427.8" width="1" height="1" fill="#3a4a98" fill-opacity="0.44"/><rect x="612.1" y="420.9" width="1" height="1" fill="#3a4a98" fill-opacity="0.42"/><rect x="611.0" y="422.2" width="1" height="1" fill="#3a4a98" fill-opacity="0.39"/><rect x="617.1" y="435.2" width="1" height="1" fill="#3a4a98" fill-opacity="0.43"/><rect x="603.5" y="428.1" width="1" height="1" fill="#3a4a98" fill-opacity="0.15"/><rect x="606.6" y="422.8" width="1" height="1" fill="#3a4a98" fill-opacity="0.20"/><rect x="608.0" y="430.4" width="1" height="1" fill="#3a4a98" fill-opacity="0.40"/><rect x="610.0" y="423.5" width="1" height="1" fill="#3a4a98" fill-opacity="0.37"/><rect x="619.7" y="434.7" width="1" height="1" fill="#3a4a98" fill-opacity="0.32"/><rect x="603.4" y="428.7" width="1" height="1" fill="#3a4a98" fill-opacity="0.16"/><rect x="603.7" y="429.3" width="1" height="1" fill="#3a4a98" fill-opacity="0.18"/><rect x="602.6" y="426.8" width="1" height="1" fill="#3a4a98" fill-opacity="0.09"/><rect x="619.8" y="430.6" width="1" height="1" fill="#3a4a98" fill-opacity="0.39"/><rect x="611.8" y="422.9" width="1" height="1" fill="#3a4a98" fill-opacity="0.44"/><rect x="608.9" y="424.1" width="1" height="1" fill="#3a4a98" fill-opacity="0.33"/><rect x="608.2" y="429.9" width="1" height="1" fill="#3a4a98" fill-opacity="0.41"/><rect x="625.5" y="438.1" width="1" height="1" fill="#3a4a98" fill-opacity="0.00"/><rect x="610.2" y="423.2" width="1" height="1" fill="#3a4a98" fill-opacity="0.38"/><rect x="622.5" y="424.9" width="1" height="1" fill="#3a4a98" fill-opacity="0.37"/><rect x="621.3" y="430.2" width="1" height="1" fill="#3a4a98" fill-opacity="0.33"/><rect x="608.7" y="424.2" width="1" height="1" fill="#3a4a98" fill-opacity="0.32"/><rect x="622.4" y="426.5" width="1" height="1" fill="#3a4a98" fill-opacity="0.35"/><rect x="625.5" y="430.0" width="1" height="1" fill="#3a4a98" fill-opacity="0.14"/><rect x="602.2" y="425.9" width="1" height="1" fill="#3a4a98" fill-opacity="0.05"/><rect x="623.2" y="425.0" width="1" height="1" fill="#3a4a98" fill-opacity="0.34"/><rect x="610.1" y="426.4" width="1" height="1" fill="#3a4a98" fill-opacity="0.43"/><rect x="625.2" y="429.8" width="1" height="1" fill="#3a4a98" fill-opacity="0.16"/><rect x="627.1" y="428.5" width="1" height="1" fill="#3a4a98" fill-opacity="0.09"/><rect x="606.4" y="430.4" width="1" height="1" fill="#3a4a98" fill-opacity="0.33"/><rect x="622.2" y="438.4" width="1" height="1" fill="#3a4a98" fill-opacity="0.14"/><rect x="622.3" y="437.1" width="1" height="1" fill="#3a4a98" fill-opacity="0.15"/><rect x="604.3" y="423.8" width="1" height="1" fill="#3a4a98" fill-opacity="0.11"/><rect x="620.2" y="436.9" width="1" height="1" fill="#3a4a98" fill-opacity="0.26"/><rect x="607.7" y="425.3" width="1" height="1" fill="#3a4a98" fill-opacity="0.30"/><rect x="620.3" y="431.6" width="1" height="1" fill="#3a4a98" fill-opacity="0.35"/><rect x="608.5" y="425.6" width="1" height="1" fill="#3a4a98" fill-opacity="0.34"/><rect x="620.5" y="426.4" width="1" height="1" fill="#3a4a98" fill-opacity="0.44"/><rect x="605.4" y="430.3" width="1" height="1" fill="#3a4a98" fill-opacity="0.28"/><rect x="624.6" y="427.2" width="1" height="1" fill="#3a4a98" fill-opacity="0.23"/><rect x="618.4" y="433.1" width="1" height="1" fill="#3a4a98" fill-opacity="0.41"/><rect x="617.7" y="434.2" width="1" height="1" fill="#3a4a98" fill-opacity="0.42"/><rect x="598.8" y="428.1" width="1" height="1" fill="#3a4a98" fill-opacity="0.00"/><rect x="610.4" y="425.3" width="1" height="1" fill="#3a4a98" fill-opacity="0.42"/><rect x="607.2" y="418.6" width="1" height="1" fill="#3a4a98" fill-opacity="0.15"/><rect x="609.3" y="428.4" width="1" height="1" fill="#3a4a98" fill-opacity="0.43"/><rect x="625.0" y="426.5" width="1" height="1" fill="#3a4a98" fill-opacity="0.23"/><rect x="620.9" y="425.7" width="1" height="1" fill="#3a4a98" fill-opacity="0.43"/><rect x="623.7" y="426.2" width="1" height="1" fill="#3a4a98" fill-opacity="0.29"/><rect x="611.3" y="423.5" width="1" height="1" fill="#3a4a98" fill-opacity="0.43"/><rect x="608.2" y="424.4" width="1" height="1" fill="#3a4a98" fill-opacity="0.31"/><rect x="609.0" y="420.2" width="1" height="1" fill="#3a4a98" fill-opacity="0.26"/><rect x="608.1" y="420.2" width="1" height="1" fill="#3a4a98" fill-opacity="0.22"/><rect x="610.5" y="424.0" width="1" height="1" fill="#3a4a98" fill-opacity="0.40"/><rect x="602.7" y="424.2" width="1" height="1" fill="#3a4a98" fill-opacity="0.04"/><rect x="624.9" y="429.6" width="1" height="1" fill="#3a4a98" fill-opacity="0.17"/><rect x="625.2" y="430.5" width="1" height="1" fill="#3a4a98" fill-opacity="0.14"/><rect x="602.0" y="440.9" width="1" height="1" fill="#3a4a98" fill-opacity="0.28"/><rect x="617.5" y="445.8" width="1" height="1" fill="#3a4a98" fill-opacity="0.26"/><rect x="603.5" y="436.7" width="1" height="1" fill="#3a4a98" fill-opacity="0.29"/><rect x="601.5" y="433.9" width="1" height="1" fill="#3a4a98" fill-opacity="0.16"/><rect x="600.2" y="442.3" width="1" height="1" fill="#3a4a98" fill-opacity="0.21"/><rect x="603.9" y="439.0" width="1" height="1" fill="#3a4a98" fill-opacity="0.34"/><rect x="606.2" y="437.9" width="1" height="1" fill="#3a4a98" fill-opacity="0.44"/><rect x="613.0" y="448.1" width="1" height="1" fill="#3a4a98" fill-opacity="0.44"/><rect x="616.3" y="440.5" width="1" height="1" fill="#3a4a98" fill-opacity="0.39"/><rect x="619.1" y="442.2" width="1" height="1" fill="#3a4a98" fill-opacity="0.23"/><rect x="618.1" y="440.0" width="1" height="1" fill="#3a4a98" fill-opacity="0.31"/><rect x="615.2" y="440.7" width="1" height="1" fill="#3a4a98" fill-opacity="0.44"/><rect x="603.4" y="443.6" width="1" height="1" fill="#3a4a98" fill-opacity="0.39"/><rect x="599.2" y="440.9" width="1" height="1" fill="#3a4a98" fill-opacity="0.15"/><rect x="601.1" y="444.2" width="1" height="1" fill="#3a4a98" fill-opacity="0.29"/><rect x="605.9" y="433.9" width="1" height="1" fill="#3a4a98" fill-opacity="0.37"/><rect x="616.6" y="437.2" width="1" height="1" fill="#3a4a98" fill-opacity="0.43"/><rect x="616.7" y="449.9" width="1" height="1" fill="#3a4a98" fill-opacity="0.24"/><rect x="618.7" y="439.1" width="1" height="1" fill="#3a4a98" fill-opacity="0.30"/><rect x="614.2" y="449.0" width="1" height="1" fill="#3a4a98" fill-opacity="0.37"/><rect x="604.2" y="437.2" width="1" height="1" fill="#3a4a98" fill-opacity="0.33"/><rect x="591.5" y="442.4" width="1" height="1" fill="#3a4a98" fill-opacity="0.00"/><rect x="602.9" y="441.4" width="1" height="1" fill="#3a4a98" fill-opacity="0.33"/><rect x="622.1" y="445.8" width="1" height="1" fill="#3a4a98" fill-opacity="0.03"/><rect x="622.7" y="442.5" width="1" height="1" fill="#3a4a98" fill-opacity="0.06"/><rect x="599.7" y="443.0" width="1" height="1" fill="#3a4a98" fill-opacity="0.20"/><rect x="616.3" y="446.2" width="1" height="1" fill="#3a4a98" fill-opacity="0.31"/><rect x="595.5" y="435.3" width="1" height="1" fill="#3a4a98" fill-opacity="0.00"/><rect x="605.6" y="436.3" width="1" height="1" fill="#3a4a98" fill-opacity="0.39"/><rect x="619.5" y="448.5" width="1" height="1" fill="#3a4a98" fill-opacity="0.12"/><rect x="614.2" y="446.0" width="1" height="1" fill="#3a4a98" fill-opacity="0.41"/><rect x="598.0" y="431.3" width="1" height="1" fill="#3a4a98" fill-opacity="0.00"/><rect x="603.0" y="439.9" width="1" height="1" fill="#3a4a98" fill-opacity="0.31"/><rect x="615.0" y="441.5" width="1" height="1" fill="#3a4a98" fill-opacity="0.44"/><rect x="599.3" y="443.9" width="1" height="1" fill="#3a4a98" fill-opacity="0.19"/><rect x="606.2" y="434.1" width="1" height="1" fill="#3a4a98" fill-opacity="0.38"/><rect x="601.6" y="435.2" width="1" height="1" fill="#3a4a98" fill-opacity="0.18"/><rect x="602.2" y="437.8" width="1" height="1" fill="#3a4a98" fill-opacity="0.24"/><rect x="599.5" y="439.9" width="1" height="1" fill="#3a4a98" fill-opacity="0.15"/><rect x="621.7" y="438.8" width="1" height="1" fill="#3a4a98" fill-opacity="0.16"/><rect x="602.6" y="444.8" width="1" height="1" fill="#3a4a98" fill-opacity="0.37"/><rect x="601.9" y="444.9" width="1" height="1" fill="#3a4a98" fill-opacity="0.33"/><rect x="615.6" y="447.9" width="1" height="1" fill="#3a4a98" fill-opacity="0.32"/><rect x="603.9" y="437.7" width="1" height="1" fill="#3a4a98" fill-opacity="0.33"/><rect x="603.5" y="442.6" width="1" height="1" fill="#3a4a98" fill-opacity="0.37"/><rect x="604.6" y="432.9" width="1" height="1" fill="#3a4a98" fill-opacity="0.29"/><rect x="618.1" y="450.5" width="1" height="1" fill="#3a4a98" fill-opacity="0.16"/><rect x="601.8" y="444.1" width="1" height="1" fill="#3a4a98" fill-opacity="0.32"/><rect x="614.1" y="448.4" width="1" height="1" fill="#3a4a98" fill-opacity="0.38"/><rect x="604.0" y="434.6" width="1" height="1" fill="#3a4a98" fill-opacity="0.28"/><rect x="603.1" y="433.4" width="1" height="1" fill="#3a4a98" fill-opacity="0.22"/><rect x="617.1" y="438.7" width="1" height="1" fill="#3a4a98" fill-opacity="0.38"/><rect x="619.2" y="450.0" width="1" height="1" fill="#3a4a98" fill-opacity="0.11"/><rect x="596.4" y="438.5" width="1" height="1" fill="#3a4a98" fill-opacity="0.00"/><rect x="618.8" y="444.1" width="1" height="1" fill="#3a4a98" fill-opacity="0.22"/><rect x="620.6" y="440.4" width="1" height="1" fill="#3a4a98" fill-opacity="0.19"/><rect x="603.3" y="438.4" width="1" height="1" fill="#3a4a98" fill-opacity="0.31"/><rect x="618.5" y="460.6" width="1" height="1" fill="#3a4a98" fill-opacity="0.00"/><rect x="613.6" y="453.7" width="1" height="1" fill="#3a4a98" fill-opacity="0.30"/><rect x="603.3" y="446.7" width="1" height="1" fill="#3a4a98" fill-opacity="0.44"/><rect x="601.5" y="448.7" width="1" height="1" fill="#3a4a98" fill-opacity="0.40"/><rect x="612.3" y="451.9" width="1" height="1" fill="#3a4a98" fill-opacity="0.40"/><rect x="600.1" y="450.4" width="1" height="1" fill="#3a4a98" fill-opacity="0.37"/><rect x="599.8" y="448.7" width="1" height="1" fill="#3a4a98" fill-opacity="0.32"/><rect x="596.5" y="445.2" width="1" height="1" fill="#3a4a98" fill-opacity="0.10"/><rect x="610.5" y="457.1" width="1" height="1" fill="#3a4a98" fill-opacity="0.37"/><rect x="602.3" y="447.5" width="1" height="1" fill="#3a4a98" fill-opacity="0.40"/><rect x="619.2" y="458.4" width="1" height="1" fill="#3a4a98" fill-opacity="0.00"/><rect x="611.4" y="455.1" width="1" height="1" fill="#3a4a98" fill-opacity="0.37"/><rect x="599.1" y="446.4" width="1" height="1" fill="#3a4a98" fill-opacity="0.24"/><rect x="611.0" y="454.2" width="1" height="1" fill="#3a4a98" fill-opacity="0.41"/><rect x="602.9" y="447.7" width="1" height="1" fill="#3a4a98" fill-opacity="0.44"/><rect x="600.6" y="444.5" width="1" height="1" fill="#3a4a98" fill-opacity="0.26"/><rect x="598.2" y="447.3" width="1" height="1" fill="#3a4a98" fill-opacity="0.22"/><rect x="598.4" y="448.7" width="1" height="1" fill="#3a4a98" fill-opacity="0.26"/><rect x="589.5" y="444.6" width="1" height="1" fill="#3a4a98" fill-opacity="0.00"/><rect x="614.0" y="456.3" width="1" height="1" fill="#3a4a98" fill-opacity="0.23"/><rect x="601.2" y="444.3" width="1" height="1" fill="#3a4a98" fill-opacity="0.29"/><rect x="600.4" y="447.5" width="1" height="1" fill="#3a4a98" fill-opacity="0.32"/><rect x="609.9" y="455.6" width="1" height="1" fill="#3a4a98" fill-opacity="0.43"/><rect x="603.6" y="446.3" width="1" height="1" fill="#3a4a98" fill-opacity="0.44"/><rect x="613.3" y="454.5" width="1" height="1" fill="#3a4a98" fill-opacity="0.30"/><rect x="593.1" y="443.9" width="1" height="1" fill="#3a4a98" fill-opacity="0.00"/><rect x="595.8" y="447.7" width="1" height="1" fill="#3a4a98" fill-opacity="0.12"/><rect x="600.3" y="452.4" width="1" height="1" fill="#3a4a98" fill-opacity="0.42"/><rect x="612.4" y="450.9" width="1" height="1" fill="#3a4a98" fill-opacity="0.42"/><rect x="614.6" y="453.8" width="1" height="1" fill="#3a4a98" fill-opacity="0.25"/><rect x="617.2" y="460.6" width="1" height="1" fill="#3a4a98" fill-opacity="0.00"/><rect x="610.9" y="457.6" width="1" height="1" fill="#3a4a98" fill-opacity="0.34"/><rect x="613.6" y="451.6" width="1" height="1" fill="#3a4a98" fill-opacity="0.34"/><rect x="611.0" y="455.3" width="1" height="1" fill="#3a4a98" fill-opacity="0.38"/><rect x="611.9" y="454.4" width="1" height="1" fill="#3a4a98" fill-opacity="0.36"/><rect x="602.4" y="445.0" width="1" height="1" fill="#3a4a98" fill-opacity="0.36"/><rect x="596.5" y="444.1" width="1" height="1" fill="#3a4a98" fill-opacity="0.07"/><rect x="613.6" y="451.0" width="1" height="1" fill="#3a4a98" fill-opacity="0.36"/><rect x="596.8" y="449.4" width="1" height="1" fill="#3a4a98" fill-opacity="0.20"/><rect x="620.0" y="457.2" width="1" height="1" fill="#3a4a98" fill-opacity="0.00"/><rect x="608.1" y="461.2" width="1" height="1" fill="#3a4a98" fill-opacity="0.40"/><rect x="609.0" y="461.5" width="1" height="1" fill="#3a4a98" fill-opacity="0.35"/><rect x="588.9" y="460.3" width="1" height="1" fill="#3a4a98" fill-opacity="0.04"/><rect x="609.9" y="457.7" width="1" height="1" fill="#3a4a98" fill-opacity="0.38"/><rect x="610.9" y="460.0" width="1" height="1" fill="#3a4a98" fill-opacity="0.29"/><rect x="609.0" y="467.7" width="1" height="1" fill="#3a4a98" fill-opacity="0.24"/><rect x="595.3" y="466.2" width="1" height="1" fill="#3a4a98" fill-opacity="0.44"/><rect x="595.8" y="454.5" width="1" height="1" fill="#3a4a98" fill-opacity="0.25"/><rect x="594.2" y="467.3" width="1" height="1" fill="#3a4a98" fill-opacity="0.42"/><rect x="594.6" y="454.4" width="1" height="1" fill="#3a4a98" fill-opacity="0.19"/><rect x="609.8" y="459.3" width="1" height="1" fill="#3a4a98" fill-opacity="0.36"/><rect x="622.2" y="462.8" width="1" height="1" fill="#3a4a98" fill-opacity="0.00"/><rect x="604.4" y="470.1" width="1" height="1" fill="#3a4a98" fill-opacity="0.41"/><rect x="611.2" y="458.9" width="1" height="1" fill="#3a4a98" fill-opacity="0.30"/><rect x="611.9" y="468.8" width="1" height="1" fill="#3a4a98" fill-opacity="0.08"/><rect x="610.3" y="459.3" width="1" height="1" fill="#3a4a98" fill-opacity="0.34"/><rect x="595.6" y="459.2" width="1" height="1" fill="#3a4a98" fill-opacity="0.33"/><rect x="594.2" y="462.3" width="1" height="1" fill="#3a4a98" fill-opacity="0.32"/><rect x="606.3" y="467.0" width="1" height="1" fill="#3a4a98" fill-opacity="0.38"/><rect x="603.9" y="470.9" width="1" height="1" fill="#3a4a98" fill-opacity="0.42"/><rect x="596.2" y="463.4" width="1" height="1" fill="#3a4a98" fill-opacity="0.44"/><rect x="599.3" y="452.6" width="1" height="1" fill="#3a4a98" fill-opacity="0.38"/><rect x="604.5" y="471.4" width="1" height="1" fill="#3a4a98" fill-opacity="0.38"/><rect x="588.2" y="461.4" width="1" height="1" fill="#3a4a98" fill-opacity="0.03"/><rect x="613.3" y="472.7" width="1" height="1" fill="#3a4a98" fill-opacity="0.00"/><rect x="609.5" y="467.4" width="1" height="1" fill="#3a4a98" fill-opacity="0.22"/><rect x="596.9" y="460.2" width="1" height="1" fill="#3a4a98" fill-opacity="0.41"/><rect x="597.1" y="460.1" width="1" height="1" fill="#3a4a98" fill-opacity="0.42"/><rect x="609.7" y="465.2" width="1" height="1" fill="#3a4a98" fill-opacity="0.26"/><rect x="599.4" y="455.7" width="1" height="1" fill="#3a4a98" fill-opacity="0.44"/><rect x="590.5" y="460.9" width="1" height="1" fill="#3a4a98" fill-opacity="0.13"/><rect x="604.8" y="467.9" width="1" height="1" fill="#3a4a98" fill-opacity="0.43"/><rect x="606.9" y="467.9" width="1" height="1" fill="#3a4a98" fill-opacity="0.34"/><rect x="609.0" y="460.0" width="1" height="1" fill="#3a4a98" fill-opacity="0.38"/><rect x="613.4" y="461.6" width="1" height="1" fill="#3a4a98" fill-opacity="0.15"/><rect x="609.5" y="468.0" width="1" height="1" fill="#3a4a98" fill-opacity="0.21"/><rect x="609.0" y="457.4" width="1" height="1" fill="#3a4a98" fill-opacity="0.43"/><rect x="587.6" y="454.0" width="1" height="1" fill="#3a4a98" fill-opacity="0.00"/><rect x="590.2" y="460.2" width="1" height="1" fill="#3a4a98" fill-opacity="0.10"/><rect x="594.5" y="456.3" width="1" height="1" fill="#3a4a98" fill-opacity="0.23"/><rect x="593.7" y="462.8" width="1" height="1" fill="#3a4a98" fill-opacity="0.31"/><rect x="591.4" y="461.4" width="1" height="1" fill="#3a4a98" fill-opacity="0.17"/><rect x="606.9" y="470.2" width="1" height="1" fill="#3a4a98" fill-opacity="0.29"/><rect x="606.9" y="462.9" width="1" height="1" fill="#3a4a98" fill-opacity="0.43"/><rect x="605.6" y="469.4" width="1" height="1" fill="#3a4a98" fill-opacity="0.36"/><rect x="589.3" y="463.6" width="1" height="1" fill="#3a4a98" fill-opacity="0.12"/><rect x="592.9" y="456.3" width="1" height="1" fill="#3a4a98" fill-opacity="0.15"/><rect x="598.8" y="454.3" width="1" height="1" fill="#3a4a98" fill-opacity="0.39"/><rect x="596.8" y="457.9" width="1" height="1" fill="#3a4a98" fill-opacity="0.36"/><rect x="611.3" y="460.5" width="1" height="1" fill="#3a4a98" fill-opacity="0.26"/><rect x="610.5" y="461.9" width="1" height="1" fill="#3a4a98" fill-opacity="0.28"/><rect x="595.5" y="454.4" width="1" height="1" fill="#3a4a98" fill-opacity="0.24"/><rect x="613.9" y="462.3" width="1" height="1" fill="#3a4a98" fill-opacity="0.11"/><rect x="606.2" y="465.1" width="1" height="1" fill="#3a4a98" fill-opacity="0.42"/><rect x="608.0" y="461.5" width="1" height="1" fill="#3a4a98" fill-opacity="0.40"/><rect x="608.3" y="464.7" width="1" height="1" fill="#3a4a98" fill-opacity="0.33"/><rect x="597.3" y="458.8" width="1" height="1" fill="#3a4a98" fill-opacity="0.40"/><rect x="592.1" y="456.0" width="1" height="1" fill="#3a4a98" fill-opacity="0.11"/><rect x="605.9" y="471.8" width="1" height="1" fill="#3a4a98" fill-opacity="0.31"/><rect x="608.9" y="462.9" width="1" height="1" fill="#3a4a98" fill-opacity="0.33"/><rect x="609.2" y="462.7" width="1" height="1" fill="#3a4a98" fill-opacity="0.32"/><rect x="617.7" y="471.7" width="1" height="1" fill="#3a4a98" fill-opacity="0.00"/><rect x="607.7" y="464.5" width="1" height="1" fill="#3a4a98" fill-opacity="0.36"/><rect x="605.8" y="465.5" width="1" height="1" fill="#3a4a98" fill-opacity="0.43"/><rect x="589.3" y="479.8" width="1" height="1" fill="#3a4a98" fill-opacity="0.42"/><rect x="610.1" y="479.5" width="1" height="1" fill="#3a4a98" fill-opacity="0.00"/><rect x="589.4" y="471.6" width="1" height="1" fill="#3a4a98" fill-opacity="0.27"/><rect x="592.0" y="473.3" width="1" height="1" fill="#3a4a98" fill-opacity="0.42"/><rect x="587.5" y="476.0" width="1" height="1" fill="#3a4a98" fill-opacity="0.27"/><rect x="599.8" y="482.1" width="1" height="1" fill="#3a4a98" fill-opacity="0.40"/><rect x="579.9" y="473.3" width="1" height="1" fill="#3a4a98" fill-opacity="0.00"/><rect x="601.8" y="482.0" width="1" height="1" fill="#3a4a98" fill-opacity="0.31"/><rect x="603.7" y="474.1" width="1" height="1" fill="#3a4a98" fill-opacity="0.37"/><rect x="604.8" y="476.1" width="1" height="1" fill="#3a4a98" fill-opacity="0.28"/><rect x="589.7" y="476.6" width="1" height="1" fill="#3a4a98" fill-opacity="0.38"/><rect x="591.7" y="469.3" width="1" height="1" fill="#3a4a98" fill-opacity="0.34"/><rect x="591.2" y="468.5" width="1" height="1" fill="#3a4a98" fill-opacity="0.30"/><rect x="603.0" y="482.5" width="1" height="1" fill="#3a4a98" fill-opacity="0.24"/><rect x="587.7" y="478.9" width="1" height="1" fill="#3a4a98" fill-opacity="0.33"/><rect x="602.1" y="478.2" width="1" height="1" fill="#3a4a98" fill-opacity="0.37"/><rect x="606.3" y="474.0" width="1" height="1" fill="#3a4a98" fill-opacity="0.25"/><rect x="581.6" y="472.8" width="1" height="1" fill="#3a4a98" fill-opacity="0.00"/><rect x="586.4" y="467.3" width="1" height="1" fill="#3a4a98" fill-opacity="0.05"/><rect x="592.0" y="474.0" width="1" height="1" fill="#3a4a98" fill-opacity="0.44"/><rect x="603.9" y="480.4" width="1" height="1" fill="#3a4a98" fill-opacity="0.24"/><rect x="584.7" y="469.3" width="1" height="1" fill="#3a4a98" fill-opacity="0.01"/><rect x="585.9" y="468.8" width="1" height="1" fill="#3a4a98" fill-opacity="0.06"/><rect x="600.2" y="484.6" width="1" height="1" fill="#3a4a98" fill-opacity="0.34"/><rect x="603.2" y="487.9" width="1" height="1" fill="#3a4a98" fill-opacity="0.14"/><rect x="606.7" y="476.3" width="1" height="1" fill="#3a4a98" fill-opacity="0.19"/><rect x="591.6" y="467.9" width="1" height="1" fill="#3a4a98" fill-opacity="0.31"/><rect x="588.1" y="479.6" width="1" height="1" fill="#3a4a98" fill-opacity="0.36"/><rect x="588.9" y="473.2" width="1" height="1" fill="#3a4a98" fill-opacity="0.28"/><rect x="608.9" y="477.5" width="1" height="1" fill="#3a4a98" fill-opacity="0.06"/><rect x="598.2" y="485.3" width="1" height="1" fill="#3a4a98" fill-opacity="0.41"/><rect x="590.7" y="474.5" width="1" height="1" fill="#3a4a98" fill-opacity="0.39"/><rect x="603.8" y="486.2" width="1" height="1" fill="#3a4a98" fill-opacity="0.14"/><rect x="589.3" y="477.9" width="1" height="1" fill="#3a4a98" fill-opacity="0.38"/><rect x="601.2" y="481.4" width="1" height="1" fill="#3a4a98" fill-opacity="0.35"/><rect x="600.6" y="485.6" width="1" height="1" fill="#3a4a98" fill-opacity="0.29"/><rect x="599.8" y="483.5" width="1" height="1" fill="#3a4a98" fill-opacity="0.38"/><rect x="587.7" y="473.0" width="1" height="1" fill="#3a4a98" fill-opacity="0.22"/><rect x="598.5" y="483.3" width="1" height="1" fill="#3a4a98" fill-opacity="0.44"/><rect x="602.5" y="480.1" width="1" height="1" fill="#3a4a98" fill-opacity="0.31"/><rect x="603.3" y="473.2" width="1" height="1" fill="#3a4a98" fill-opacity="0.40"/><rect x="582.8" y="476.2" width="1" height="1" fill="#3a4a98" fill-opacity="0.05"/><rect x="601.0" y="481.6" width="1" height="1" fill="#3a4a98" fill-opacity="0.36"/><rect x="605.3" y="475.1" width="1" height="1" fill="#3a4a98" fill-opacity="0.28"/><rect x="587.8" y="468.2" width="1" height="1" fill="#3a4a98" fill-opacity="0.14"/><rect x="586.9" y="469.7" width="1" height="1" fill="#3a4a98" fill-opacity="0.12"/><rect x="587.4" y="475.7" width="1" height="1" fill="#3a4a98" fill-opacity="0.26"/><rect x="590.6" y="477.7" width="1" height="1" fill="#3a4a98" fill-opacity="0.44"/><rect x="588.4" y="477.6" width="1" height="1" fill="#3a4a98" fill-opacity="0.34"/><rect x="591.9" y="468.2" width="1" height="1" fill="#3a4a98" fill-opacity="0.33"/><rect x="609.0" y="474.2" width="1" height="1" fill="#3a4a98" fill-opacity="0.12"/><rect x="591.2" y="474.0" width="1" height="1" fill="#3a4a98" fill-opacity="0.40"/><rect x="607.7" y="474.7" width="1" height="1" fill="#3a4a98" fill-opacity="0.17"/><rect x="592.3" y="470.4" width="1" height="1" fill="#3a4a98" fill-opacity="0.38"/><rect x="617.4" y="480.2" width="1" height="1" fill="#3a4a98" fill-opacity="0.00"/><rect x="599.7" y="485.5" width="1" height="1" fill="#3a4a98" fill-opacity="0.34"/><rect x="602.0" y="479.2" width="1" height="1" fill="#3a4a98" fill-opacity="0.35"/><rect x="601.2" y="485.4" width="1" height="1" fill="#3a4a98" fill-opacity="0.28"/><rect x="590.8" y="475.6" width="1" height="1" fill="#3a4a98" fill-opacity="0.41"/><rect x="588.8" y="480.0" width="1" height="1" fill="#3a4a98" fill-opacity="0.40"/><rect x="584.8" y="480.3" width="1" height="1" fill="#3a4a98" fill-opacity="0.22"/><rect x="601.6" y="475.9" width="1" height="1" fill="#3a4a98" fill-opacity="0.43"/><rect x="580.9" y="484.3" width="1" height="1" fill="#3a4a98" fill-opacity="0.12"/><rect x="584.7" y="489.1" width="1" height="1" fill="#3a4a98" fill-opacity="0.38"/><rect x="585.4" y="487.9" width="1" height="1" fill="#3a4a98" fill-opacity="0.39"/><rect x="586.2" y="486.3" width="1" height="1" fill="#3a4a98" fill-opacity="0.40"/><rect x="592.2" y="500.1" width="1" height="1" fill="#3a4a98" fill-opacity="0.42"/><rect x="587.4" y="485.6" width="1" height="1" fill="#3a4a98" fill-opacity="0.44"/><rect x="580.4" y="493.0" width="1" height="1" fill="#3a4a98" fill-opacity="0.25"/><rect x="597.3" y="487.6" width="1" height="1" fill="#3a4a98" fill-opacity="0.41"/><rect x="604.5" y="489.3" width="1" height="1" fill="#3a4a98" fill-opacity="0.05"/><rect x="597.0" y="488.2" width="1" height="1" fill="#3a4a98" fill-opacity="0.41"/><rect x="602.7" y="496.7" width="1" height="1" fill="#3a4a98" fill-opacity="0.00"/><rect x="581.4" y="494.5" width="1" height="1" fill="#3a4a98" fill-opacity="0.33"/><rect x="597.5" y="489.8" width="1" height="1" fill="#3a4a98" fill-opacity="0.36"/><rect x="586.1" y="488.7" width="1" height="1" fill="#3a4a98" fill-opacity="0.44"/><rect x="576.3" y="489.3" width="1" height="1" fill="#3a4a98" fill-opacity="0.00"/><rect x="587.2" y="483.5" width="1" height="1" fill="#3a4a98" fill-opacity="0.39"/><rect x="582.8" y="488.6" width="1" height="1" fill="#3a4a98" fill-opacity="0.28"/><rect x="582.2" y="486.7" width="1" height="1" fill="#3a4a98" fill-opacity="0.22"/><rect x="581.3" y="480.0" width="1" height="1" fill="#3a4a98" fill-opacity="0.05"/><rect x="576.9" y="490.0" width="1" height="1" fill="#3a4a98" fill-opacity="0.04"/><rect x="582.4" y="486.6" width="1" height="1" fill="#3a4a98" fill-opacity="0.23"/><rect x="597.2" y="497.4" width="1" height="1" fill="#3a4a98" fill-opacity="0.23"/><rect x="596.5" y="490.1" width="1" height="1" fill="#3a4a98" fill-opacity="0.40"/><rect x="585.5" y="485.7" width="1" height="1" fill="#3a4a98" fill-opacity="0.35"/><rect x="584.7" y="491.5" width="1" height="1" fill="#3a4a98" fill-opacity="0.43"/><rect x="598.4" y="490.0" width="1" height="1" fill="#3a4a98" fill-opacity="0.31"/><rect x="599.5" y="488.6" width="1" height="1" fill="#3a4a98" fill-opacity="0.29"/><rect x="601.7" y="493.8" width="1" height="1" fill="#3a4a98" fill-opacity="0.09"/><rect x="584.8" y="485.3" width="1" height="1" fill="#3a4a98" fill-opacity="0.32"/><rect x="573.0" y="492.5" width="1" height="1" fill="#3a4a98" fill-opacity="0.00"/><rect x="599.0" y="502.4" width="1" height="1" fill="#3a4a98" fill-opacity="0.06"/><rect x="599.5" y="490.1" width="1" height="1" fill="#3a4a98" fill-opacity="0.26"/><rect x="593.8" y="501.2" width="1" height="1" fill="#3a4a98" fill-opacity="0.32"/><rect x="598.6" y="495.7" width="1" height="1" fill="#3a4a98" fill-opacity="0.20"/><rect x="582.6" y="491.9" width="1" height="1" fill="#3a4a98" fill-opacity="0.34"/><rect x="592.3" y="500.0" width="1" height="1" fill="#3a4a98" fill-opacity="0.41"/><rect x="599.4" y="493.4" width="1" height="1" fill="#3a4a98" fill-opacity="0.20"/><rect x="608.9" y="498.3" width="1" height="1" fill="#3a4a98" fill-opacity="0.00"/><rect x="579.0" y="490.4" width="1" height="1" fill="#3a4a98" fill-opacity="0.14"/><rect x="581.4" y="495.2" width="1" height="1" fill="#3a4a98" fill-opacity="0.34"/><rect x="602.3" y="492.2" width="1" height="1" fill="#3a4a98" fill-opacity="0.10"/><rect x="593.6" y="497.6" width="1" height="1" fill="#3a4a98" fill-opacity="0.40"/><rect x="582.0" y="493.1" width="1" height="1" fill="#3a4a98" fill-opacity="0.33"/><rect x="598.9" y="497.7" width="1" height="1" fill="#3a4a98" fill-opacity="0.15"/><rect x="587.7" y="484.7" width="1" height="1" fill="#3a4a98" fill-opacity="0.44"/><rect x="585.4" y="484.5" width="1" height="1" fill="#3a4a98" fill-opacity="0.33"/><rect x="592.5" y="498.2" width="1" height="1" fill="#3a4a98" fill-opacity="0.44"/><rect x="587.0" y="481.8" width="1" height="1" fill="#3a4a98" fill-opacity="0.35"/><rect x="575.6" y="483.3" width="1" height="1" fill="#3a4a98" fill-opacity="0.00"/><rect x="594.2" y="494.3" width="1" height="1" fill="#3a4a98" fill-opacity="0.43"/><rect x="600.0" y="503.3" width="1" height="1" fill="#3a4a98" fill-opacity="0.00"/><rect x="574.8" y="491.7" width="1" height="1" fill="#3a4a98" fill-opacity="0.00"/><rect x="595.5" y="498.8" width="1" height="1" fill="#3a4a98" fill-opacity="0.29"/><rect x="596.8" y="488.1" width="1" height="1" fill="#3a4a98" fill-opacity="0.43"/><rect x="596.1" y="498.4" width="1" height="1" fill="#3a4a98" fill-opacity="0.27"/><rect x="600.4" y="497.6" width="1" height="1" fill="#3a4a98" fill-opacity="0.08"/><rect x="596.2" y="499.1" width="1" height="1" fill="#3a4a98" fill-opacity="0.25"/><rect x="596.1" y="494.8" width="1" height="1" fill="#3a4a98" fill-opacity="0.33"/><rect x="578.6" y="484.5" width="1" height="1" fill="#3a4a98" fill-opacity="0.01"/><rect x="597.2" y="487.4" width="1" height="1" fill="#3a4a98" fill-opacity="0.42"/><rect x="579.4" y="494.3" width="1" height="1" fill="#3a4a98" fill-opacity="0.23"/><rect x="596.7" y="496.4" width="1" height="1" fill="#3a4a98" fill-opacity="0.28"/><rect x="600.6" y="500.2" width="1" height="1" fill="#3a4a98" fill-opacity="0.02"/><rect x="600.4" y="494.5" width="1" height="1" fill="#3a4a98" fill-opacity="0.14"/><rect x="600.5" y="488.8" width="1" height="1" fill="#3a4a98" fill-opacity="0.24"/><rect x="599.1" y="490.7" width="1" height="1" fill="#3a4a98" fill-opacity="0.27"/><rect x="597.6" y="494.2" width="1" height="1" fill="#3a4a98" fill-opacity="0.27"/><rect x="574.5" y="493.4" width="1" height="1" fill="#3a4a98" fill-opacity="0.00"/><rect x="600.3" y="489.8" width="1" height="1" fill="#3a4a98" fill-opacity="0.23"/><rect x="599.2" y="486.8" width="1" height="1" fill="#3a4a98" fill-opacity="0.34"/><rect x="584.5" y="487.6" width="1" height="1" fill="#3a4a98" fill-opacity="0.34"/><rect x="598.1" y="496.0" width="1" height="1" fill="#3a4a98" fill-opacity="0.22"/><rect x="584.2" y="487.1" width="1" height="1" fill="#3a4a98" fill-opacity="0.32"/><rect x="594.6" y="495.6" width="1" height="1" fill="#3a4a98" fill-opacity="0.39"/><rect x="587.8" y="482.1" width="1" height="1" fill="#3a4a98" fill-opacity="0.39"/><rect x="586.6" y="483.0" width="1" height="1" fill="#3a4a98" fill-opacity="0.35"/><rect x="571.9" y="504.4" width="1" height="1" fill="#3a4a98" fill-opacity="0.07"/><rect x="577.9" y="504.8" width="1" height="1" fill="#3a4a98" fill-opacity="0.36"/><rect x="576.7" y="505.0" width="1" height="1" fill="#3a4a98" fill-opacity="0.30"/><rect x="572.0" y="507.4" width="1" height="1" fill="#3a4a98" fill-opacity="0.13"/><rect x="586.1" y="513.8" width="1" height="1" fill="#3a4a98" fill-opacity="0.45"/><rect x="573.8" y="503.8" width="1" height="1" fill="#3a4a98" fill-opacity="0.15"/><rect x="598.7" y="508.8" width="1" height="1" fill="#3a4a98" fill-opacity="0.00"/><rect x="599.1" y="518.8" width="1" height="1" fill="#3a4a98" fill-opacity="0.00"/><rect x="594.6" y="502.0" width="1" height="1" fill="#3a4a98" fill-opacity="0.27"/><rect x="593.8" y="509.0" width="1" height="1" fill="#3a4a98" fill-opacity="0.18"/><rect x="592.1" y="511.1" width="1" height="1" fill="#3a4a98" fill-opacity="0.22"/><rect x="572.2" y="507.6" width="1" height="1" fill="#3a4a98" fill-opacity="0.14"/><rect x="589.2" y="505.9" width="1" height="1" fill="#3a4a98" fill-opacity="0.45"/><rect x="590.8" y="510.3" width="1" height="1" fill="#3a4a98" fill-opacity="0.29"/><rect x="598.2" y="508.5" width="1" height="1" fill="#3a4a98" fill-opacity="0.00"/><rect x="590.5" y="513.1" width="1" height="1" fill="#3a4a98" fill-opacity="0.26"/><rect x="577.7" y="501.4" width="1" height="1" fill="#3a4a98" fill-opacity="0.28"/><rect x="598.1" y="509.7" width="1" height="1" fill="#3a4a98" fill-opacity="0.00"/><rect x="577.3" y="503.3" width="1" height="1" fill="#3a4a98" fill-opacity="0.30"/><rect x="573.7" y="507.2" width="1" height="1" fill="#3a4a98" fill-opacity="0.20"/><rect x="575.7" y="497.7" width="1" height="1" fill="#3a4a98" fill-opacity="0.12"/><rect x="579.6" y="495.6" width="1" height="1" fill="#3a4a98" fill-opacity="0.27"/><rect x="595.0" y="503.3" width="1" height="1" fill="#3a4a98" fill-opacity="0.23"/><rect x="590.9" y="514.2" width="1" height="1" fill="#3a4a98" fill-opacity="0.22"/><rect x="586.9" y="515.2" width="1" height="1" fill="#3a4a98" fill-opacity="0.39"/><rect x="571.7" y="508.1" width="1" height="1" fill="#3a4a98" fill-opacity="0.13"/><rect x="590.7" y="514.4" width="1" height="1" fill="#3a4a98" fill-opacity="0.22"/><rect x="579.5" y="504.8" width="1" height="1" fill="#3a4a98" fill-opacity="0.43"/><rect x="578.4" y="497.4" width="1" height="1" fill="#3a4a98" fill-opacity="0.24"/><rect x="595.6" y="506.0" width="1" height="1" fill="#3a4a98" fill-opacity="0.15"/><rect x="593.6" y="514.2" width="1" height="1" fill="#3a4a98" fill-opacity="0.09"/><rect x="593.8" y="503.0" width="1" height="1" fill="#3a4a98" fill-opacity="0.29"/><rect x="576.1" y="497.0" width="1" height="1" fill="#3a4a98" fill-opacity="0.13"/><rect x="573.2" y="507.9" width="1" height="1" fill="#3a4a98" fill-opacity="0.20"/><rect x="591.9" y="513.8" width="1" height="1" fill="#3a4a98" fill-opacity="0.18"/><rect x="576.2" y="497.9" width="1" height="1" fill="#3a4a98" fill-opacity="0.15"/><rect x="571.7" y="503.3" width="1" height="1" fill="#3a4a98" fill-opacity="0.04"/><rect x="594.3" y="509.6" width="1" height="1" fill="#3a4a98" fill-opacity="0.14"/><rect x="572.4" y="508.7" width="1" height="1" fill="#3a4a98" fill-opacity="0.17"/><rect x="595.6" y="509.5" width="1" height="1" fill="#3a4a98" fill-opacity="0.08"/><rect x="590.6" y="504.3" width="1" height="1" fill="#3a4a98" fill-opacity="0.41"/><rect x="580.0" y="500.2" width="1" height="1" fill="#3a4a98" fill-opacity="0.37"/><rect x="578.4" y="508.2" width="1" height="1" fill="#3a4a98" fill-opacity="0.44"/><rect x="603.1" y="507.5" width="1" height="1" fill="#3a4a98" fill-opacity="0.00"/><rect x="576.8" y="502.7" width="1" height="1" fill="#3a4a98" fill-opacity="0.27"/><rect x="578.2" y="501.5" width="1" height="1" fill="#3a4a98" fill-opacity="0.31"/><rect x="595.8" y="508.4" width="1" height="1" fill="#3a4a98" fill-opacity="0.09"/><rect x="593.0" y="503.0" width="1" height="1" fill="#3a4a98" fill-opacity="0.33"/><rect x="589.4" y="515.1" width="1" height="1" fill="#3a4a98" fill-opacity="0.27"/><rect x="578.7" y="500.1" width="1" height="1" fill="#3a4a98" fill-opacity="0.31"/><rect x="597.7" y="510.3" width="1" height="1" fill="#3a4a98" fill-opacity="0.00"/><rect x="597.3" y="518.3" width="1" height="1" fill="#3a4a98" fill-opacity="0.00"/><rect x="589.7" y="515.2" width="1" height="1" fill="#3a4a98" fill-opacity="0.26"/><rect x="594.3" y="508.4" width="1" height="1" fill="#3a4a98" fill-opacity="0.17"/><rect x="569.9" y="508.6" width="1" height="1" fill="#3a4a98" fill-opacity="0.05"/><rect x="568.8" y="503.8" width="1" height="1" fill="#3a4a98" fill-opacity="0.00"/><rect x="577.1" y="498.4" width="1" height="1" fill="#3a4a98" fill-opacity="0.20"/><rect x="591.8" y="506.8" width="1" height="1" fill="#3a4a98" fill-opacity="0.31"/><rect x="590.9" y="501.9" width="1" height="1" fill="#3a4a98" fill-opacity="0.44"/><rect x="594.7" y="502.7" width="1" height="1" fill="#3a4a98" fill-opacity="0.25"/><rect x="586.3" y="514.9" width="1" height="1" fill="#3a4a98" fill-opacity="0.42"/><rect x="578.7" y="498.2" width="1" height="1" fill="#3a4a98" fill-opacity="0.27"/><rect x="579.1" y="503.8" width="1" height="1" fill="#3a4a98" fill-opacity="0.39"/><rect x="576.9" y="502.1" width="1" height="1" fill="#3a4a98" fill-opacity="0.26"/><rect x="578.0" y="508.3" width="1" height="1" fill="#3a4a98" fill-opacity="0.42"/><rect x="574.2" y="501.0" width="1" height="1" fill="#3a4a98" fill-opacity="0.11"/><rect x="587.4" y="514.3" width="1" height="1" fill="#3a4a98" fill-opacity="0.38"/><rect x="588.2" y="520.8" width="1" height="1" fill="#3a4a98" fill-opacity="0.22"/><rect x="585.7" y="528.9" width="1" height="1" fill="#3a4a98" fill-opacity="0.18"/><rect x="583.9" y="528.0" width="1" height="1" fill="#3a4a98" fill-opacity="0.28"/><rect x="584.1" y="521.0" width="1" height="1" fill="#3a4a98" fill-opacity="0.41"/><rect x="572.2" y="519.1" width="1" height="1" fill="#3a4a98" fill-opacity="0.36"/><rect x="562.3" y="517.0" width="1" height="1" fill="#3a4a98" fill-opacity="0.00"/><rect x="589.0" y="521.5" width="1" height="1" fill="#3a4a98" fill-opacity="0.17"/><rect x="582.0" y="525.8" width="1" height="1" fill="#3a4a98" fill-opacity="0.41"/><rect x="584.4" y="528.4" width="1" height="1" fill="#3a4a98" fill-opacity="0.25"/><rect x="588.4" y="532.9" width="1" height="1" fill="#3a4a98" fill-opacity="0.00"/><rect x="569.1" y="508.5" width="1" height="1" fill="#3a4a98" fill-opacity="0.02"/><rect x="568.8" y="523.1" width="1" height="1" fill="#3a4a98" fill-opacity="0.27"/><rect x="588.2" y="516.7" width="1" height="1" fill="#3a4a98" fill-opacity="0.30"/><rect x="574.7" y="510.6" width="1" height="1" fill="#3a4a98" fill-opacity="0.32"/><rect x="585.1" y="519.2" width="1" height="1" fill="#3a4a98" fill-opacity="0.40"/><rect x="586.5" y="526.2" width="1" height="1" fill="#3a4a98" fill-opacity="0.20"/><rect x="589.1" y="519.9" width="1" height="1" fill="#3a4a98" fill-opacity="0.19"/><rect x="586.2" y="524.3" width="1" height="1" fill="#3a4a98" fill-opacity="0.25"/><rect x="585.8" y="518.5" width="1" height="1" fill="#3a4a98" fill-opacity="0.37"/><rect x="584.7" y="518.9" width="1" height="1" fill="#3a4a98" fill-opacity="0.42"/><rect x="567.5" y="519.5" width="1" height="1" fill="#3a4a98" fill-opacity="0.15"/><rect x="561.0" y="521.3" width="1" height="1" fill="#3a4a98" fill-opacity="0.00"/><rect x="575.6" y="514.3" width="1" height="1" fill="#3a4a98" fill-opacity="0.42"/><rect x="566.7" y="512.6" width="1" height="1" fill="#3a4a98" fill-opacity="0.00"/><rect x="575.9" y="514.7" width="1" height="1" fill="#3a4a98" fill-opacity="0.44"/><rect x="570.8" y="516.6" width="1" height="1" fill="#3a4a98" fill-opacity="0.25"/><rect x="589.9" y="521.9" width="1" height="1" fill="#3a4a98" fill-opacity="0.12"/><rect x="570.1" y="514.6" width="1" height="1" fill="#3a4a98" fill-opacity="0.17"/><rect x="583.3" y="523.6" width="1" height="1" fill="#3a4a98" fill-opacity="0.39"/><rect x="566.6" y="517.7" width="1" height="1" fill="#3a4a98" fill-opacity="0.07"/><rect x="568.2" y="523.0" width="1" height="1" fill="#3a4a98" fill-opacity="0.24"/><rect x="582.5" y="522.8" width="1" height="1" fill="#3a4a98" fill-opacity="0.45"/><rect x="580.7" y="527.2" width="1" height="1" fill="#3a4a98" fill-opacity="0.45"/><rect x="571.8" y="520.7" width="1" height="1" fill="#3a4a98" fill-opacity="0.37"/><rect x="584.7" y="517.9" width="1" height="1" fill="#3a4a98" fill-opacity="0.44"/><rect x="580.1" y="529.5" width="1" height="1" fill="#3a4a98" fill-opacity="0.43"/><rect x="576.3" y="513.2" width="1" height="1" fill="#3a4a98" fill-opacity="0.44"/><rect x="574.4" y="513.4" width="1" height="1" fill="#3a4a98" fill-opacity="0.35"/><rect x="569.8" y="522.1" width="1" height="1" fill="#3a4a98" fill-opacity="0.30"/><rect x="571.5" y="523.9" width="1" height="1" fill="#3a4a98" fill-opacity="0.42"/><rect x="568.6" y="516.1" width="1" height="1" fill="#3a4a98" fill-opacity="0.13"/><rect x="570.6" y="525.2" width="1" height="1" fill="#3a4a98" fill-opacity="0.40"/><rect x="567.0" y="513.3" width="1" height="1" fill="#3a4a98" fill-opacity="0.01"/><rect x="589.0" y="518.1" width="1" height="1" fill="#3a4a98" fill-opacity="0.23"/><rect x="567.3" y="523.9" width="1" height="1" fill="#3a4a98" fill-opacity="0.22"/><rect x="570.8" y="521.3" width="1" height="1" fill="#3a4a98" fill-opacity="0.33"/><rect x="582.7" y="526.6" width="1" height="1" fill="#3a4a98" fill-opacity="0.37"/><rect x="575.7" y="511.7" width="1" height="1" fill="#3a4a98" fill-opacity="0.38"/><rect x="582.9" y="523.2" width="1" height="1" fill="#3a4a98" fill-opacity="0.42"/><rect x="591.9" y="529.1" width="1" height="1" fill="#3a4a98" fill-opacity="0.00"/><rect x="568.4" y="524.1" width="1" height="1" fill="#3a4a98" fill-opacity="0.28"/><rect x="567.6" y="524.0" width="1" height="1" fill="#3a4a98" fill-opacity="0.23"/><rect x="572.5" y="522.0" width="1" height="1" fill="#3a4a98" fill-opacity="0.42"/><rect x="564.2" y="516.6" width="1" height="1" fill="#3a4a98" fill-opacity="0.00"/><rect x="585.7" y="515.5" width="1" height="1" fill="#3a4a98" fill-opacity="0.44"/><rect x="587.5" y="518.0" width="1" height="1" fill="#3a4a98" fill-opacity="0.31"/><rect x="568.3" y="521.6" width="1" height="1" fill="#3a4a98" fill-opacity="0.22"/><rect x="569.9" y="515.8" width="1" height="1" fill="#3a4a98" fill-opacity="0.19"/><rect x="570.9" y="520.1" width="1" height="1" fill="#3a4a98" fill-opacity="0.32"/><rect x="572.5" y="519.4" width="1" height="1" fill="#3a4a98" fill-opacity="0.38"/><rect x="583.0" y="522.6" width="1" height="1" fill="#3a4a98" fill-opacity="0.43"/><rect x="575.1" y="516.1" width="1" height="1" fill="#3a4a98" fill-opacity="0.43"/><rect x="576.8" y="512.0" width="1" height="1" fill="#3a4a98" fill-opacity="0.44"/><rect x="588.3" y="531.7" width="1" height="1" fill="#3a4a98" fill-opacity="0.01"/><rect x="582.2" y="526.0" width="1" height="1" fill="#3a4a98" fill-opacity="0.40"/><rect x="587.8" y="519.4" width="1" height="1" fill="#3a4a98" fill-opacity="0.26"/><rect x="586.7" y="518.3" width="1" height="1" fill="#3a4a98" fill-opacity="0.34"/><rect x="567.3" y="521.3" width="1" height="1" fill="#3a4a98" fill-opacity="0.17"/><rect x="581.0" y="537.8" width="1" height="1" fill="#3a4a98" fill-opacity="0.21"/><rect x="585.7" y="537.8" width="1" height="1" fill="#3a4a98" fill-opacity="0.00"/><rect x="578.1" y="535.2" width="1" height="1" fill="#3a4a98" fill-opacity="0.40"/><rect x="578.8" y="535.6" width="1" height="1" fill="#3a4a98" fill-opacity="0.35"/><rect x="569.2" y="529.9" width="1" height="1" fill="#3a4a98" fill-opacity="0.44"/><rect x="569.5" y="528.7" width="1" height="1" fill="#3a4a98" fill-opacity="0.43"/><rect x="579.0" y="533.6" width="1" height="1" fill="#3a4a98" fill-opacity="0.39"/><rect x="584.6" y="536.4" width="1" height="1" fill="#3a4a98" fill-opacity="0.07"/><rect x="564.0" y="522.9" width="1" height="1" fill="#3a4a98" fill-opacity="0.05"/><rect x="579.6" y="534.1" width="1" height="1" fill="#3a4a98" fill-opacity="0.35"/><rect x="567.9" y="532.0" width="1" height="1" fill="#3a4a98" fill-opacity="0.43"/><rect x="562.9" y="524.5" width="1" height="1" fill="#3a4a98" fill-opacity="0.03"/><rect x="568.0" y="531.8" width="1" height="1" fill="#3a4a98" fill-opacity="0.43"/><rect x="563.6" y="529.2" width="1" height="1" fill="#3a4a98" fill-opacity="0.17"/><rect x="581.2" y="532.1" width="1" height="1" fill="#3a4a98" fill-opacity="0.32"/><rect x="585.1" y="538.9" width="1" height="1" fill="#3a4a98" fill-opacity="0.00"/><rect x="567.0" y="529.2" width="1" height="1" fill="#3a4a98" fill-opacity="0.32"/><rect x="569.4" y="528.7" width="1" height="1" fill="#3a4a98" fill-opacity="0.42"/><rect x="566.1" y="525.4" width="1" height="1" fill="#3a4a98" fill-opacity="0.20"/><rect x="579.1" y="530.9" width="1" height="1" fill="#3a4a98" fill-opacity="0.45"/><rect x="578.8" y="531.7" width="1" height="1" fill="#3a4a98" fill-opacity="0.44"/><rect x="568.0" y="527.1" width="1" height="1" fill="#3a4a98" fill-opacity="0.32"/><rect x="560.9" y="523.5" width="1" height="1" fill="#3a4a98" fill-opacity="0.00"/><rect x="579.2" y="532.8" width="1" height="1" fill="#3a4a98" fill-opacity="0.40"/><rect x="568.7" y="530.0" width="1" height="1" fill="#3a4a98" fill-opacity="0.42"/><rect x="568.9" y="530.2" width="1" height="1" fill="#3a4a98" fill-opacity="0.43"/><rect x="576.6" y="536.7" width="1" height="1" fill="#3a4a98" fill-opacity="0.43"/><rect x="569.0" y="528.2" width="1" height="1" fill="#3a4a98" fill-opacity="0.39"/><rect x="578.1" y="536.2" width="1" height="1" fill="#3a4a98" fill-opacity="0.37"/><rect x="567.6" y="531.0" width="1" height="1" fill="#3a4a98" fill-opacity="0.39"/><rect x="567.6" y="526.2" width="1" height="1" fill="#3a4a98" fill-opacity="0.28"/><rect x="579.7" y="534.8" width="1" height="1" fill="#3a4a98" fill-opacity="0.33"/><rect x="568.3" y="530.5" width="1" height="1" fill="#3a4a98" fill-opacity="0.41"/><rect x="564.4" y="527.2" width="1" height="1" fill="#3a4a98" fill-opacity="0.16"/><rect x="577.4" y="538.8" width="1" height="1" fill="#3a4a98" fill-opacity="0.35"/><rect x="561.5" y="535.7" width="1" height="1" fill="#3a4a98" fill-opacity="0.20"/><rect x="563.9" y="536.1" width="1" height="1" fill="#3a4a98" fill-opacity="0.32"/><rect x="577.5" y="537.9" width="1" height="1" fill="#3a4a98" fill-opacity="0.36"/><rect x="575.9" y="541.2" width="1" height="1" fill="#3a4a98" fill-opacity="0.38"/><rect x="577.3" y="537.5" width="1" height="1" fill="#3a4a98" fill-opacity="0.38"/><rect x="559.8" y="531.3" width="1" height="1" fill="#3a4a98" fill-opacity="0.04"/><rect x="578.5" y="541.3" width="1" height="1" fill="#3a4a98" fill-opacity="0.25"/><rect x="561.3" y="532.9" width="1" height="1" fill="#3a4a98" fill-opacity="0.14"/><rect x="559.6" y="536.0" width="1" height="1" fill="#3a4a98" fill-opacity="0.12"/><rect x="575.8" y="538.2" width="1" height="1" fill="#3a4a98" fill-opacity="0.43"/><rect x="564.1" y="537.4" width="1" height="1" fill="#3a4a98" fill-opacity="0.35"/><rect x="567.0" y="534.7" width="1" height="1" fill="#3a4a98" fill-opacity="0.44"/><rect x="563.2" y="535.6" width="1" height="1" fill="#3a4a98" fill-opacity="0.28"/><rect x="565.6" y="535.7" width="1" height="1" fill="#3a4a98" fill-opacity="0.39"/><rect x="560.4" y="531.5" width="1" height="1" fill="#3a4a98" fill-opacity="0.08"/><rect x="563.6" y="534.7" width="1" height="1" fill="#3a4a98" fill-opacity="0.29"/><rect x="583.7" y="542.2" width="1" height="1" fill="#3a4a98" fill-opacity="0.00"/><rect x="580.0" y="539.1" width="1" height="1" fill="#3a4a98" fill-opacity="0.22"/><rect x="577.9" y="538.2" width="1" height="1" fill="#3a4a98" fill-opacity="0.34"/><rect x="565.8" y="534.5" width="1" height="1" fill="#3a4a98" fill-opacity="0.38"/><rect x="579.1" y="538.5" width="1" height="1" fill="#3a4a98" fill-opacity="0.28"/><rect x="577.5" y="538.2" width="1" height="1" fill="#3a4a98" fill-opacity="0.35"/><rect x="566.5" y="536.2" width="1" height="1" fill="#3a4a98" fill-opacity="0.45"/><rect x="579.8" y="541.2" width="1" height="1" fill="#3a4a98" fill-opacity="0.20"/><rect x="565.4" y="533.3" width="1" height="1" fill="#3a4a98" fill-opacity="0.34"/><rect x="560.1" y="532.6" width="1" height="1" fill="#3a4a98" fill-opacity="0.08"/></g>
<rect x="406.50" y="364.60" width="266.00" height="171.60" fill="none" stroke="#1f1f1f" stroke-width="1.35" />
<line x1="406.30" y1="364.60" x2="406.30" y2="367.60" stroke="#1f1f1f" stroke-width="1.1" />
<line x1="406.30" y1="536.20" x2="406.30" y2="533.20" stroke="#1f1f1f" stroke-width="1.1" />
<line x1="450.60" y1="364.60" x2="450.60" y2="367.60" stroke="#1f1f1f" stroke-width="1.1" />
<line x1="450.60" y1="536.20" x2="450.60" y2="533.20" stroke="#1f1f1f" stroke-width="1.1" />
<line x1="494.90" y1="364.60" x2="494.90" y2="367.60" stroke="#1f1f1f" stroke-width="1.1" />
<line x1="494.90" y1="536.20" x2="494.90" y2="533.20" stroke="#1f1f1f" stroke-width="1.1" />
<line x1="539.20" y1="364.60" x2="539.20" y2="367.60" stroke="#1f1f1f" stroke-width="1.1" />
<line x1="539.20" y1="536.20" x2="539.20" y2="533.20" stroke="#1f1f1f" stroke-width="1.1" />
<line x1="583.50" y1="364.60" x2="583.50" y2="367.60" stroke="#1f1f1f" stroke-width="1.1" />
<line x1="583.50" y1="536.20" x2="583.50" y2="533.20" stroke="#1f1f1f" stroke-width="1.1" />
<line x1="627.80" y1="364.60" x2="627.80" y2="367.60" stroke="#1f1f1f" stroke-width="1.1" />
<line x1="627.80" y1="536.20" x2="627.80" y2="533.20" stroke="#1f1f1f" stroke-width="1.1" />
<line x1="672.10" y1="364.60" x2="672.10" y2="367.60" stroke="#1f1f1f" stroke-width="1.1" />
<line x1="672.10" y1="536.20" x2="672.10" y2="533.20" stroke="#1f1f1f" stroke-width="1.1" />
<line x1="406.50" y1="532.40" x2="409.50" y2="532.40" stroke="#1f1f1f" stroke-width="1.1" />
<line x1="672.50" y1="532.40" x2="669.50" y2="532.40" stroke="#1f1f1f" stroke-width="1.1" />
<line x1="406.50" y1="489.90" x2="409.50" y2="489.90" stroke="#1f1f1f" stroke-width="1.1" />
<line x1="672.50" y1="489.90" x2="669.50" y2="489.90" stroke="#1f1f1f" stroke-width="1.1" />
<line x1="406.50" y1="447.40" x2="409.50" y2="447.40" stroke="#1f1f1f" stroke-width="1.1" />
<line x1="672.50" y1="447.40" x2="669.50" y2="447.40" stroke="#1f1f1f" stroke-width="1.1" />
<line x1="406.50" y1="404.90" x2="409.50" y2="404.90" stroke="#1f1f1f" stroke-width="1.1" />
<line x1="672.50" y1="404.90" x2="669.50" y2="404.90" stroke="#1f1f1f" stroke-width="1.1" />
<rect x="406.50" y="536.20" width="266.00" height="108.60" fill="none" stroke="#1f1f1f" stroke-width="1.35" />
<line x1="406.30" y1="536.20" x2="406.30" y2="539.20" stroke="#1f1f1f" stroke-width="1.1" />
<line x1="406.30" y1="644.80" x2="406.30" y2="641.80" stroke="#1f1f1f" stroke-width="1.1" />
<line x1="450.60" y1="536.20" x2="450.60" y2="539.20" stroke="#1f1f1f" stroke-width="1.1" />
<line x1="450.60" y1="644.80" x2="450.60" y2="641.80" stroke="#1f1f1f" stroke-width="1.1" />
<line x1="494.90" y1="536.20" x2="494.90" y2="539.20" stroke="#1f1f1f" stroke-width="1.1" />
<line x1="494.90" y1="644.80" x2="494.90" y2="641.80" stroke="#1f1f1f" stroke-width="1.1" />
<line x1="539.20" y1="536.20" x2="539.20" y2="539.20" stroke="#1f1f1f" stroke-width="1.1" />
<line x1="539.20" y1="644.80" x2="539.20" y2="641.80" stroke="#1f1f1f" stroke-width="1.1" />
<line x1="583.50" y1="536.20" x2="583.50" y2="539.20" stroke="#1f1f1f" stroke-width="1.1" />
<line x1="583.50" y1="644.80" x2="583.50" y2="641.80" stroke="#1f1f1f" stroke-width="1.1" />
<line x1="627.80" y1="536.20" x2="627.80" y2="539.20" stroke="#1f1f1f" stroke-width="1.1" />
<line x1="627.80" y1="644.80" x2="627.80" y2="641.80" stroke="#1f1f1f" stroke-width="1.1" />
<line x1="672.10" y1="536.20" x2="672.10" y2="539.20" stroke="#1f1f1f" stroke-width="1.1" />
<line x1="672.10" y1="644.80" x2="672.10" y2="641.80" stroke="#1f1f1f" stroke-width="1.1" />
<line x1="406.50" y1="644.00" x2="409.50" y2="644.00" stroke="#1f1f1f" stroke-width="1.1" />
<line x1="672.50" y1="644.00" x2="669.50" y2="644.00" stroke="#1f1f1f" stroke-width="1.1" />
<line x1="406.50" y1="619.75" x2="409.50" y2="619.75" stroke="#1f1f1f" stroke-width="1.1" />
<line x1="672.50" y1="619.75" x2="669.50" y2="619.75" stroke="#1f1f1f" stroke-width="1.1" />
<line x1="406.50" y1="595.50" x2="409.50" y2="595.50" stroke="#1f1f1f" stroke-width="1.1" />
<line x1="672.50" y1="595.50" x2="669.50" y2="595.50" stroke="#1f1f1f" stroke-width="1.1" />
<line x1="406.50" y1="571.25" x2="409.50" y2="571.25" stroke="#1f1f1f" stroke-width="1.1" />
<line x1="672.50" y1="571.25" x2="669.50" y2="571.25" stroke="#1f1f1f" stroke-width="1.1" />
<line x1="406.50" y1="547.00" x2="409.50" y2="547.00" stroke="#1f1f1f" stroke-width="1.1" />
<line x1="672.50" y1="547.00" x2="669.50" y2="547.00" stroke="#1f1f1f" stroke-width="1.1" />
<text x="401.50" y="536.40" font-size="12.5" text-anchor="end" fill="#262626" >5</text>
<text x="401.50" y="493.90" font-size="12.5" text-anchor="end" fill="#262626" >15</text>
<text x="401.50" y="451.40" font-size="12.5" text-anchor="end" fill="#262626" >25</text>
<text x="401.50" y="408.90" font-size="12.5" text-anchor="end" fill="#262626" >35</text>
<text x="401.50" y="551.00" font-size="12.5" text-anchor="end" fill="#262626" >0</text>
<text x="401.50" y="599.50" font-size="12.5" text-anchor="end" fill="#262626" >&#8722;0.1</text>
<text x="401.50" y="648.00" font-size="12.5" text-anchor="end" fill="#262626" >&#8722;0.2</text>
<text x="406.30" y="660.00" font-size="12.5" text-anchor="middle" fill="#262626" >1.15</text>
<text x="450.60" y="660.00" font-size="12.5" text-anchor="middle" fill="#262626" >1.2</text>
<text x="494.90" y="660.00" font-size="12.5" text-anchor="middle" fill="#262626" >1.25</text>
<text x="539.20" y="660.00" font-size="12.5" text-anchor="middle" fill="#262626" >1.3</text>
<text x="583.50" y="660.00" font-size="12.5" text-anchor="middle" fill="#262626" >1.35</text>
<text x="627.80" y="660.00" font-size="12.5" text-anchor="middle" fill="#262626" >1.4</text>
<text x="672.10" y="660.00" font-size="12.5" text-anchor="middle" fill="#262626" >1.45</text>
<text x="539.00" y="680.00" font-size="13" text-anchor="middle" fill="#262626" >Frequency (GHz)</text>
<polyline points="406.5,547.6 407.9,549.3 409.3,546.0 410.7,548.8 412.1,546.9 413.5,546.8 414.9,550.0 416.3,547.3 417.7,547.0 419.1,548.1 420.5,548.6 421.9,546.8 423.3,547.7 424.7,545.3 426.1,546.1 427.5,545.9 428.9,544.5 430.3,544.2 431.7,544.1 433.1,546.2 434.5,546.3 435.9,546.1 437.3,546.7 438.7,544.6 440.1,546.5 441.5,547.0 442.9,547.8 444.3,545.5 445.7,546.2 447.1,543.8 448.5,546.1 449.9,543.5 451.3,544.7 452.7,548.5 454.1,543.6 455.5,548.1 456.9,547.4 458.3,546.5 459.7,547.7 461.1,547.8 462.5,548.6 463.9,546.6 465.3,546.1 466.7,546.1 468.1,545.5 469.5,546.9 470.9,545.8 472.3,548.5 473.7,544.1 475.1,545.3 476.5,545.5 477.9,543.8 479.3,549.8 480.7,543.3 482.1,546.5 483.5,546.1 484.9,549.4 486.3,543.9 487.7,548.5 489.1,545.8 490.5,546.6 491.9,545.8 493.3,547.8 494.7,545.1 496.1,546.7 497.5,547.3 498.9,549.6 500.3,543.2 501.7,549.1 503.1,548.3 504.5,546.2 505.9,547.4 507.3,546.3 508.7,549.5 510.1,547.4 511.5,546.7 512.9,546.8 514.3,546.8 515.7,546.9 517.1,545.9 518.5,550.3 519.9,544.4 521.3,541.9 522.7,547.1 524.1,547.1 525.5,548.0 526.9,547.1 528.3,547.2 529.7,548.0 531.1,549.2 532.5,547.3 533.9,547.7 535.3,551.4 536.7,549.6 538.1,547.6 539.5,552.8 540.9,550.6 542.3,548.7 543.7,547.9 545.1,550.2 546.5,548.6 547.9,548.4 549.3,548.6 550.7,550.5 552.1,553.7 553.5,551.6 554.9,550.3 556.3,556.4 557.7,561.7 559.1,566.5 560.5,571.4 561.9,578.8 563.3,586.1 564.7,596.3 566.1,606.9 567.5,617.7 568.9,627.0 570.3,624.8 571.7,613.2 573.1,597.4 574.5,583.8 575.9,572.1 577.3,564.3 578.7,560.2 580.1,556.3 581.5,554.4 582.9,553.5 584.3,551.9 585.7,552.3 587.1,552.2 588.5,549.4 589.9,549.1 591.3,549.1 592.7,547.3 594.1,549.8 595.5,550.7 596.9,548.8 598.3,548.0 599.7,547.8 601.1,546.9 602.5,546.7 603.9,547.1 605.3,546.3 606.7,546.8 608.1,544.9 609.5,547.6 610.9,547.0 612.3,545.1 613.7,543.2 615.1,546.5 616.5,548.0 617.9,545.1 619.3,545.3 620.7,545.1 622.1,546.8 623.5,544.5 624.9,547.4 626.3,545.5 627.7,547.3 629.1,546.0 630.5,545.7 631.9,543.8 633.3,545.1 634.7,545.7 636.1,547.1 637.5,546.6 638.9,545.2 640.3,546.9 641.7,547.8 643.1,546.1 644.5,545.7 645.9,545.8 647.3,547.6 648.7,547.2 650.1,545.0 651.5,547.0 652.9,545.8 654.3,545.4 655.7,548.4 657.1,547.8 658.5,545.5 659.9,546.7 661.3,547.4 662.7,545.7 664.1,546.5 665.5,547.7 666.9,544.0 668.3,547.2 669.7,547.9 671.1,547.5" fill="none" stroke="#5b1a6b" stroke-width="2.3" stroke-linejoin="round" stroke-linecap="round" />
<text x="615.10" y="571.90" font-size="13" text-anchor="start" fill="#262626" >3C-SiC</text>
<text x="615.10" y="587.80" font-size="13" text-anchor="start" fill="#262626" >6 K</text>
<text x="615.10" y="632.60" font-size="13" text-anchor="start" fill="#262626" ><tspan font-style="italic">B</tspan>=0</text>
<linearGradient id="cbd" x1="0" y1="0" x2="0" y2="1"><stop offset="0" stop-color="#c3302a"/><stop offset="0.1" stop-color="#dc4a26"/><stop offset="0.22" stop-color="#f08a30"/><stop offset="0.32" stop-color="#f8cc40"/><stop offset="0.4" stop-color="#fbe890"/><stop offset="0.465" stop-color="#ffffff"/><stop offset="0.5" stop-color="#eef0f4"/><stop offset="0.56" stop-color="#c6cadc"/><stop offset="0.72" stop-color="#7a88b4"/><stop offset="0.88" stop-color="#3a4a8c"/><stop offset="1" stop-color="#1c2a6a"/></linearGradient><rect x="436.0" y="406.7" width="7.5" height="75.7" fill="url(#cbd)" stroke="#333" stroke-width="0.6"/>
<text x="0" y="0" font-size="11" text-anchor="middle" fill="#262626" transform="translate(447.60,410.00) rotate(90)">0.3</text>
<text x="0" y="0" font-size="11" text-anchor="middle" fill="#262626" transform="translate(447.60,445.90) rotate(90)">0</text>
<text x="0" y="0" font-size="11" text-anchor="middle" fill="#262626" transform="translate(447.60,480.00) rotate(90)">&#8722;0.3</text>
<text x="0" y="0" font-size="11.2" text-anchor="start" fill="#262626" transform="translate(459.60,418.40) rotate(90)">Δ<tspan font-style="italic">I</tspan><tspan font-size="7.6" dy="2.2">PL</tspan><tspan dy="-2.2">/</tspan><tspan font-style="italic">I</tspan><tspan font-size="7.6" dy="2.2">PL</tspan><tspan dy="-2.2"> (%)</tspan></text>
</g>
<text x="347.80" y="371.70" font-size="22" text-anchor="start" fill="#262626" font-weight="bold" fill="#000">d</text>
<text x="0.00" y="0.00" font-size="13.2" text-anchor="middle" fill="#262626" transform="translate(12.0,593.9) rotate(-90)">Δ<tspan font-style="italic">I</tspan><tspan font-size="9" dy="2.8">PL</tspan><tspan dy="-2.8"> / </tspan><tspan font-style="italic">I</tspan><tspan font-size="9" dy="2.8">PL</tspan><tspan dy="-2.8">(%)</tspan></text>
<text x="0.00" y="0.00" font-size="12.7" text-anchor="middle" fill="#262626" transform="translate(362.6,239.9) rotate(-90)">Δ<tspan font-style="italic">I</tspan><tspan font-size="9" dy="2.8">PL</tspan><tspan dy="-2.8">/ </tspan><tspan font-style="italic">I</tspan><tspan font-size="9" dy="2.8">PL</tspan><tspan dy="-2.8">(%)</tspan></text>
<text x="0.00" y="0.00" font-size="13.0" text-anchor="middle" fill="#262626" transform="translate(362.6,589.3) rotate(-90)">Δ<tspan font-style="italic">I</tspan><tspan font-size="9" dy="2.8">PL</tspan><tspan dy="-2.8"> / </tspan><tspan font-style="italic">I</tspan><tspan font-size="9" dy="2.8">PL</tspan><tspan dy="-2.8">(%)</tspan></text>
<text x="0.00" y="0.00" font-size="12.4" text-anchor="middle" fill="#262626" transform="translate(16.4,448.9) rotate(-90)"><tspan font-style="italic">B</tspan> (Gauss)</text>
<text x="0.00" y="0.00" font-size="12.4" text-anchor="middle" fill="#262626" transform="translate(366.8,449.5) rotate(-90)"><tspan font-style="italic">B</tspan> (Gauss)</text>
</svg>
</body></html>
